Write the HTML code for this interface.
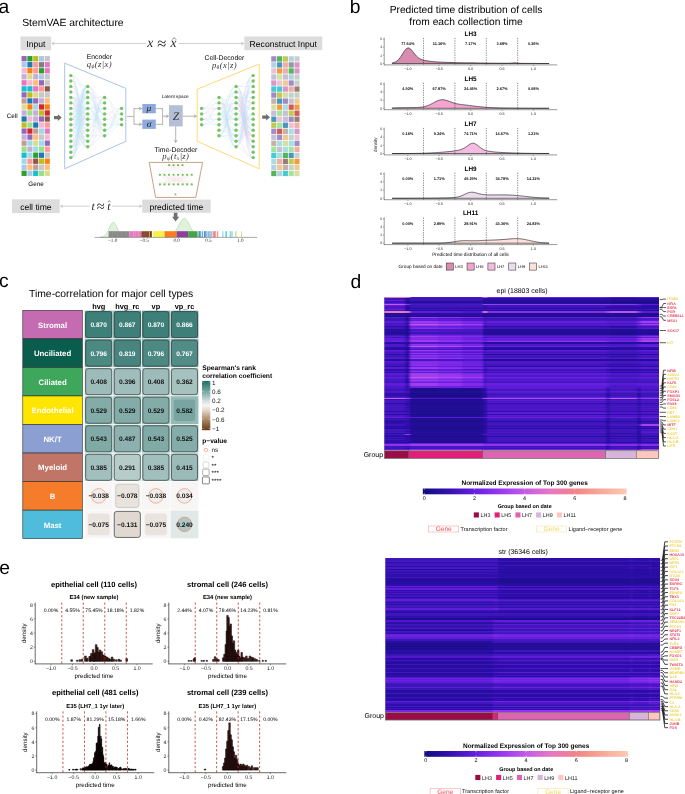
<!DOCTYPE html>
<html><head><meta charset="utf-8"><title>StemVAE figure</title>
<style>
html,body{margin:0;padding:0;background:#fff;}
body{width:685px;height:794px;overflow:hidden;font-family:"Liberation Sans",sans-serif;}
svg{display:block;will-change:transform;}
</style></head><body>
<svg width="685" height="794" viewBox="0 0 685 794" text-rendering="geometricPrecision">
<rect width="685" height="794" fill="#fff"/>
<g id="panel_a">
<text x="-1.60" y="12.60" font-size="19.3" text-anchor="start" font-weight="normal" fill="#000" font-family="Liberation Sans" font-style="normal" >a</text>
<text x="22.20" y="26.30" font-size="10.4" text-anchor="start" font-weight="normal" fill="#000" font-family="Liberation Sans" font-style="normal" >StemVAE architecture</text>
<rect x="20.50" y="36.50" width="30.70" height="13.70" fill="#dcdcdc" stroke="none" stroke-width="0" rx="0" />
<text x="35.90" y="46.80" font-size="8.6" text-anchor="middle" font-weight="normal" fill="#000" font-family="Liberation Sans" font-style="normal" >Input</text>
<rect x="244.30" y="36.50" width="78.00" height="13.70" fill="#dcdcdc" stroke="none" stroke-width="0" rx="0" />
<text x="283.30" y="46.80" font-size="8.6" text-anchor="middle" font-weight="normal" fill="#000" font-family="Liberation Sans" font-style="normal" >Reconstruct Input</text>
<line x1="146.00" y1="43.50" x2="52.00" y2="43.50" stroke="#999" stroke-width="0.45" />
<polyline points="54.34,42.15 52.00,43.50 54.34,44.85" fill="none" stroke="#999" stroke-width="0.45"/>
<line x1="178.60" y1="43.50" x2="243.60" y2="43.50" stroke="#999" stroke-width="0.45" />
<polyline points="241.26,44.85 243.60,43.50 241.26,42.15" fill="none" stroke="#999" stroke-width="0.45"/>
<text x="147.20" y="47.30" font-size="13.5" text-anchor="start" font-weight="normal" fill="#222" font-family="Liberation Serif" font-style="italic" >x</text>
<text x="157.20" y="49.00" font-size="16.5" text-anchor="start" font-weight="normal" fill="#222" font-family="Liberation Serif" font-style="normal" >≈</text>
<text x="170.40" y="47.30" font-size="13.5" text-anchor="start" font-weight="normal" fill="#222" font-family="Liberation Serif" font-style="italic" >x</text>
<polyline points="172.3,39.6 174.2,37.6 176.1,39.6" fill="none" stroke="#222" stroke-width="0.55"/>
<rect x="21.55" y="56.05" width="5.10" height="5.33" fill="#9467bd" stroke="none" stroke-width="0" rx="0" />
<rect x="27.35" y="56.05" width="5.10" height="5.33" fill="#2ca02c" stroke="none" stroke-width="0" rx="0" />
<rect x="33.15" y="56.05" width="5.10" height="5.33" fill="#bcbd22" stroke="none" stroke-width="0" rx="0" />
<rect x="38.95" y="56.05" width="5.10" height="5.33" fill="#aec7e8" stroke="none" stroke-width="0" rx="0" />
<rect x="44.75" y="56.05" width="5.10" height="5.33" fill="#c7c7c7" stroke="none" stroke-width="0" rx="0" />
<rect x="21.55" y="62.08" width="5.10" height="5.33" fill="#aec7e8" stroke="none" stroke-width="0" rx="0" />
<rect x="27.35" y="62.08" width="5.10" height="5.33" fill="#1f77b4" stroke="none" stroke-width="0" rx="0" />
<rect x="33.15" y="62.08" width="5.10" height="5.33" fill="#ff9896" stroke="none" stroke-width="0" rx="0" />
<rect x="38.95" y="62.08" width="5.10" height="5.33" fill="#7f7f7f" stroke="none" stroke-width="0" rx="0" />
<rect x="44.75" y="62.08" width="5.10" height="5.33" fill="#e377c2" stroke="none" stroke-width="0" rx="0" />
<rect x="21.55" y="68.11" width="5.10" height="5.33" fill="#f7b6d2" stroke="none" stroke-width="0" rx="0" />
<rect x="27.35" y="68.11" width="5.10" height="5.33" fill="#ff7f0e" stroke="none" stroke-width="0" rx="0" />
<rect x="33.15" y="68.11" width="5.10" height="5.33" fill="#ff9896" stroke="none" stroke-width="0" rx="0" />
<rect x="38.95" y="68.11" width="5.10" height="5.33" fill="#2ca02c" stroke="none" stroke-width="0" rx="0" />
<rect x="44.75" y="68.11" width="5.10" height="5.33" fill="#e377c2" stroke="none" stroke-width="0" rx="0" />
<rect x="21.55" y="74.14" width="5.10" height="5.33" fill="#c5b0d5" stroke="none" stroke-width="0" rx="0" />
<rect x="27.35" y="74.14" width="5.10" height="5.33" fill="#dbdb8d" stroke="none" stroke-width="0" rx="0" />
<rect x="33.15" y="74.14" width="5.10" height="5.33" fill="#c5b0d5" stroke="none" stroke-width="0" rx="0" />
<rect x="38.95" y="74.14" width="5.10" height="5.33" fill="#aec7e8" stroke="none" stroke-width="0" rx="0" />
<rect x="44.75" y="74.14" width="5.10" height="5.33" fill="#c7c7c7" stroke="none" stroke-width="0" rx="0" />
<rect x="21.55" y="80.17" width="5.10" height="5.33" fill="#e377c2" stroke="none" stroke-width="0" rx="0" />
<rect x="27.35" y="80.17" width="5.10" height="5.33" fill="#f7b6d2" stroke="none" stroke-width="0" rx="0" />
<rect x="33.15" y="80.17" width="5.10" height="5.33" fill="#ffbb78" stroke="none" stroke-width="0" rx="0" />
<rect x="38.95" y="80.17" width="5.10" height="5.33" fill="#9467bd" stroke="none" stroke-width="0" rx="0" />
<rect x="44.75" y="80.17" width="5.10" height="5.33" fill="#c7c7c7" stroke="none" stroke-width="0" rx="0" />
<rect x="21.55" y="86.20" width="5.10" height="5.33" fill="#17becf" stroke="none" stroke-width="0" rx="0" />
<rect x="27.35" y="86.20" width="5.10" height="5.33" fill="#17becf" stroke="none" stroke-width="0" rx="0" />
<rect x="33.15" y="86.20" width="5.10" height="5.33" fill="#e377c2" stroke="none" stroke-width="0" rx="0" />
<rect x="38.95" y="86.20" width="5.10" height="5.33" fill="#ff9896" stroke="none" stroke-width="0" rx="0" />
<rect x="44.75" y="86.20" width="5.10" height="5.33" fill="#8c564b" stroke="none" stroke-width="0" rx="0" />
<rect x="21.55" y="92.23" width="5.10" height="5.33" fill="#9467bd" stroke="none" stroke-width="0" rx="0" />
<rect x="27.35" y="92.23" width="5.10" height="5.33" fill="#bcbd22" stroke="none" stroke-width="0" rx="0" />
<rect x="33.15" y="92.23" width="5.10" height="5.33" fill="#dbdb8d" stroke="none" stroke-width="0" rx="0" />
<rect x="38.95" y="92.23" width="5.10" height="5.33" fill="#c7c7c7" stroke="none" stroke-width="0" rx="0" />
<rect x="44.75" y="92.23" width="5.10" height="5.33" fill="#c7c7c7" stroke="none" stroke-width="0" rx="0" />
<rect x="21.55" y="98.26" width="5.10" height="5.33" fill="#c49c94" stroke="none" stroke-width="0" rx="0" />
<rect x="27.35" y="98.26" width="5.10" height="5.33" fill="#1f77b4" stroke="none" stroke-width="0" rx="0" />
<rect x="33.15" y="98.26" width="5.10" height="5.33" fill="#9467bd" stroke="none" stroke-width="0" rx="0" />
<rect x="38.95" y="98.26" width="5.10" height="5.33" fill="#c5b0d5" stroke="none" stroke-width="0" rx="0" />
<rect x="44.75" y="98.26" width="5.10" height="5.33" fill="#ffbb78" stroke="none" stroke-width="0" rx="0" />
<rect x="21.55" y="104.29" width="5.10" height="5.33" fill="#dbdb8d" stroke="none" stroke-width="0" rx="0" />
<rect x="27.35" y="104.29" width="5.10" height="5.33" fill="#ff7f0e" stroke="none" stroke-width="0" rx="0" />
<rect x="33.15" y="104.29" width="5.10" height="5.33" fill="#9edae5" stroke="none" stroke-width="0" rx="0" />
<rect x="38.95" y="104.29" width="5.10" height="5.33" fill="#d62728" stroke="none" stroke-width="0" rx="0" />
<rect x="44.75" y="104.29" width="5.10" height="5.33" fill="#ff7f0e" stroke="none" stroke-width="0" rx="0" />
<rect x="21.55" y="110.32" width="5.10" height="5.33" fill="#c5b0d5" stroke="none" stroke-width="0" rx="0" />
<rect x="27.35" y="110.32" width="5.10" height="5.33" fill="#98df8a" stroke="none" stroke-width="0" rx="0" />
<rect x="33.15" y="110.32" width="5.10" height="5.33" fill="#c5b0d5" stroke="none" stroke-width="0" rx="0" />
<rect x="38.95" y="110.32" width="5.10" height="5.33" fill="#bcbd22" stroke="none" stroke-width="0" rx="0" />
<rect x="44.75" y="110.32" width="5.10" height="5.33" fill="#d62728" stroke="none" stroke-width="0" rx="0" />
<rect x="21.55" y="116.35" width="5.10" height="5.33" fill="#1f77b4" stroke="none" stroke-width="0" rx="0" />
<rect x="27.35" y="116.35" width="5.10" height="5.33" fill="#f7b6d2" stroke="none" stroke-width="0" rx="0" />
<rect x="33.15" y="116.35" width="5.10" height="5.33" fill="#c5b0d5" stroke="none" stroke-width="0" rx="0" />
<rect x="38.95" y="116.35" width="5.10" height="5.33" fill="#9467bd" stroke="none" stroke-width="0" rx="0" />
<rect x="44.75" y="116.35" width="5.10" height="5.33" fill="#8c564b" stroke="none" stroke-width="0" rx="0" />
<rect x="21.55" y="122.38" width="5.10" height="5.33" fill="#bcbd22" stroke="none" stroke-width="0" rx="0" />
<rect x="27.35" y="122.38" width="5.10" height="5.33" fill="#98df8a" stroke="none" stroke-width="0" rx="0" />
<rect x="33.15" y="122.38" width="5.10" height="5.33" fill="#1f77b4" stroke="none" stroke-width="0" rx="0" />
<rect x="38.95" y="122.38" width="5.10" height="5.33" fill="#f7b6d2" stroke="none" stroke-width="0" rx="0" />
<rect x="44.75" y="122.38" width="5.10" height="5.33" fill="#ff9896" stroke="none" stroke-width="0" rx="0" />
<rect x="21.55" y="128.41" width="5.10" height="5.33" fill="#9467bd" stroke="none" stroke-width="0" rx="0" />
<rect x="27.35" y="128.41" width="5.10" height="5.33" fill="#d62728" stroke="none" stroke-width="0" rx="0" />
<rect x="33.15" y="128.41" width="5.10" height="5.33" fill="#c49c94" stroke="none" stroke-width="0" rx="0" />
<rect x="38.95" y="128.41" width="5.10" height="5.33" fill="#9edae5" stroke="none" stroke-width="0" rx="0" />
<rect x="44.75" y="128.41" width="5.10" height="5.33" fill="#e377c2" stroke="none" stroke-width="0" rx="0" />
<rect x="21.55" y="134.44" width="5.10" height="5.33" fill="#c5b0d5" stroke="none" stroke-width="0" rx="0" />
<rect x="27.35" y="134.44" width="5.10" height="5.33" fill="#9467bd" stroke="none" stroke-width="0" rx="0" />
<rect x="33.15" y="134.44" width="5.10" height="5.33" fill="#ffbb78" stroke="none" stroke-width="0" rx="0" />
<rect x="38.95" y="134.44" width="5.10" height="5.33" fill="#c7c7c7" stroke="none" stroke-width="0" rx="0" />
<rect x="44.75" y="134.44" width="5.10" height="5.33" fill="#f7b6d2" stroke="none" stroke-width="0" rx="0" />
<rect x="21.55" y="140.47" width="5.10" height="5.33" fill="#c49c94" stroke="none" stroke-width="0" rx="0" />
<rect x="27.35" y="140.47" width="5.10" height="5.33" fill="#9edae5" stroke="none" stroke-width="0" rx="0" />
<rect x="33.15" y="140.47" width="5.10" height="5.33" fill="#dbdb8d" stroke="none" stroke-width="0" rx="0" />
<rect x="38.95" y="140.47" width="5.10" height="5.33" fill="#9edae5" stroke="none" stroke-width="0" rx="0" />
<rect x="44.75" y="140.47" width="5.10" height="5.33" fill="#9467bd" stroke="none" stroke-width="0" rx="0" />
<rect x="21.55" y="146.50" width="5.10" height="5.33" fill="#98df8a" stroke="none" stroke-width="0" rx="0" />
<rect x="27.35" y="146.50" width="5.10" height="5.33" fill="#c5b0d5" stroke="none" stroke-width="0" rx="0" />
<rect x="33.15" y="146.50" width="5.10" height="5.33" fill="#9edae5" stroke="none" stroke-width="0" rx="0" />
<rect x="38.95" y="146.50" width="5.10" height="5.33" fill="#98df8a" stroke="none" stroke-width="0" rx="0" />
<rect x="44.75" y="146.50" width="5.10" height="5.33" fill="#ff9896" stroke="none" stroke-width="0" rx="0" />
<rect x="21.55" y="152.53" width="5.10" height="5.33" fill="#17becf" stroke="none" stroke-width="0" rx="0" />
<rect x="27.35" y="152.53" width="5.10" height="5.33" fill="#9edae5" stroke="none" stroke-width="0" rx="0" />
<rect x="33.15" y="152.53" width="5.10" height="5.33" fill="#2ca02c" stroke="none" stroke-width="0" rx="0" />
<rect x="38.95" y="152.53" width="5.10" height="5.33" fill="#1f77b4" stroke="none" stroke-width="0" rx="0" />
<rect x="44.75" y="152.53" width="5.10" height="5.33" fill="#c7c7c7" stroke="none" stroke-width="0" rx="0" />
<rect x="21.55" y="158.56" width="5.10" height="5.33" fill="#9edae5" stroke="none" stroke-width="0" rx="0" />
<rect x="27.35" y="158.56" width="5.10" height="5.33" fill="#ff9896" stroke="none" stroke-width="0" rx="0" />
<rect x="33.15" y="158.56" width="5.10" height="5.33" fill="#8c564b" stroke="none" stroke-width="0" rx="0" />
<rect x="38.95" y="158.56" width="5.10" height="5.33" fill="#bcbd22" stroke="none" stroke-width="0" rx="0" />
<rect x="44.75" y="158.56" width="5.10" height="5.33" fill="#ff7f0e" stroke="none" stroke-width="0" rx="0" />
<rect x="21.55" y="164.59" width="5.10" height="5.33" fill="#aec7e8" stroke="none" stroke-width="0" rx="0" />
<rect x="27.35" y="164.59" width="5.10" height="5.33" fill="#ffbb78" stroke="none" stroke-width="0" rx="0" />
<rect x="33.15" y="164.59" width="5.10" height="5.33" fill="#c49c94" stroke="none" stroke-width="0" rx="0" />
<rect x="38.95" y="164.59" width="5.10" height="5.33" fill="#c7c7c7" stroke="none" stroke-width="0" rx="0" />
<rect x="44.75" y="164.59" width="5.10" height="5.33" fill="#ffbb78" stroke="none" stroke-width="0" rx="0" />
<rect x="21.55" y="170.62" width="5.10" height="5.33" fill="#2ca02c" stroke="none" stroke-width="0" rx="0" />
<rect x="27.35" y="170.62" width="5.10" height="5.33" fill="#aec7e8" stroke="none" stroke-width="0" rx="0" />
<rect x="33.15" y="170.62" width="5.10" height="5.33" fill="#17becf" stroke="none" stroke-width="0" rx="0" />
<rect x="38.95" y="170.62" width="5.10" height="5.33" fill="#98df8a" stroke="none" stroke-width="0" rx="0" />
<rect x="44.75" y="170.62" width="5.10" height="5.33" fill="#dbdb8d" stroke="none" stroke-width="0" rx="0" />
<rect x="271.25" y="56.25" width="5.10" height="5.33" fill="#a18bc4" stroke="none" stroke-width="0" rx="0" />
<rect x="277.05" y="56.25" width="5.10" height="5.33" fill="#54b45a" stroke="none" stroke-width="0" rx="0" />
<rect x="282.85" y="56.25" width="5.10" height="5.33" fill="#beca53" stroke="none" stroke-width="0" rx="0" />
<rect x="288.65" y="56.25" width="5.10" height="5.33" fill="#b4d1e4" stroke="none" stroke-width="0" rx="0" />
<rect x="294.45" y="56.25" width="5.10" height="5.33" fill="#c6d1cc" stroke="none" stroke-width="0" rx="0" />
<rect x="271.25" y="62.28" width="5.10" height="5.33" fill="#b4d1e4" stroke="none" stroke-width="0" rx="0" />
<rect x="277.05" y="62.28" width="5.10" height="5.33" fill="#4b96be" stroke="none" stroke-width="0" rx="0" />
<rect x="282.85" y="62.28" width="5.10" height="5.33" fill="#efaea8" stroke="none" stroke-width="0" rx="0" />
<rect x="288.65" y="62.28" width="5.10" height="5.33" fill="#919c96" stroke="none" stroke-width="0" rx="0" />
<rect x="294.45" y="62.28" width="5.10" height="5.33" fill="#da96c7" stroke="none" stroke-width="0" rx="0" />
<rect x="271.25" y="68.31" width="5.10" height="5.33" fill="#e9c5d3" stroke="none" stroke-width="0" rx="0" />
<rect x="277.05" y="68.31" width="5.10" height="5.33" fill="#ef9c44" stroke="none" stroke-width="0" rx="0" />
<rect x="282.85" y="68.31" width="5.10" height="5.33" fill="#efaea8" stroke="none" stroke-width="0" rx="0" />
<rect x="288.65" y="68.31" width="5.10" height="5.33" fill="#54b45a" stroke="none" stroke-width="0" rx="0" />
<rect x="294.45" y="68.31" width="5.10" height="5.33" fill="#da96c7" stroke="none" stroke-width="0" rx="0" />
<rect x="271.25" y="74.34" width="5.10" height="5.33" fill="#c4c0d6" stroke="none" stroke-width="0" rx="0" />
<rect x="277.05" y="74.34" width="5.10" height="5.33" fill="#d4dfa1" stroke="none" stroke-width="0" rx="0" />
<rect x="282.85" y="74.34" width="5.10" height="5.33" fill="#c4c0d6" stroke="none" stroke-width="0" rx="0" />
<rect x="288.65" y="74.34" width="5.10" height="5.33" fill="#b4d1e4" stroke="none" stroke-width="0" rx="0" />
<rect x="294.45" y="74.34" width="5.10" height="5.33" fill="#c6d1cc" stroke="none" stroke-width="0" rx="0" />
<rect x="271.25" y="80.37" width="5.10" height="5.33" fill="#da96c7" stroke="none" stroke-width="0" rx="0" />
<rect x="277.05" y="80.37" width="5.10" height="5.33" fill="#e9c5d3" stroke="none" stroke-width="0" rx="0" />
<rect x="282.85" y="80.37" width="5.10" height="5.33" fill="#efc892" stroke="none" stroke-width="0" rx="0" />
<rect x="288.65" y="80.37" width="5.10" height="5.33" fill="#a18bc4" stroke="none" stroke-width="0" rx="0" />
<rect x="294.45" y="80.37" width="5.10" height="5.33" fill="#c6d1cc" stroke="none" stroke-width="0" rx="0" />
<rect x="271.25" y="86.40" width="5.10" height="5.33" fill="#45cad1" stroke="none" stroke-width="0" rx="0" />
<rect x="277.05" y="86.40" width="5.10" height="5.33" fill="#45cad1" stroke="none" stroke-width="0" rx="0" />
<rect x="282.85" y="86.40" width="5.10" height="5.33" fill="#da96c7" stroke="none" stroke-width="0" rx="0" />
<rect x="288.65" y="86.40" width="5.10" height="5.33" fill="#efaea8" stroke="none" stroke-width="0" rx="0" />
<rect x="294.45" y="86.40" width="5.10" height="5.33" fill="#9b7e71" stroke="none" stroke-width="0" rx="0" />
<rect x="271.25" y="92.43" width="5.10" height="5.33" fill="#a18bc4" stroke="none" stroke-width="0" rx="0" />
<rect x="277.05" y="92.43" width="5.10" height="5.33" fill="#beca53" stroke="none" stroke-width="0" rx="0" />
<rect x="282.85" y="92.43" width="5.10" height="5.33" fill="#d4dfa1" stroke="none" stroke-width="0" rx="0" />
<rect x="288.65" y="92.43" width="5.10" height="5.33" fill="#c6d1cc" stroke="none" stroke-width="0" rx="0" />
<rect x="294.45" y="92.43" width="5.10" height="5.33" fill="#c6d1cc" stroke="none" stroke-width="0" rx="0" />
<rect x="271.25" y="98.46" width="5.10" height="5.33" fill="#c4b2a6" stroke="none" stroke-width="0" rx="0" />
<rect x="277.05" y="98.46" width="5.10" height="5.33" fill="#4b96be" stroke="none" stroke-width="0" rx="0" />
<rect x="282.85" y="98.46" width="5.10" height="5.33" fill="#a18bc4" stroke="none" stroke-width="0" rx="0" />
<rect x="288.65" y="98.46" width="5.10" height="5.33" fill="#c4c0d6" stroke="none" stroke-width="0" rx="0" />
<rect x="294.45" y="98.46" width="5.10" height="5.33" fill="#efc892" stroke="none" stroke-width="0" rx="0" />
<rect x="271.25" y="104.49" width="5.10" height="5.33" fill="#d4dfa1" stroke="none" stroke-width="0" rx="0" />
<rect x="277.05" y="104.49" width="5.10" height="5.33" fill="#ef9c44" stroke="none" stroke-width="0" rx="0" />
<rect x="282.85" y="104.49" width="5.10" height="5.33" fill="#a8dee1" stroke="none" stroke-width="0" rx="0" />
<rect x="288.65" y="104.49" width="5.10" height="5.33" fill="#d15c57" stroke="none" stroke-width="0" rx="0" />
<rect x="294.45" y="104.49" width="5.10" height="5.33" fill="#ef9c44" stroke="none" stroke-width="0" rx="0" />
<rect x="271.25" y="110.52" width="5.10" height="5.33" fill="#c4c0d6" stroke="none" stroke-width="0" rx="0" />
<rect x="277.05" y="110.52" width="5.10" height="5.33" fill="#a3e29f" stroke="none" stroke-width="0" rx="0" />
<rect x="282.85" y="110.52" width="5.10" height="5.33" fill="#c4c0d6" stroke="none" stroke-width="0" rx="0" />
<rect x="288.65" y="110.52" width="5.10" height="5.33" fill="#beca53" stroke="none" stroke-width="0" rx="0" />
<rect x="294.45" y="110.52" width="5.10" height="5.33" fill="#d15c57" stroke="none" stroke-width="0" rx="0" />
<rect x="271.25" y="116.55" width="5.10" height="5.33" fill="#4b96be" stroke="none" stroke-width="0" rx="0" />
<rect x="277.05" y="116.55" width="5.10" height="5.33" fill="#e9c5d3" stroke="none" stroke-width="0" rx="0" />
<rect x="282.85" y="116.55" width="5.10" height="5.33" fill="#c4c0d6" stroke="none" stroke-width="0" rx="0" />
<rect x="288.65" y="116.55" width="5.10" height="5.33" fill="#a18bc4" stroke="none" stroke-width="0" rx="0" />
<rect x="294.45" y="116.55" width="5.10" height="5.33" fill="#9b7e71" stroke="none" stroke-width="0" rx="0" />
<rect x="271.25" y="122.58" width="5.10" height="5.33" fill="#beca53" stroke="none" stroke-width="0" rx="0" />
<rect x="277.05" y="122.58" width="5.10" height="5.33" fill="#a3e29f" stroke="none" stroke-width="0" rx="0" />
<rect x="282.85" y="122.58" width="5.10" height="5.33" fill="#4b96be" stroke="none" stroke-width="0" rx="0" />
<rect x="288.65" y="122.58" width="5.10" height="5.33" fill="#e9c5d3" stroke="none" stroke-width="0" rx="0" />
<rect x="294.45" y="122.58" width="5.10" height="5.33" fill="#efaea8" stroke="none" stroke-width="0" rx="0" />
<rect x="271.25" y="128.61" width="5.10" height="5.33" fill="#a18bc4" stroke="none" stroke-width="0" rx="0" />
<rect x="277.05" y="128.61" width="5.10" height="5.33" fill="#d15c57" stroke="none" stroke-width="0" rx="0" />
<rect x="282.85" y="128.61" width="5.10" height="5.33" fill="#c4b2a6" stroke="none" stroke-width="0" rx="0" />
<rect x="288.65" y="128.61" width="5.10" height="5.33" fill="#a8dee1" stroke="none" stroke-width="0" rx="0" />
<rect x="294.45" y="128.61" width="5.10" height="5.33" fill="#da96c7" stroke="none" stroke-width="0" rx="0" />
<rect x="271.25" y="134.64" width="5.10" height="5.33" fill="#c4c0d6" stroke="none" stroke-width="0" rx="0" />
<rect x="277.05" y="134.64" width="5.10" height="5.33" fill="#a18bc4" stroke="none" stroke-width="0" rx="0" />
<rect x="282.85" y="134.64" width="5.10" height="5.33" fill="#efc892" stroke="none" stroke-width="0" rx="0" />
<rect x="288.65" y="134.64" width="5.10" height="5.33" fill="#c6d1cc" stroke="none" stroke-width="0" rx="0" />
<rect x="294.45" y="134.64" width="5.10" height="5.33" fill="#e9c5d3" stroke="none" stroke-width="0" rx="0" />
<rect x="271.25" y="140.67" width="5.10" height="5.33" fill="#c4b2a6" stroke="none" stroke-width="0" rx="0" />
<rect x="277.05" y="140.67" width="5.10" height="5.33" fill="#a8dee1" stroke="none" stroke-width="0" rx="0" />
<rect x="282.85" y="140.67" width="5.10" height="5.33" fill="#d4dfa1" stroke="none" stroke-width="0" rx="0" />
<rect x="288.65" y="140.67" width="5.10" height="5.33" fill="#a8dee1" stroke="none" stroke-width="0" rx="0" />
<rect x="294.45" y="140.67" width="5.10" height="5.33" fill="#a18bc4" stroke="none" stroke-width="0" rx="0" />
<rect x="271.25" y="146.70" width="5.10" height="5.33" fill="#a3e29f" stroke="none" stroke-width="0" rx="0" />
<rect x="277.05" y="146.70" width="5.10" height="5.33" fill="#c4c0d6" stroke="none" stroke-width="0" rx="0" />
<rect x="282.85" y="146.70" width="5.10" height="5.33" fill="#a8dee1" stroke="none" stroke-width="0" rx="0" />
<rect x="288.65" y="146.70" width="5.10" height="5.33" fill="#a3e29f" stroke="none" stroke-width="0" rx="0" />
<rect x="294.45" y="146.70" width="5.10" height="5.33" fill="#efaea8" stroke="none" stroke-width="0" rx="0" />
<rect x="271.25" y="152.73" width="5.10" height="5.33" fill="#45cad1" stroke="none" stroke-width="0" rx="0" />
<rect x="277.05" y="152.73" width="5.10" height="5.33" fill="#a8dee1" stroke="none" stroke-width="0" rx="0" />
<rect x="282.85" y="152.73" width="5.10" height="5.33" fill="#54b45a" stroke="none" stroke-width="0" rx="0" />
<rect x="288.65" y="152.73" width="5.10" height="5.33" fill="#4b96be" stroke="none" stroke-width="0" rx="0" />
<rect x="294.45" y="152.73" width="5.10" height="5.33" fill="#c6d1cc" stroke="none" stroke-width="0" rx="0" />
<rect x="271.25" y="158.76" width="5.10" height="5.33" fill="#a8dee1" stroke="none" stroke-width="0" rx="0" />
<rect x="277.05" y="158.76" width="5.10" height="5.33" fill="#efaea8" stroke="none" stroke-width="0" rx="0" />
<rect x="282.85" y="158.76" width="5.10" height="5.33" fill="#9b7e71" stroke="none" stroke-width="0" rx="0" />
<rect x="288.65" y="158.76" width="5.10" height="5.33" fill="#beca53" stroke="none" stroke-width="0" rx="0" />
<rect x="294.45" y="158.76" width="5.10" height="5.33" fill="#ef9c44" stroke="none" stroke-width="0" rx="0" />
<rect x="271.25" y="164.79" width="5.10" height="5.33" fill="#b4d1e4" stroke="none" stroke-width="0" rx="0" />
<rect x="277.05" y="164.79" width="5.10" height="5.33" fill="#efc892" stroke="none" stroke-width="0" rx="0" />
<rect x="282.85" y="164.79" width="5.10" height="5.33" fill="#c4b2a6" stroke="none" stroke-width="0" rx="0" />
<rect x="288.65" y="164.79" width="5.10" height="5.33" fill="#c6d1cc" stroke="none" stroke-width="0" rx="0" />
<rect x="294.45" y="164.79" width="5.10" height="5.33" fill="#efc892" stroke="none" stroke-width="0" rx="0" />
<rect x="271.25" y="170.82" width="5.10" height="5.33" fill="#54b45a" stroke="none" stroke-width="0" rx="0" />
<rect x="277.05" y="170.82" width="5.10" height="5.33" fill="#b4d1e4" stroke="none" stroke-width="0" rx="0" />
<rect x="282.85" y="170.82" width="5.10" height="5.33" fill="#45cad1" stroke="none" stroke-width="0" rx="0" />
<rect x="288.65" y="170.82" width="5.10" height="5.33" fill="#a3e29f" stroke="none" stroke-width="0" rx="0" />
<rect x="294.45" y="170.82" width="5.10" height="5.33" fill="#d4dfa1" stroke="none" stroke-width="0" rx="0" />
<text x="6.80" y="118.40" font-size="6.3" text-anchor="start" font-weight="normal" fill="#000" font-family="Liberation Sans" font-style="normal" >Cell</text>
<text x="36.00" y="186.40" font-size="6.3" text-anchor="middle" font-weight="normal" fill="#000" font-family="Liberation Sans" font-style="normal" >Gene</text>
<polygon points="54.00,115.95 57.90,115.95 57.90,114.30 61.80,117.60 57.90,120.90 57.90,119.25 54.00,119.25" fill="#6f6f6f"/>
<polygon points="262.20,115.55 266.10,115.55 266.10,113.90 270.00,117.20 266.10,120.50 266.10,118.85 262.20,118.85" fill="#6f6f6f"/>
<polygon points="64.7,63.2 125.8,88.3 125.8,141.3 64.7,168.8" fill="none" stroke="#adc2e8" stroke-width="1.0"/>
<g stroke-width="0.3" opacity="0.75" fill="none"><path d="M70.8 81.0C79.2 81.0 79.2 119.3 87.7 119.3M70.8 97.5C79.2 97.5 79.2 102.9 87.7 102.9M70.8 97.5C79.2 97.5 79.2 113.9 87.7 113.9M70.8 102.9C79.2 102.9 79.2 108.4 87.7 108.4M70.8 102.9C79.2 102.9 79.2 135.7 87.7 135.7M70.8 113.9C79.2 113.9 79.2 141.2 87.7 141.2M70.8 119.3C79.2 119.3 79.2 124.8 87.7 124.8M70.8 124.8C79.2 124.8 79.2 141.2 87.7 141.2M70.8 130.3C79.2 130.3 79.2 97.5 87.7 97.5M70.8 135.7C79.2 135.7 79.2 86.5 87.7 86.5M70.8 141.2C79.2 141.2 79.2 146.7 87.7 146.7M70.8 146.7C79.2 146.7 79.2 92.0 87.7 92.0M70.8 146.7C79.2 146.7 79.2 135.7 87.7 135.7M70.8 152.2C79.2 152.2 79.2 141.2 87.7 141.2M70.8 157.6C79.2 157.6 79.2 86.5 87.7 86.5M70.8 157.6C79.2 157.6 79.2 92.0 87.7 92.0M70.8 157.6C79.2 157.6 79.2 113.9 87.7 113.9M70.8 157.6C79.2 157.6 79.2 146.7 87.7 146.7M87.7 86.5C96.2 86.5 96.2 102.9 104.6 102.9M87.7 86.5C96.2 86.5 96.2 130.3 104.6 130.3M87.7 102.9C96.2 102.9 96.2 113.9 104.6 113.9M87.7 108.4C96.2 108.4 96.2 108.4 104.6 108.4M87.7 108.4C96.2 108.4 96.2 124.8 104.6 124.8M87.7 108.4C96.2 108.4 96.2 130.3 104.6 130.3M87.7 108.4C96.2 108.4 96.2 135.7 104.6 135.7M87.7 119.3C96.2 119.3 96.2 97.5 104.6 97.5M87.7 119.3C96.2 119.3 96.2 119.3 104.6 119.3M87.7 135.7C96.2 135.7 96.2 97.5 104.6 97.5M104.6 108.4C113.1 108.4 113.1 119.3 121.6 119.3M104.6 124.8C113.1 124.8 113.1 124.8 121.6 124.8M104.6 130.3C113.1 130.3 113.1 113.9 121.6 113.9M104.6 135.7C113.1 135.7 113.1 124.8 121.6 124.8" stroke="#a4d0f2"/><path d="M70.8 75.6C79.2 75.6 79.2 146.7 87.7 146.7M70.8 81.0C79.2 81.0 79.2 86.5 87.7 86.5M70.8 86.5C79.2 86.5 79.2 113.9 87.7 113.9M70.8 92.0C79.2 92.0 79.2 97.5 87.7 97.5M70.8 97.5C79.2 97.5 79.2 119.3 87.7 119.3M70.8 102.9C79.2 102.9 79.2 119.3 87.7 119.3M70.8 108.4C79.2 108.4 79.2 124.8 87.7 124.8M70.8 124.8C79.2 124.8 79.2 86.5 87.7 86.5M70.8 124.8C79.2 124.8 79.2 119.3 87.7 119.3M70.8 124.8C79.2 124.8 79.2 124.8 87.7 124.8M70.8 124.8C79.2 124.8 79.2 146.7 87.7 146.7M70.8 130.3C79.2 130.3 79.2 108.4 87.7 108.4M70.8 141.2C79.2 141.2 79.2 113.9 87.7 113.9M70.8 146.7C79.2 146.7 79.2 108.4 87.7 108.4M70.8 146.7C79.2 146.7 79.2 130.3 87.7 130.3M70.8 157.6C79.2 157.6 79.2 130.3 87.7 130.3M87.7 97.5C96.2 97.5 96.2 97.5 104.6 97.5M87.7 119.3C96.2 119.3 96.2 124.8 104.6 124.8M87.7 124.8C96.2 124.8 96.2 130.3 104.6 130.3M87.7 130.3C96.2 130.3 96.2 97.5 104.6 97.5M87.7 135.7C96.2 135.7 96.2 135.7 104.6 135.7M87.7 141.2C96.2 141.2 96.2 102.9 104.6 102.9M87.7 146.7C96.2 146.7 96.2 124.8 104.6 124.8M104.6 113.9C113.1 113.9 113.1 108.4 121.6 108.4M104.6 113.9C113.1 113.9 113.1 124.8 121.6 124.8M104.6 119.3C113.1 119.3 113.1 113.9 121.6 113.9" stroke="#f0aede"/><path d="M70.8 92.0C79.2 92.0 79.2 135.7 87.7 135.7M70.8 102.9C79.2 102.9 79.2 92.0 87.7 92.0M70.8 102.9C79.2 102.9 79.2 130.3 87.7 130.3M70.8 102.9C79.2 102.9 79.2 146.7 87.7 146.7M70.8 108.4C79.2 108.4 79.2 141.2 87.7 141.2M70.8 113.9C79.2 113.9 79.2 113.9 87.7 113.9M70.8 113.9C79.2 113.9 79.2 130.3 87.7 130.3M70.8 119.3C79.2 119.3 79.2 86.5 87.7 86.5M70.8 119.3C79.2 119.3 79.2 102.9 87.7 102.9M70.8 119.3C79.2 119.3 79.2 108.4 87.7 108.4M70.8 119.3C79.2 119.3 79.2 146.7 87.7 146.7M70.8 124.8C79.2 124.8 79.2 108.4 87.7 108.4M70.8 130.3C79.2 130.3 79.2 92.0 87.7 92.0M70.8 141.2C79.2 141.2 79.2 86.5 87.7 86.5M70.8 146.7C79.2 146.7 79.2 86.5 87.7 86.5M70.8 146.7C79.2 146.7 79.2 141.2 87.7 141.2M70.8 152.2C79.2 152.2 79.2 108.4 87.7 108.4M87.7 119.3C96.2 119.3 96.2 108.4 104.6 108.4M87.7 124.8C96.2 124.8 96.2 113.9 104.6 113.9M87.7 146.7C96.2 146.7 96.2 113.9 104.6 113.9M104.6 130.3C113.1 130.3 113.1 119.3 121.6 119.3M104.6 135.7C113.1 135.7 113.1 108.4 121.6 108.4" stroke="#8fe0ec"/><path d="M70.8 75.6C79.2 75.6 79.2 130.3 87.7 130.3M70.8 86.5C79.2 86.5 79.2 124.8 87.7 124.8M70.8 97.5C79.2 97.5 79.2 108.4 87.7 108.4M70.8 97.5C79.2 97.5 79.2 124.8 87.7 124.8M70.8 108.4C79.2 108.4 79.2 97.5 87.7 97.5M70.8 113.9C79.2 113.9 79.2 86.5 87.7 86.5M70.8 113.9C79.2 113.9 79.2 97.5 87.7 97.5M70.8 119.3C79.2 119.3 79.2 92.0 87.7 92.0M70.8 119.3C79.2 119.3 79.2 119.3 87.7 119.3M70.8 130.3C79.2 130.3 79.2 146.7 87.7 146.7M70.8 135.7C79.2 135.7 79.2 130.3 87.7 130.3M70.8 157.6C79.2 157.6 79.2 119.3 87.7 119.3M87.7 86.5C96.2 86.5 96.2 113.9 104.6 113.9M87.7 92.0C96.2 92.0 96.2 102.9 104.6 102.9M87.7 92.0C96.2 92.0 96.2 113.9 104.6 113.9M87.7 92.0C96.2 92.0 96.2 135.7 104.6 135.7M87.7 97.5C96.2 97.5 96.2 124.8 104.6 124.8M87.7 108.4C96.2 108.4 96.2 102.9 104.6 102.9M87.7 146.7C96.2 146.7 96.2 135.7 104.6 135.7M104.6 97.5C113.1 97.5 113.1 113.9 121.6 113.9M104.6 130.3C113.1 130.3 113.1 108.4 121.6 108.4" stroke="#c4bcf0"/><path d="M70.8 75.6C79.2 75.6 79.2 86.5 87.7 86.5M70.8 75.6C79.2 75.6 79.2 92.0 87.7 92.0M70.8 81.0C79.2 81.0 79.2 113.9 87.7 113.9M70.8 81.0C79.2 81.0 79.2 130.3 87.7 130.3M70.8 86.5C79.2 86.5 79.2 92.0 87.7 92.0M70.8 97.5C79.2 97.5 79.2 97.5 87.7 97.5M70.8 97.5C79.2 97.5 79.2 141.2 87.7 141.2M70.8 102.9C79.2 102.9 79.2 86.5 87.7 86.5M70.8 102.9C79.2 102.9 79.2 113.9 87.7 113.9M70.8 108.4C79.2 108.4 79.2 108.4 87.7 108.4M70.8 108.4C79.2 108.4 79.2 119.3 87.7 119.3M70.8 119.3C79.2 119.3 79.2 97.5 87.7 97.5M70.8 119.3C79.2 119.3 79.2 141.2 87.7 141.2M70.8 124.8C79.2 124.8 79.2 102.9 87.7 102.9M70.8 130.3C79.2 130.3 79.2 86.5 87.7 86.5M70.8 130.3C79.2 130.3 79.2 141.2 87.7 141.2M70.8 141.2C79.2 141.2 79.2 119.3 87.7 119.3M70.8 146.7C79.2 146.7 79.2 102.9 87.7 102.9M70.8 146.7C79.2 146.7 79.2 113.9 87.7 113.9M70.8 152.2C79.2 152.2 79.2 97.5 87.7 97.5M70.8 152.2C79.2 152.2 79.2 113.9 87.7 113.9M70.8 157.6C79.2 157.6 79.2 102.9 87.7 102.9M87.7 92.0C96.2 92.0 96.2 124.8 104.6 124.8M87.7 92.0C96.2 92.0 96.2 130.3 104.6 130.3M87.7 97.5C96.2 97.5 96.2 113.9 104.6 113.9M87.7 102.9C96.2 102.9 96.2 130.3 104.6 130.3M87.7 113.9C96.2 113.9 96.2 124.8 104.6 124.8M87.7 124.8C96.2 124.8 96.2 108.4 104.6 108.4M87.7 130.3C96.2 130.3 96.2 102.9 104.6 102.9M87.7 141.2C96.2 141.2 96.2 97.5 104.6 97.5M104.6 97.5C113.1 97.5 113.1 124.8 121.6 124.8M104.6 119.3C113.1 119.3 113.1 124.8 121.6 124.8" stroke="#9ee3f0"/></g>
<g fill="#72c55e"><circle cx="70.8" cy="75.6" r="1.7"/><circle cx="70.8" cy="81.0" r="1.7"/><circle cx="70.8" cy="86.5" r="1.7"/><circle cx="70.8" cy="92.0" r="1.7"/><circle cx="70.8" cy="97.5" r="1.7"/><circle cx="70.8" cy="102.9" r="1.7"/><circle cx="70.8" cy="108.4" r="1.7"/><circle cx="70.8" cy="113.9" r="1.7"/><circle cx="70.8" cy="119.3" r="1.7"/><circle cx="70.8" cy="124.8" r="1.7"/><circle cx="70.8" cy="130.3" r="1.7"/><circle cx="70.8" cy="135.7" r="1.7"/><circle cx="70.8" cy="141.2" r="1.7"/><circle cx="70.8" cy="146.7" r="1.7"/><circle cx="70.8" cy="152.2" r="1.7"/><circle cx="70.8" cy="157.6" r="1.7"/><circle cx="87.7" cy="86.5" r="1.7"/><circle cx="87.7" cy="92.0" r="1.7"/><circle cx="87.7" cy="97.5" r="1.7"/><circle cx="87.7" cy="102.9" r="1.7"/><circle cx="87.7" cy="108.4" r="1.7"/><circle cx="87.7" cy="113.9" r="1.7"/><circle cx="87.7" cy="119.3" r="1.7"/><circle cx="87.7" cy="124.8" r="1.7"/><circle cx="87.7" cy="130.3" r="1.7"/><circle cx="87.7" cy="135.7" r="1.7"/><circle cx="87.7" cy="141.2" r="1.7"/><circle cx="87.7" cy="146.7" r="1.7"/><circle cx="104.6" cy="97.5" r="1.7"/><circle cx="104.6" cy="102.9" r="1.7"/><circle cx="104.6" cy="108.4" r="1.7"/><circle cx="104.6" cy="113.9" r="1.7"/><circle cx="104.6" cy="119.3" r="1.7"/><circle cx="104.6" cy="124.8" r="1.7"/><circle cx="104.6" cy="130.3" r="1.7"/><circle cx="104.6" cy="135.7" r="1.7"/><circle cx="121.6" cy="108.4" r="1.7"/><circle cx="121.6" cy="113.9" r="1.7"/><circle cx="121.6" cy="119.3" r="1.7"/><circle cx="121.6" cy="124.8" r="1.7"/></g>
<text x="99.40" y="58.50" font-size="6.8" text-anchor="middle" font-weight="normal" fill="#000" font-family="Liberation Sans" font-style="normal" >Encoder</text>
<text x="99.40" y="66.60" text-anchor="middle" font-family="Liberation Serif" font-style="italic" font-size="8.7" letter-spacing="0.35" fill="#333">q<tspan font-size="5.6" dy="1.4">ϕ</tspan><tspan dy="-1.4">(z|x)</tspan></text>
<polygon points="197.2,89.2 259.2,64 259.2,168.8 197.2,141.3" fill="none" stroke="#ffd978" stroke-width="1.0"/>
<g stroke-width="0.3" opacity="0.75" fill="none"><path d="M201.6 108.4C210.3 108.4 210.3 102.9 219.0 102.9M201.6 108.4C210.3 108.4 210.3 124.8 219.0 124.8M201.6 119.3C210.3 119.3 210.3 108.4 219.0 108.4M201.6 119.3C210.3 119.3 210.3 119.3 219.0 119.3M201.6 119.3C210.3 119.3 210.3 124.8 219.0 124.8M201.6 124.8C210.3 124.8 210.3 108.4 219.0 108.4M219.0 102.9C227.6 102.9 227.6 108.4 236.1 108.4M219.0 102.9C227.6 102.9 227.6 146.7 236.1 146.7M219.0 108.4C227.6 108.4 227.6 92.0 236.1 92.0M219.0 108.4C227.6 108.4 227.6 135.7 236.1 135.7M219.0 108.4C227.6 108.4 227.6 141.2 236.1 141.2M219.0 113.9C227.6 113.9 227.6 108.4 236.1 108.4M219.0 119.3C227.6 119.3 227.6 119.3 236.1 119.3M219.0 124.8C227.6 124.8 227.6 102.9 236.1 102.9M219.0 124.8C227.6 124.8 227.6 113.9 236.1 113.9M219.0 130.3C227.6 130.3 227.6 135.7 236.1 135.7M219.0 135.7C227.6 135.7 227.6 135.7 236.1 135.7M236.1 97.5C244.6 97.5 244.6 130.3 253.2 130.3M236.1 97.5C244.6 97.5 244.6 135.7 253.2 135.7M236.1 97.5C244.6 97.5 244.6 157.6 253.2 157.6M236.1 102.9C244.6 102.9 244.6 108.4 253.2 108.4M236.1 102.9C244.6 102.9 244.6 135.7 253.2 135.7M236.1 102.9C244.6 102.9 244.6 157.6 253.2 157.6M236.1 119.3C244.6 119.3 244.6 135.7 253.2 135.7M236.1 141.2C244.6 141.2 244.6 130.3 253.2 130.3M236.1 146.7C244.6 146.7 244.6 75.6 253.2 75.6M236.1 146.7C244.6 146.7 244.6 81.0 253.2 81.0" stroke="#a4d0f2"/><path d="M201.6 108.4C210.3 108.4 210.3 108.4 219.0 108.4M201.6 113.9C210.3 113.9 210.3 108.4 219.0 108.4M201.6 124.8C210.3 124.8 210.3 119.3 219.0 119.3M219.0 97.5C227.6 97.5 227.6 141.2 236.1 141.2M219.0 102.9C227.6 102.9 227.6 113.9 236.1 113.9M219.0 108.4C227.6 108.4 227.6 86.5 236.1 86.5M219.0 108.4C227.6 108.4 227.6 102.9 236.1 102.9M236.1 86.5C244.6 86.5 244.6 141.2 253.2 141.2M236.1 92.0C244.6 92.0 244.6 102.9 253.2 102.9M236.1 92.0C244.6 92.0 244.6 152.2 253.2 152.2M236.1 97.5C244.6 97.5 244.6 146.7 253.2 146.7M236.1 102.9C244.6 102.9 244.6 141.2 253.2 141.2M236.1 102.9C244.6 102.9 244.6 146.7 253.2 146.7M236.1 102.9C244.6 102.9 244.6 152.2 253.2 152.2M236.1 108.4C244.6 108.4 244.6 75.6 253.2 75.6M236.1 108.4C244.6 108.4 244.6 92.0 253.2 92.0M236.1 108.4C244.6 108.4 244.6 135.7 253.2 135.7M236.1 119.3C244.6 119.3 244.6 75.6 253.2 75.6M236.1 119.3C244.6 119.3 244.6 86.5 253.2 86.5M236.1 119.3C244.6 119.3 244.6 141.2 253.2 141.2M236.1 124.8C244.6 124.8 244.6 135.7 253.2 135.7M236.1 130.3C244.6 130.3 244.6 113.9 253.2 113.9M236.1 130.3C244.6 130.3 244.6 135.7 253.2 135.7M236.1 141.2C244.6 141.2 244.6 102.9 253.2 102.9M236.1 141.2C244.6 141.2 244.6 157.6 253.2 157.6M236.1 146.7C244.6 146.7 244.6 119.3 253.2 119.3" stroke="#f0aede"/><path d="M219.0 97.5C227.6 97.5 227.6 113.9 236.1 113.9M219.0 97.5C227.6 97.5 227.6 146.7 236.1 146.7M219.0 102.9C227.6 102.9 227.6 124.8 236.1 124.8M219.0 113.9C227.6 113.9 227.6 124.8 236.1 124.8M219.0 113.9C227.6 113.9 227.6 130.3 236.1 130.3M219.0 119.3C227.6 119.3 227.6 86.5 236.1 86.5M219.0 124.8C227.6 124.8 227.6 130.3 236.1 130.3M219.0 135.7C227.6 135.7 227.6 92.0 236.1 92.0M219.0 135.7C227.6 135.7 227.6 108.4 236.1 108.4M219.0 135.7C227.6 135.7 227.6 141.2 236.1 141.2M236.1 86.5C244.6 86.5 244.6 81.0 253.2 81.0M236.1 86.5C244.6 86.5 244.6 146.7 253.2 146.7M236.1 97.5C244.6 97.5 244.6 97.5 253.2 97.5M236.1 102.9C244.6 102.9 244.6 92.0 253.2 92.0M236.1 108.4C244.6 108.4 244.6 130.3 253.2 130.3M236.1 113.9C244.6 113.9 244.6 119.3 253.2 119.3M236.1 113.9C244.6 113.9 244.6 135.7 253.2 135.7M236.1 119.3C244.6 119.3 244.6 108.4 253.2 108.4M236.1 124.8C244.6 124.8 244.6 113.9 253.2 113.9M236.1 124.8C244.6 124.8 244.6 119.3 253.2 119.3M236.1 135.7C244.6 135.7 244.6 81.0 253.2 81.0M236.1 141.2C244.6 141.2 244.6 124.8 253.2 124.8" stroke="#8fe0ec"/><path d="M201.6 108.4C210.3 108.4 210.3 97.5 219.0 97.5M201.6 113.9C210.3 113.9 210.3 102.9 219.0 102.9M201.6 119.3C210.3 119.3 210.3 113.9 219.0 113.9M219.0 102.9C227.6 102.9 227.6 119.3 236.1 119.3M219.0 102.9C227.6 102.9 227.6 141.2 236.1 141.2M219.0 113.9C227.6 113.9 227.6 135.7 236.1 135.7M219.0 119.3C227.6 119.3 227.6 108.4 236.1 108.4M219.0 119.3C227.6 119.3 227.6 135.7 236.1 135.7M219.0 119.3C227.6 119.3 227.6 146.7 236.1 146.7M219.0 130.3C227.6 130.3 227.6 113.9 236.1 113.9M219.0 135.7C227.6 135.7 227.6 97.5 236.1 97.5M236.1 86.5C244.6 86.5 244.6 86.5 253.2 86.5M236.1 86.5C244.6 86.5 244.6 124.8 253.2 124.8M236.1 92.0C244.6 92.0 244.6 97.5 253.2 97.5M236.1 92.0C244.6 92.0 244.6 135.7 253.2 135.7M236.1 97.5C244.6 97.5 244.6 102.9 253.2 102.9M236.1 102.9C244.6 102.9 244.6 130.3 253.2 130.3M236.1 108.4C244.6 108.4 244.6 141.2 253.2 141.2M236.1 108.4C244.6 108.4 244.6 146.7 253.2 146.7M236.1 113.9C244.6 113.9 244.6 75.6 253.2 75.6M236.1 119.3C244.6 119.3 244.6 102.9 253.2 102.9M236.1 119.3C244.6 119.3 244.6 119.3 253.2 119.3M236.1 135.7C244.6 135.7 244.6 86.5 253.2 86.5M236.1 141.2C244.6 141.2 244.6 97.5 253.2 97.5M236.1 141.2C244.6 141.2 244.6 113.9 253.2 113.9M236.1 146.7C244.6 146.7 244.6 102.9 253.2 102.9M236.1 146.7C244.6 146.7 244.6 157.6 253.2 157.6" stroke="#c4bcf0"/><path d="M201.6 124.8C210.3 124.8 210.3 124.8 219.0 124.8M219.0 97.5C227.6 97.5 227.6 108.4 236.1 108.4M219.0 102.9C227.6 102.9 227.6 92.0 236.1 92.0M219.0 108.4C227.6 108.4 227.6 119.3 236.1 119.3M219.0 108.4C227.6 108.4 227.6 130.3 236.1 130.3M219.0 113.9C227.6 113.9 227.6 92.0 236.1 92.0M219.0 113.9C227.6 113.9 227.6 102.9 236.1 102.9M219.0 113.9C227.6 113.9 227.6 119.3 236.1 119.3M219.0 113.9C227.6 113.9 227.6 141.2 236.1 141.2M219.0 113.9C227.6 113.9 227.6 146.7 236.1 146.7M219.0 119.3C227.6 119.3 227.6 102.9 236.1 102.9M219.0 130.3C227.6 130.3 227.6 130.3 236.1 130.3M219.0 135.7C227.6 135.7 227.6 146.7 236.1 146.7M236.1 86.5C244.6 86.5 244.6 130.3 253.2 130.3M236.1 92.0C244.6 92.0 244.6 92.0 253.2 92.0M236.1 92.0C244.6 92.0 244.6 124.8 253.2 124.8M236.1 97.5C244.6 97.5 244.6 92.0 253.2 92.0M236.1 97.5C244.6 97.5 244.6 119.3 253.2 119.3M236.1 97.5C244.6 97.5 244.6 124.8 253.2 124.8M236.1 113.9C244.6 113.9 244.6 113.9 253.2 113.9M236.1 124.8C244.6 124.8 244.6 97.5 253.2 97.5M236.1 124.8C244.6 124.8 244.6 102.9 253.2 102.9M236.1 135.7C244.6 135.7 244.6 113.9 253.2 113.9M236.1 135.7C244.6 135.7 244.6 124.8 253.2 124.8M236.1 135.7C244.6 135.7 244.6 135.7 253.2 135.7M236.1 135.7C244.6 135.7 244.6 141.2 253.2 141.2M236.1 141.2C244.6 141.2 244.6 81.0 253.2 81.0" stroke="#9ee3f0"/></g>
<g fill="#72c55e"><circle cx="201.6" cy="108.4" r="1.7"/><circle cx="201.6" cy="113.9" r="1.7"/><circle cx="201.6" cy="119.3" r="1.7"/><circle cx="201.6" cy="124.8" r="1.7"/><circle cx="219.0" cy="97.5" r="1.7"/><circle cx="219.0" cy="102.9" r="1.7"/><circle cx="219.0" cy="108.4" r="1.7"/><circle cx="219.0" cy="113.9" r="1.7"/><circle cx="219.0" cy="119.3" r="1.7"/><circle cx="219.0" cy="124.8" r="1.7"/><circle cx="219.0" cy="130.3" r="1.7"/><circle cx="219.0" cy="135.7" r="1.7"/><circle cx="236.1" cy="86.5" r="1.7"/><circle cx="236.1" cy="92.0" r="1.7"/><circle cx="236.1" cy="97.5" r="1.7"/><circle cx="236.1" cy="102.9" r="1.7"/><circle cx="236.1" cy="108.4" r="1.7"/><circle cx="236.1" cy="113.9" r="1.7"/><circle cx="236.1" cy="119.3" r="1.7"/><circle cx="236.1" cy="124.8" r="1.7"/><circle cx="236.1" cy="130.3" r="1.7"/><circle cx="236.1" cy="135.7" r="1.7"/><circle cx="236.1" cy="141.2" r="1.7"/><circle cx="236.1" cy="146.7" r="1.7"/><circle cx="253.2" cy="75.6" r="1.7"/><circle cx="253.2" cy="81.0" r="1.7"/><circle cx="253.2" cy="86.5" r="1.7"/><circle cx="253.2" cy="92.0" r="1.7"/><circle cx="253.2" cy="97.5" r="1.7"/><circle cx="253.2" cy="102.9" r="1.7"/><circle cx="253.2" cy="108.4" r="1.7"/><circle cx="253.2" cy="113.9" r="1.7"/><circle cx="253.2" cy="119.3" r="1.7"/><circle cx="253.2" cy="124.8" r="1.7"/><circle cx="253.2" cy="130.3" r="1.7"/><circle cx="253.2" cy="135.7" r="1.7"/><circle cx="253.2" cy="141.2" r="1.7"/><circle cx="253.2" cy="146.7" r="1.7"/><circle cx="253.2" cy="152.2" r="1.7"/><circle cx="253.2" cy="157.6" r="1.7"/></g>
<text x="224.40" y="60.10" font-size="6.8" text-anchor="middle" font-weight="normal" fill="#000" font-family="Liberation Sans" font-style="normal" >Cell-Decoder</text>
<text x="224.40" y="68.00" text-anchor="middle" font-family="Liberation Serif" font-style="italic" font-size="8.7" letter-spacing="0.35" fill="#333">p<tspan font-size="5.6" dy="1.4">θ</tspan><tspan dy="-1.4">(x|z)</tspan></text>
<rect x="142.30" y="104.00" width="13.50" height="9.30" fill="#8faadc" stroke="none" stroke-width="0" rx="0" />
<rect x="142.30" y="119.60" width="13.50" height="9.30" fill="#8faadc" stroke="none" stroke-width="0" rx="0" />
<text x="149.00" y="111.30" font-size="9.5" text-anchor="middle" font-weight="normal" fill="#222" font-family="Liberation Serif" font-style="italic" >μ</text>
<text x="149.00" y="127.10" font-size="9.5" text-anchor="middle" font-weight="normal" fill="#222" font-family="Liberation Serif" font-style="italic" >σ</text>
<rect x="169.00" y="105.20" width="13.70" height="21.20" fill="#b4bfd6" stroke="none" stroke-width="0" rx="0" />
<text x="175.90" y="120.30" font-size="11.6" text-anchor="middle" font-weight="normal" fill="#333" font-family="Liberation Serif" font-style="italic" >Z</text>
<text x="175.20" y="98.30" font-size="4.7" text-anchor="middle" font-weight="normal" fill="#000" font-family="Liberation Sans" font-style="normal" >Latent space</text>
<line x1="127.00" y1="116.40" x2="134.00" y2="116.40" stroke="#9c9c9c" stroke-width="0.75" />
<line x1="134.00" y1="108.30" x2="134.00" y2="124.60" stroke="#9c9c9c" stroke-width="0.75" />
<line x1="134.00" y1="108.60" x2="141.60" y2="108.60" stroke="#9c9c9c" stroke-width="0.75" />
<polyline points="139.09,110.05 141.60,108.60 139.09,107.15" fill="none" stroke="#9c9c9c" stroke-width="0.75"/>
<line x1="134.00" y1="124.30" x2="141.60" y2="124.30" stroke="#9c9c9c" stroke-width="0.75" />
<polyline points="139.09,125.75 141.60,124.30 139.09,122.85" fill="none" stroke="#9c9c9c" stroke-width="0.75"/>
<line x1="155.80" y1="108.60" x2="162.90" y2="108.60" stroke="#9c9c9c" stroke-width="0.75" />
<line x1="155.80" y1="124.30" x2="162.90" y2="124.30" stroke="#9c9c9c" stroke-width="0.75" />
<line x1="162.60" y1="108.30" x2="162.60" y2="124.60" stroke="#9c9c9c" stroke-width="0.75" />
<line x1="162.60" y1="116.20" x2="168.40" y2="116.20" stroke="#9c9c9c" stroke-width="0.75" />
<polyline points="165.89,117.65 168.40,116.20 165.89,114.75" fill="none" stroke="#9c9c9c" stroke-width="0.75"/>
<line x1="182.70" y1="116.20" x2="196.40" y2="116.20" stroke="#9c9c9c" stroke-width="0.75" />
<polyline points="193.89,117.65 196.40,116.20 193.89,114.75" fill="none" stroke="#9c9c9c" stroke-width="0.75"/>
<line x1="175.70" y1="126.40" x2="175.70" y2="142.40" stroke="#9c9c9c" stroke-width="0.75" />
<polyline points="174.25,139.89 175.70,142.40 177.15,139.89" fill="none" stroke="#9c9c9c" stroke-width="0.75"/>
<text x="175.80" y="151.60" font-size="6.8" text-anchor="middle" font-weight="normal" fill="#000" font-family="Liberation Sans" font-style="normal" >Time-Decoder</text>
<text x="175.80" y="158.60" text-anchor="middle" font-family="Liberation Serif" font-style="italic" font-size="8.7" letter-spacing="0.35" fill="#333">p<tspan font-size="5.6" dy="1.4">ψ</tspan><tspan dy="-1.4">(t</tspan><tspan font-size="5.6" dy="1.4">x</tspan><tspan dy="-1.4">|z)</tspan></text>
<polygon points="149.2,162.4 202.6,162.4 195.8,197.4 155.6,197.4" fill="none" stroke="#cb9f86" stroke-width="1.0"/>
<path d="M169.2 165.2L159.9 174.8M169.2 165.2L164.5 174.8M169.2 165.2L169.0 174.8M169.2 165.2L173.6 174.8M169.2 165.2L178.1 174.8M169.2 165.2L182.7 174.8M169.2 165.2L187.2 174.8M169.2 165.2L191.8 174.8M173.6 165.2L159.9 174.8M173.6 165.2L164.5 174.8M173.6 165.2L169.0 174.8M173.6 165.2L173.6 174.8M173.6 165.2L178.1 174.8M173.6 165.2L182.7 174.8M173.6 165.2L187.2 174.8M173.6 165.2L191.8 174.8M178.1 165.2L159.9 174.8M178.1 165.2L164.5 174.8M178.1 165.2L169.0 174.8M178.1 165.2L173.6 174.8M178.1 165.2L178.1 174.8M178.1 165.2L182.7 174.8M178.1 165.2L187.2 174.8M178.1 165.2L191.8 174.8M182.5 165.2L159.9 174.8M182.5 165.2L164.5 174.8M182.5 165.2L169.0 174.8M182.5 165.2L173.6 174.8M182.5 165.2L178.1 174.8M182.5 165.2L182.7 174.8M182.5 165.2L187.2 174.8M182.5 165.2L191.8 174.8M159.9 174.8L159.9 184.4M159.9 174.8L164.5 184.4M159.9 174.8L169.0 184.4M159.9 174.8L173.6 184.4M159.9 174.8L178.1 184.4M159.9 174.8L182.7 184.4M159.9 174.8L187.2 184.4M159.9 174.8L191.8 184.4M164.5 174.8L159.9 184.4M164.5 174.8L164.5 184.4M164.5 174.8L169.0 184.4M164.5 174.8L173.6 184.4M164.5 174.8L178.1 184.4M164.5 174.8L182.7 184.4M164.5 174.8L187.2 184.4M164.5 174.8L191.8 184.4M169.0 174.8L159.9 184.4M169.0 174.8L164.5 184.4M169.0 174.8L169.0 184.4M169.0 174.8L173.6 184.4M169.0 174.8L178.1 184.4M169.0 174.8L182.7 184.4M169.0 174.8L187.2 184.4M169.0 174.8L191.8 184.4M173.6 174.8L159.9 184.4M173.6 174.8L164.5 184.4M173.6 174.8L169.0 184.4M173.6 174.8L173.6 184.4M173.6 174.8L178.1 184.4M173.6 174.8L182.7 184.4M173.6 174.8L187.2 184.4M173.6 174.8L191.8 184.4M178.1 174.8L159.9 184.4M178.1 174.8L164.5 184.4M178.1 174.8L169.0 184.4M178.1 174.8L173.6 184.4M178.1 174.8L178.1 184.4M178.1 174.8L182.7 184.4M178.1 174.8L187.2 184.4M178.1 174.8L191.8 184.4M182.7 174.8L159.9 184.4M182.7 174.8L164.5 184.4M182.7 174.8L169.0 184.4M182.7 174.8L173.6 184.4M182.7 174.8L178.1 184.4M182.7 174.8L182.7 184.4M182.7 174.8L187.2 184.4M182.7 174.8L191.8 184.4M187.2 174.8L159.9 184.4M187.2 174.8L164.5 184.4M187.2 174.8L169.0 184.4M187.2 174.8L173.6 184.4M187.2 174.8L178.1 184.4M187.2 174.8L182.7 184.4M187.2 174.8L187.2 184.4M187.2 174.8L191.8 184.4M191.8 174.8L159.9 184.4M191.8 174.8L164.5 184.4M191.8 174.8L169.0 184.4M191.8 174.8L173.6 184.4M191.8 174.8L178.1 184.4M191.8 174.8L182.7 184.4M191.8 174.8L187.2 184.4M191.8 174.8L191.8 184.4M159.9 184.4L175.5 194.4M164.5 184.4L175.5 194.4M169.0 184.4L175.5 194.4M173.6 184.4L175.5 194.4M178.1 184.4L175.5 194.4M182.7 184.4L175.5 194.4M187.2 184.4L175.5 194.4M191.8 184.4L175.5 194.4" stroke="#e6d6d0" stroke-width="0.2" opacity="0.45" fill="none"/>
<g fill="#72c55e"><circle cx="169.2" cy="165.2" r="1.15"/><circle cx="173.6" cy="165.2" r="1.15"/><circle cx="178.1" cy="165.2" r="1.15"/><circle cx="182.5" cy="165.2" r="1.15"/><circle cx="159.9" cy="174.8" r="1.15"/><circle cx="164.5" cy="174.8" r="1.15"/><circle cx="169.0" cy="174.8" r="1.15"/><circle cx="173.6" cy="174.8" r="1.15"/><circle cx="178.1" cy="174.8" r="1.15"/><circle cx="182.7" cy="174.8" r="1.15"/><circle cx="187.2" cy="174.8" r="1.15"/><circle cx="191.8" cy="174.8" r="1.15"/><circle cx="159.9" cy="184.4" r="1.15"/><circle cx="164.5" cy="184.4" r="1.15"/><circle cx="169.0" cy="184.4" r="1.15"/><circle cx="173.6" cy="184.4" r="1.15"/><circle cx="178.1" cy="184.4" r="1.15"/><circle cx="182.7" cy="184.4" r="1.15"/><circle cx="187.2" cy="184.4" r="1.15"/><circle cx="191.8" cy="184.4" r="1.15"/><polygon points="174.3,195.2 175.5,193 176.7,195.2"/></g>
<rect x="12.00" y="199.30" width="47.70" height="13.70" fill="#dcdcdc" stroke="none" stroke-width="0" rx="0" />
<text x="35.90" y="209.60" font-size="8.6" text-anchor="middle" font-weight="normal" fill="#000" font-family="Liberation Sans" font-style="normal" >cell time</text>
<rect x="142.20" y="199.60" width="68.50" height="13.20" fill="#dcdcdc" stroke="none" stroke-width="0" rx="0" />
<text x="176.40" y="209.60" font-size="8.6" text-anchor="middle" font-weight="normal" fill="#000" font-family="Liberation Sans" font-style="normal" >predicted time</text>
<line x1="90.00" y1="206.20" x2="60.60" y2="206.20" stroke="#999" stroke-width="0.45" />
<polyline points="62.94,204.85 60.60,206.20 62.94,207.55" fill="none" stroke="#999" stroke-width="0.45"/>
<line x1="112.00" y1="206.20" x2="141.50" y2="206.20" stroke="#999" stroke-width="0.45" />
<polyline points="139.16,207.55 141.50,206.20 139.16,204.85" fill="none" stroke="#999" stroke-width="0.45"/>
<text x="91.50" y="210.20" font-size="11.5" text-anchor="start" font-weight="normal" fill="#222" font-family="Liberation Serif" font-style="italic" >t</text>
<text x="96.80" y="210.60" font-size="14.5" text-anchor="start" font-weight="normal" fill="#222" font-family="Liberation Serif" font-style="normal" >≈</text>
<text x="107.20" y="210.20" font-size="11.5" text-anchor="start" font-weight="normal" fill="#222" font-family="Liberation Serif" font-style="italic" >t</text>
<polyline points="107.7,202.2 109.2,200.6 110.7,202.2" fill="none" stroke="#222" stroke-width="0.5"/>
<polygon points="173.80,212.70 173.80,216.70 172.00,216.70 175.60,221.60 179.20,216.70 177.40,216.70 177.40,212.70" fill="#6f6f6f"/>
<polygon points="100.18,237.11 100.59,237.08 101.00,237.03 101.41,236.98 101.82,236.90 102.23,236.81 102.64,236.69 103.05,236.55 103.46,236.36 103.87,236.14 104.28,235.88 104.69,235.56 105.10,235.18 105.51,234.75 105.92,234.25 106.33,233.69 106.74,233.06 107.15,232.36 107.56,231.61 107.97,230.80 108.38,229.95 108.79,229.06 109.20,228.16 109.61,227.26 110.02,226.38 110.43,225.54 110.84,224.75 111.25,224.05 111.66,223.45 112.07,222.96 112.48,222.60 112.89,222.37 113.30,222.30 113.71,222.37 114.12,222.60 114.53,222.96 114.94,223.45 115.35,224.05 115.76,224.75 116.17,225.54 116.58,226.38 116.99,227.26 117.40,228.16 117.81,229.06 118.22,229.95 118.63,230.80 119.04,231.61 119.45,232.36 119.86,233.06 120.27,233.69 120.68,234.25 121.09,234.75 121.50,235.18 121.91,235.56 122.32,235.88 122.73,236.14 123.14,236.36 123.55,236.55 123.96,236.69 124.37,236.81 124.78,236.90 125.19,236.98 125.60,237.03 126.01,237.08 126.42,237.11" fill="#d6edd0" fill-opacity="0.75" stroke="#8fd083" stroke-width="0.45"/>
<polygon points="165.96,237.09 166.53,237.05 167.10,236.99 167.67,236.92 168.24,236.83 168.81,236.71 169.38,236.56 169.95,236.37 170.52,236.14 171.09,235.87 171.66,235.53 172.23,235.13 172.80,234.66 173.37,234.11 173.94,233.48 174.51,232.77 175.08,231.97 175.65,231.10 176.22,230.14 176.79,229.12 177.36,228.05 177.93,226.93 178.50,225.80 179.07,224.66 179.64,223.55 180.21,222.49 180.78,221.50 181.35,220.61 181.92,219.85 182.49,219.23 183.06,218.77 183.63,218.49 184.20,218.40 184.77,218.49 185.34,218.77 185.91,219.23 186.48,219.85 187.05,220.61 187.62,221.50 188.19,222.49 188.76,223.55 189.33,224.66 189.90,225.80 190.47,226.93 191.04,228.05 191.61,229.12 192.18,230.14 192.75,231.10 193.32,231.97 193.89,232.77 194.46,233.48 195.03,234.11 195.60,234.66 196.17,235.13 196.74,235.53 197.31,235.87 197.88,236.14 198.45,236.37 199.02,236.56 199.59,236.71 200.16,236.83 200.73,236.92 201.30,236.99 201.87,237.05 202.44,237.09" fill="#d6edd0" fill-opacity="0.75" stroke="#8fd083" stroke-width="0.45"/>
<rect x="108.60" y="231.20" width="21.00" height="6.00" fill="#8a8a8a" stroke="none" stroke-width="0" rx="0" />
<rect x="129.60" y="231.20" width="11.70" height="6.00" fill="#e87bbf" stroke="none" stroke-width="0" rx="0" />
<rect x="141.30" y="231.20" width="10.30" height="6.00" fill="#8c4a32" stroke="none" stroke-width="0" rx="0" />
<rect x="153.20" y="231.20" width="11.40" height="6.00" fill="#fdf042" stroke="none" stroke-width="0" rx="0" />
<rect x="164.60" y="231.20" width="12.00" height="6.00" fill="#fb7d1a" stroke="none" stroke-width="0" rx="0" />
<rect x="176.60" y="231.20" width="11.60" height="6.00" fill="#8e3f9e" stroke="none" stroke-width="0" rx="0" />
<rect x="188.20" y="231.20" width="9.40" height="6.00" fill="#44a546" stroke="none" stroke-width="0" rx="0" />
<rect x="112.50" y="231.20" width="0.40" height="6.00" fill="#9a9a9a" stroke="none" stroke-width="0" rx="0" />
<rect x="117.00" y="231.20" width="0.40" height="6.00" fill="#9a9a9a" stroke="none" stroke-width="0" rx="0" />
<rect x="121.30" y="231.20" width="0.40" height="6.00" fill="#9a9a9a" stroke="none" stroke-width="0" rx="0" />
<rect x="125.00" y="231.20" width="0.40" height="6.00" fill="#9a9a9a" stroke="none" stroke-width="0" rx="0" />
<rect x="133.20" y="231.20" width="0.50" height="6.00" fill="#f3a6d6" stroke="none" stroke-width="0" rx="0" />
<rect x="135.60" y="231.20" width="0.50" height="6.00" fill="#f3a6d6" stroke="none" stroke-width="0" rx="0" />
<rect x="138.40" y="231.20" width="0.50" height="6.00" fill="#f3a6d6" stroke="none" stroke-width="0" rx="0" />
<rect x="149.30" y="231.20" width="0.70" height="6.00" fill="#e8c34a" stroke="none" stroke-width="0" rx="0" />
<rect x="150.60" y="231.20" width="0.90" height="6.00" fill="#4a2618" stroke="none" stroke-width="0" rx="0" />
<rect x="198.36" y="231.20" width="0.60" height="6.00" fill="#4c93c8" stroke="none" stroke-width="0" rx="0" /><rect x="199.01" y="231.20" width="0.90" height="6.00" fill="#4c93c8" stroke="none" stroke-width="0" rx="0" /><rect x="199.06" y="231.20" width="0.90" height="6.00" fill="#4c93c8" stroke="none" stroke-width="0" rx="0" /><rect x="200.27" y="231.20" width="0.90" height="6.00" fill="#4c93c8" stroke="none" stroke-width="0" rx="0" /><rect x="201.87" y="231.20" width="0.90" height="6.00" fill="#4c93c8" stroke="none" stroke-width="0" rx="0" /><rect x="203.86" y="231.20" width="0.45" height="6.00" fill="#4c93c8" stroke="none" stroke-width="0" rx="0" /><rect x="204.04" y="231.20" width="0.90" height="6.00" fill="#4c93c8" stroke="none" stroke-width="0" rx="0" /><rect x="204.61" y="231.20" width="0.45" height="6.00" fill="#4c93c8" stroke="none" stroke-width="0" rx="0" /><rect x="204.66" y="231.20" width="0.90" height="6.00" fill="#4c93c8" stroke="none" stroke-width="0" rx="0" /><rect x="205.30" y="231.20" width="0.45" height="6.00" fill="#4c93c8" stroke="none" stroke-width="0" rx="0" /><rect x="205.67" y="231.20" width="0.45" height="6.00" fill="#4c93c8" stroke="none" stroke-width="0" rx="0" /><rect x="206.24" y="231.20" width="0.45" height="6.00" fill="#4c93c8" stroke="none" stroke-width="0" rx="0" /><rect x="207.09" y="231.20" width="0.45" height="6.00" fill="#4c93c8" stroke="none" stroke-width="0" rx="0" /><rect x="208.43" y="231.20" width="0.45" height="6.00" fill="#4c93c8" stroke="none" stroke-width="0" rx="0" /><rect x="208.65" y="231.20" width="0.90" height="6.00" fill="#4c93c8" stroke="none" stroke-width="0" rx="0" /><rect x="210.18" y="231.20" width="0.45" height="6.00" fill="#4c93c8" stroke="none" stroke-width="0" rx="0" /><rect x="210.96" y="231.20" width="0.60" height="6.00" fill="#4c93c8" stroke="none" stroke-width="0" rx="0" />
<rect x="212.63" y="231.20" width="0.60" height="6.00" fill="#ee7f86" stroke="none" stroke-width="0" rx="0" /><rect x="213.21" y="231.20" width="0.90" height="6.00" fill="#ee7f86" stroke="none" stroke-width="0" rx="0" /><rect x="214.01" y="231.20" width="0.45" height="6.00" fill="#ee7f86" stroke="none" stroke-width="0" rx="0" /><rect x="214.28" y="231.20" width="0.90" height="6.00" fill="#ee7f86" stroke="none" stroke-width="0" rx="0" /><rect x="214.72" y="231.20" width="0.60" height="6.00" fill="#ee7f86" stroke="none" stroke-width="0" rx="0" /><rect x="214.95" y="231.20" width="0.60" height="6.00" fill="#ee7f86" stroke="none" stroke-width="0" rx="0" /><rect x="216.85" y="231.20" width="0.45" height="6.00" fill="#ee7f86" stroke="none" stroke-width="0" rx="0" /><rect x="217.31" y="231.20" width="0.90" height="6.00" fill="#ee7f86" stroke="none" stroke-width="0" rx="0" />
<rect x="222.21" y="231.20" width="0.45" height="6.00" fill="#5fcfdc" stroke="none" stroke-width="0" rx="0" /><rect x="222.89" y="231.20" width="0.45" height="6.00" fill="#5fcfdc" stroke="none" stroke-width="0" rx="0" /><rect x="225.03" y="231.20" width="0.60" height="6.00" fill="#5fcfdc" stroke="none" stroke-width="0" rx="0" /><rect x="225.99" y="231.20" width="0.60" height="6.00" fill="#5fcfdc" stroke="none" stroke-width="0" rx="0" /><rect x="226.12" y="231.20" width="0.90" height="6.00" fill="#5fcfdc" stroke="none" stroke-width="0" rx="0" /><rect x="229.71" y="231.20" width="0.60" height="6.00" fill="#5fcfdc" stroke="none" stroke-width="0" rx="0" /><rect x="230.50" y="231.20" width="0.60" height="6.00" fill="#5fcfdc" stroke="none" stroke-width="0" rx="0" /><rect x="230.50" y="231.20" width="0.45" height="6.00" fill="#5fcfdc" stroke="none" stroke-width="0" rx="0" /><rect x="231.59" y="231.20" width="0.90" height="6.00" fill="#5fcfdc" stroke="none" stroke-width="0" rx="0" />
<rect x="235.20" y="231.20" width="0.90" height="6.00" fill="#d9d583" stroke="none" stroke-width="0" rx="0" />
<rect x="236.60" y="231.20" width="0.50" height="6.00" fill="#d9d583" stroke="none" stroke-width="0" rx="0" />
<rect x="241.20" y="231.20" width="0.80" height="6.00" fill="#d9d583" stroke="none" stroke-width="0" rx="0" />
<line x1="94.60" y1="237.40" x2="257.20" y2="237.40" stroke="#555" stroke-width="0.5" />
<text x="112.60" y="242.30" font-size="5.1" text-anchor="middle" font-weight="normal" fill="#333" font-family="Liberation Serif" font-style="normal" >−1.0</text>
<text x="144.20" y="242.30" font-size="5.1" text-anchor="middle" font-weight="normal" fill="#333" font-family="Liberation Serif" font-style="normal" >−0.5</text>
<text x="176.60" y="242.30" font-size="5.1" text-anchor="middle" font-weight="normal" fill="#333" font-family="Liberation Serif" font-style="normal" >0.0</text>
<text x="208.40" y="242.30" font-size="5.1" text-anchor="middle" font-weight="normal" fill="#333" font-family="Liberation Serif" font-style="normal" >0.5</text>
<text x="240.40" y="242.30" font-size="5.1" text-anchor="middle" font-weight="normal" fill="#333" font-family="Liberation Serif" font-style="normal" >1.0</text>
</g>
<g id="panel_b">
<text x="349.80" y="12.60" font-size="19.3" text-anchor="start" font-weight="normal" fill="#000" font-family="Liberation Sans" font-style="normal" >b</text>
<text x="466.00" y="12.80" font-size="10.25" text-anchor="middle" font-weight="normal" fill="#000" font-family="Liberation Sans" font-style="normal" >Predicted time distribution of cells</text>
<text x="466.00" y="24.60" font-size="10.25" text-anchor="middle" font-weight="normal" fill="#000" font-family="Liberation Sans" font-style="normal" >from each collection time</text>
<text x="470.60" y="35.70" font-size="6.4" text-anchor="middle" font-weight="bold" fill="#000" font-family="Liberation Sans" font-style="normal" >LH3</text>
<path d="M392.10 63.50L392.10 62.98L393.08 62.78L394.06 62.51L395.04 62.14L396.03 61.64L397.01 60.99L397.99 60.15L398.97 59.12L399.95 57.89L400.93 56.48L401.91 54.95L402.89 53.36L403.88 51.81L404.86 50.40L405.84 49.23L406.82 48.41L407.80 47.98L408.78 47.98L409.76 48.39L410.74 49.16L411.73 50.19L412.71 51.41L413.69 52.70L414.67 53.97L415.65 55.16L416.63 56.22L417.61 57.13L418.59 57.89L419.58 58.51L420.56 59.01L421.54 59.41L422.52 59.75L423.50 60.02L424.48 60.26L425.46 60.48L426.44 60.67L427.43 60.84L428.41 61.00L429.39 61.15L430.37 61.29L431.35 61.41L432.33 61.52L433.31 61.62L434.29 61.71L435.28 61.79L436.26 61.86L437.24 61.92L438.22 61.98L439.20 62.03L440.18 62.08L441.16 62.13L442.14 62.17L443.12 62.21L444.11 62.25L445.09 62.29L446.07 62.33L447.05 62.37L448.03 62.40L449.01 62.44L449.99 62.47L450.98 62.50L451.96 62.53L452.94 62.56L453.92 62.59L454.90 62.61L455.88 62.63L456.86 62.65L457.84 62.67L458.83 62.68L459.81 62.70L460.79 62.71L461.77 62.72L462.75 62.73L463.73 62.74L464.71 62.74L465.69 62.75L466.68 62.76L467.66 62.77L468.64 62.77L469.62 62.78L470.60 62.79L471.58 62.80L472.56 62.82L473.54 62.83L474.53 62.85L475.51 62.86L476.49 62.88L477.47 62.90L478.45 62.92L479.43 62.94L480.41 62.96L481.39 62.98L482.38 63.00L483.36 63.02L484.34 63.04L485.32 63.06L486.30 63.08L487.28 63.09L488.26 63.11L489.24 63.12L490.23 63.14L491.21 63.15L492.19 63.16L493.17 63.17L494.15 63.18L495.13 63.19L496.11 63.20L497.09 63.21L498.08 63.21L499.06 63.22L500.04 63.22L501.02 63.23L502.00 63.23L502.98 63.24L503.96 63.24L504.94 63.25L505.93 63.25L506.91 63.25L507.89 63.25L508.87 63.23L509.85 63.19L510.83 63.11L511.81 63.01L512.79 62.91L513.77 62.83L514.76 62.82L515.74 62.87L516.72 62.98L517.70 63.10L518.68 63.21L519.66 63.28L520.64 63.32L521.62 63.35L522.61 63.36L523.59 63.37L524.57 63.38L525.55 63.39L526.53 63.40L527.51 63.40L528.49 63.41L529.48 63.42L530.46 63.42L531.44 63.43L532.42 63.43L533.40 63.44L534.38 63.44L535.36 63.45L536.34 63.45L537.33 63.46L538.31 63.46L539.29 63.47L540.27 63.47L541.25 63.47L542.23 63.47L543.21 63.48L544.19 63.48L545.18 63.48L546.16 63.48L547.14 63.49L548.12 63.49L549.10 63.49L549.10 63.50Z" fill="#d98bb0" stroke="#111" stroke-width="0.6" stroke-linejoin="round"/>
<line x1="423.50" y1="37.90" x2="423.50" y2="64.90" stroke="#222" stroke-width="0.5" stroke-dasharray="1.3 1.1"/>
<line x1="454.90" y1="37.90" x2="454.90" y2="64.90" stroke="#222" stroke-width="0.5" stroke-dasharray="1.3 1.1"/>
<line x1="486.30" y1="37.90" x2="486.30" y2="64.90" stroke="#222" stroke-width="0.5" stroke-dasharray="1.3 1.1"/>
<line x1="517.70" y1="37.90" x2="517.70" y2="64.90" stroke="#222" stroke-width="0.5" stroke-dasharray="1.3 1.1"/>
<line x1="384.20" y1="37.70" x2="384.20" y2="65.10" stroke="#333" stroke-width="0.5" />
<line x1="384.00" y1="64.90" x2="557.20" y2="64.90" stroke="#333" stroke-width="0.5" />
<line x1="383.00" y1="63.50" x2="384.20" y2="63.50" stroke="#333" stroke-width="0.4" />
<text x="382.20" y="64.70" font-size="3.6" text-anchor="end" font-weight="normal" fill="#2a2a2a" font-family="Liberation Sans" font-style="normal" >0</text>
<line x1="383.00" y1="55.34" x2="384.20" y2="55.34" stroke="#333" stroke-width="0.4" />
<text x="382.20" y="56.54" font-size="3.6" text-anchor="end" font-weight="normal" fill="#2a2a2a" font-family="Liberation Sans" font-style="normal" >2</text>
<line x1="383.00" y1="47.18" x2="384.20" y2="47.18" stroke="#333" stroke-width="0.4" />
<text x="382.20" y="48.38" font-size="3.6" text-anchor="end" font-weight="normal" fill="#2a2a2a" font-family="Liberation Sans" font-style="normal" >4</text>
<line x1="383.00" y1="39.02" x2="384.20" y2="39.02" stroke="#333" stroke-width="0.4" />
<text x="382.20" y="40.22" font-size="3.6" text-anchor="end" font-weight="normal" fill="#2a2a2a" font-family="Liberation Sans" font-style="normal" >6</text>
<line x1="407.80" y1="64.90" x2="407.80" y2="66.00" stroke="#333" stroke-width="0.4" />
<text x="407.80" y="69.90" font-size="3.7" text-anchor="middle" font-weight="normal" fill="#2a2a2a" font-family="Liberation Sans" font-style="normal" >−1.0</text>
<line x1="439.20" y1="64.90" x2="439.20" y2="66.00" stroke="#333" stroke-width="0.4" />
<text x="439.20" y="69.90" font-size="3.7" text-anchor="middle" font-weight="normal" fill="#2a2a2a" font-family="Liberation Sans" font-style="normal" >−0.5</text>
<line x1="470.60" y1="64.90" x2="470.60" y2="66.00" stroke="#333" stroke-width="0.4" />
<text x="470.60" y="69.90" font-size="3.7" text-anchor="middle" font-weight="normal" fill="#2a2a2a" font-family="Liberation Sans" font-style="normal" >0.0</text>
<line x1="502.00" y1="64.90" x2="502.00" y2="66.00" stroke="#333" stroke-width="0.4" />
<text x="502.00" y="69.90" font-size="3.7" text-anchor="middle" font-weight="normal" fill="#2a2a2a" font-family="Liberation Sans" font-style="normal" >0.5</text>
<line x1="533.40" y1="64.90" x2="533.40" y2="66.00" stroke="#333" stroke-width="0.4" />
<text x="533.40" y="69.90" font-size="3.7" text-anchor="middle" font-weight="normal" fill="#2a2a2a" font-family="Liberation Sans" font-style="normal" >1.0</text>
<text x="407.80" y="45.20" font-size="3.9" text-anchor="middle" font-weight="bold" fill="#111" font-family="Liberation Sans" font-style="normal" >77.64%</text>
<text x="439.20" y="45.20" font-size="3.9" text-anchor="middle" font-weight="bold" fill="#111" font-family="Liberation Sans" font-style="normal" >11.16%</text>
<text x="470.60" y="45.20" font-size="3.9" text-anchor="middle" font-weight="bold" fill="#111" font-family="Liberation Sans" font-style="normal" >7.17%</text>
<text x="502.00" y="45.20" font-size="3.9" text-anchor="middle" font-weight="bold" fill="#111" font-family="Liberation Sans" font-style="normal" >3.68%</text>
<text x="533.40" y="45.20" font-size="3.9" text-anchor="middle" font-weight="bold" fill="#111" font-family="Liberation Sans" font-style="normal" >0.36%</text>
<text x="470.60" y="80.50" font-size="6.4" text-anchor="middle" font-weight="bold" fill="#000" font-family="Liberation Sans" font-style="normal" >LH5</text>
<path d="M392.10 108.30L392.10 107.97L393.08 107.95L394.06 107.93L395.04 107.91L396.03 107.89L397.01 107.87L397.99 107.84L398.97 107.82L399.95 107.80L400.93 107.78L401.91 107.76L402.89 107.75L403.88 107.73L404.86 107.71L405.84 107.69L406.82 107.68L407.80 107.66L408.78 107.64L409.76 107.63L410.74 107.61L411.73 107.60L412.71 107.58L413.69 107.56L414.67 107.54L415.65 107.51L416.63 107.47L417.61 107.43L418.59 107.38L419.58 107.31L420.56 107.22L421.54 107.10L422.52 106.96L423.50 106.79L424.48 106.59L425.46 106.34L426.44 106.05L427.43 105.71L428.41 105.33L429.39 104.91L430.37 104.44L431.35 103.95L432.33 103.42L433.31 102.89L434.29 102.35L435.28 101.83L436.26 101.34L437.24 100.89L438.22 100.50L439.20 100.18L440.18 99.95L441.16 99.80L442.14 99.73L443.12 99.76L444.11 99.87L445.09 100.05L446.07 100.30L447.05 100.59L448.03 100.93L449.01 101.29L449.99 101.65L450.98 102.02L451.96 102.37L452.94 102.71L453.92 103.02L454.90 103.30L455.88 103.55L456.86 103.78L457.84 103.98L458.83 104.15L459.81 104.31L460.79 104.45L461.77 104.58L462.75 104.70L463.73 104.81L464.71 104.92L465.69 105.03L466.68 105.14L467.66 105.26L468.64 105.37L469.62 105.49L470.60 105.61L471.58 105.73L472.56 105.85L473.54 105.97L474.53 106.09L475.51 106.21L476.49 106.33L477.47 106.44L478.45 106.55L479.43 106.66L480.41 106.77L481.39 106.87L482.38 106.96L483.36 107.05L484.34 107.14L485.32 107.22L486.30 107.29L487.28 107.36L488.26 107.43L489.24 107.49L490.23 107.55L491.21 107.60L492.19 107.65L493.17 107.70L494.15 107.74L495.13 107.78L496.11 107.82L497.09 107.85L498.08 107.89L499.06 107.92L500.04 107.94L501.02 107.97L502.00 107.99L502.98 108.02L503.96 108.04L504.94 108.06L505.93 108.08L506.91 108.10L507.89 108.11L508.87 108.13L509.85 108.14L510.83 108.16L511.81 108.17L512.79 108.18L513.77 108.20L514.76 108.21L515.74 108.22L516.72 108.22L517.70 108.23L518.68 108.24L519.66 108.25L520.64 108.25L521.62 108.26L522.61 108.26L523.59 108.27L524.57 108.27L525.55 108.28L526.53 108.28L527.51 108.28L528.49 108.29L529.48 108.29L530.46 108.29L531.44 108.29L532.42 108.29L533.40 108.29L534.38 108.29L535.36 108.30L536.34 108.30L537.33 108.30L538.31 108.30L539.29 108.30L540.27 108.30L541.25 108.30L542.23 108.30L543.21 108.30L544.19 108.30L545.18 108.30L546.16 108.30L547.14 108.30L548.12 108.30L549.10 108.30L549.10 108.30Z" fill="#f5a3cf" stroke="#111" stroke-width="0.6" stroke-linejoin="round"/>
<line x1="423.50" y1="82.70" x2="423.50" y2="109.70" stroke="#222" stroke-width="0.5" stroke-dasharray="1.3 1.1"/>
<line x1="454.90" y1="82.70" x2="454.90" y2="109.70" stroke="#222" stroke-width="0.5" stroke-dasharray="1.3 1.1"/>
<line x1="486.30" y1="82.70" x2="486.30" y2="109.70" stroke="#222" stroke-width="0.5" stroke-dasharray="1.3 1.1"/>
<line x1="517.70" y1="82.70" x2="517.70" y2="109.70" stroke="#222" stroke-width="0.5" stroke-dasharray="1.3 1.1"/>
<line x1="384.20" y1="82.50" x2="384.20" y2="109.90" stroke="#333" stroke-width="0.5" />
<line x1="384.00" y1="109.70" x2="557.20" y2="109.70" stroke="#333" stroke-width="0.5" />
<line x1="383.00" y1="108.30" x2="384.20" y2="108.30" stroke="#333" stroke-width="0.4" />
<text x="382.20" y="109.50" font-size="3.6" text-anchor="end" font-weight="normal" fill="#2a2a2a" font-family="Liberation Sans" font-style="normal" >0</text>
<line x1="383.00" y1="100.14" x2="384.20" y2="100.14" stroke="#333" stroke-width="0.4" />
<text x="382.20" y="101.34" font-size="3.6" text-anchor="end" font-weight="normal" fill="#2a2a2a" font-family="Liberation Sans" font-style="normal" >2</text>
<line x1="383.00" y1="91.98" x2="384.20" y2="91.98" stroke="#333" stroke-width="0.4" />
<text x="382.20" y="93.18" font-size="3.6" text-anchor="end" font-weight="normal" fill="#2a2a2a" font-family="Liberation Sans" font-style="normal" >4</text>
<line x1="383.00" y1="83.82" x2="384.20" y2="83.82" stroke="#333" stroke-width="0.4" />
<text x="382.20" y="85.02" font-size="3.6" text-anchor="end" font-weight="normal" fill="#2a2a2a" font-family="Liberation Sans" font-style="normal" >6</text>
<line x1="407.80" y1="109.70" x2="407.80" y2="110.80" stroke="#333" stroke-width="0.4" />
<text x="407.80" y="114.70" font-size="3.7" text-anchor="middle" font-weight="normal" fill="#2a2a2a" font-family="Liberation Sans" font-style="normal" >−1.0</text>
<line x1="439.20" y1="109.70" x2="439.20" y2="110.80" stroke="#333" stroke-width="0.4" />
<text x="439.20" y="114.70" font-size="3.7" text-anchor="middle" font-weight="normal" fill="#2a2a2a" font-family="Liberation Sans" font-style="normal" >−0.5</text>
<line x1="470.60" y1="109.70" x2="470.60" y2="110.80" stroke="#333" stroke-width="0.4" />
<text x="470.60" y="114.70" font-size="3.7" text-anchor="middle" font-weight="normal" fill="#2a2a2a" font-family="Liberation Sans" font-style="normal" >0.0</text>
<line x1="502.00" y1="109.70" x2="502.00" y2="110.80" stroke="#333" stroke-width="0.4" />
<text x="502.00" y="114.70" font-size="3.7" text-anchor="middle" font-weight="normal" fill="#2a2a2a" font-family="Liberation Sans" font-style="normal" >0.5</text>
<line x1="533.40" y1="109.70" x2="533.40" y2="110.80" stroke="#333" stroke-width="0.4" />
<text x="533.40" y="114.70" font-size="3.7" text-anchor="middle" font-weight="normal" fill="#2a2a2a" font-family="Liberation Sans" font-style="normal" >1.0</text>
<text x="407.80" y="90.00" font-size="3.9" text-anchor="middle" font-weight="bold" fill="#111" font-family="Liberation Sans" font-style="normal" >4.92%</text>
<text x="439.20" y="90.00" font-size="3.9" text-anchor="middle" font-weight="bold" fill="#111" font-family="Liberation Sans" font-style="normal" >67.87%</text>
<text x="470.60" y="90.00" font-size="3.9" text-anchor="middle" font-weight="bold" fill="#111" font-family="Liberation Sans" font-style="normal" >24.46%</text>
<text x="502.00" y="90.00" font-size="3.9" text-anchor="middle" font-weight="bold" fill="#111" font-family="Liberation Sans" font-style="normal" >2.67%</text>
<text x="533.40" y="90.00" font-size="3.9" text-anchor="middle" font-weight="bold" fill="#111" font-family="Liberation Sans" font-style="normal" >0.08%</text>
<text x="470.60" y="125.70" font-size="6.4" text-anchor="middle" font-weight="bold" fill="#000" font-family="Liberation Sans" font-style="normal" >LH7</text>
<path d="M392.10 153.50L392.10 153.50L393.08 153.50L394.06 153.50L395.04 153.50L396.03 153.50L397.01 153.50L397.99 153.50L398.97 153.50L399.95 153.50L400.93 153.50L401.91 153.50L402.89 153.49L403.88 153.49L404.86 153.49L405.84 153.49L406.82 153.48L407.80 153.48L408.78 153.48L409.76 153.47L410.74 153.47L411.73 153.46L412.71 153.45L413.69 153.44L414.67 153.43L415.65 153.41L416.63 153.40L417.61 153.38L418.59 153.36L419.58 153.34L420.56 153.31L421.54 153.29L422.52 153.26L423.50 153.22L424.48 153.19L425.46 153.15L426.44 153.11L427.43 153.07L428.41 153.02L429.39 152.97L430.37 152.92L431.35 152.87L432.33 152.82L433.31 152.76L434.29 152.71L435.28 152.65L436.26 152.59L437.24 152.53L438.22 152.46L439.20 152.40L440.18 152.33L441.16 152.27L442.14 152.19L443.12 152.12L444.11 152.04L445.09 151.96L446.07 151.87L447.05 151.78L448.03 151.69L449.01 151.59L449.99 151.48L450.98 151.36L451.96 151.24L452.94 151.12L453.92 150.98L454.90 150.84L455.88 150.69L456.86 150.52L457.84 150.34L458.83 150.13L459.81 149.89L460.79 149.60L461.77 149.26L462.75 148.85L463.73 148.36L464.71 147.79L465.69 147.15L466.68 146.44L467.66 145.71L468.64 144.99L469.62 144.33L470.60 143.78L471.58 143.40L472.56 143.21L473.54 143.24L474.53 143.49L475.51 143.94L476.49 144.56L477.47 145.29L478.45 146.08L479.43 146.88L480.41 147.65L481.39 148.36L482.38 148.98L483.36 149.52L484.34 149.97L485.32 150.34L486.30 150.65L487.28 150.90L488.26 151.11L489.24 151.30L490.23 151.45L491.21 151.59L492.19 151.72L493.17 151.83L494.15 151.93L495.13 152.02L496.11 152.11L497.09 152.19L498.08 152.26L499.06 152.33L500.04 152.39L501.02 152.45L502.00 152.50L502.98 152.55L503.96 152.59L504.94 152.63L505.93 152.67L506.91 152.71L507.89 152.75L508.87 152.78L509.85 152.82L510.83 152.85L511.81 152.88L512.79 152.91L513.77 152.95L514.76 152.98L515.74 153.01L516.72 153.04L517.70 153.07L518.68 153.10L519.66 153.12L520.64 153.15L521.62 153.18L522.61 153.20L523.59 153.23L524.57 153.25L525.55 153.27L526.53 153.29L527.51 153.31L528.49 153.33L529.48 153.35L530.46 153.37L531.44 153.38L532.42 153.39L533.40 153.41L534.38 153.42L535.36 153.43L536.34 153.44L537.33 153.44L538.31 153.45L539.29 153.46L540.27 153.46L541.25 153.47L542.23 153.47L543.21 153.48L544.19 153.48L545.18 153.48L546.16 153.49L547.14 153.49L548.12 153.49L549.10 153.49L549.10 153.50Z" fill="#f4bce0" stroke="#111" stroke-width="0.6" stroke-linejoin="round"/>
<line x1="423.50" y1="127.90" x2="423.50" y2="154.90" stroke="#222" stroke-width="0.5" stroke-dasharray="1.3 1.1"/>
<line x1="454.90" y1="127.90" x2="454.90" y2="154.90" stroke="#222" stroke-width="0.5" stroke-dasharray="1.3 1.1"/>
<line x1="486.30" y1="127.90" x2="486.30" y2="154.90" stroke="#222" stroke-width="0.5" stroke-dasharray="1.3 1.1"/>
<line x1="517.70" y1="127.90" x2="517.70" y2="154.90" stroke="#222" stroke-width="0.5" stroke-dasharray="1.3 1.1"/>
<line x1="384.20" y1="127.70" x2="384.20" y2="155.10" stroke="#333" stroke-width="0.5" />
<line x1="384.00" y1="154.90" x2="557.20" y2="154.90" stroke="#333" stroke-width="0.5" />
<line x1="383.00" y1="153.50" x2="384.20" y2="153.50" stroke="#333" stroke-width="0.4" />
<text x="382.20" y="154.70" font-size="3.6" text-anchor="end" font-weight="normal" fill="#2a2a2a" font-family="Liberation Sans" font-style="normal" >0</text>
<line x1="383.00" y1="145.34" x2="384.20" y2="145.34" stroke="#333" stroke-width="0.4" />
<text x="382.20" y="146.54" font-size="3.6" text-anchor="end" font-weight="normal" fill="#2a2a2a" font-family="Liberation Sans" font-style="normal" >2</text>
<line x1="383.00" y1="137.18" x2="384.20" y2="137.18" stroke="#333" stroke-width="0.4" />
<text x="382.20" y="138.38" font-size="3.6" text-anchor="end" font-weight="normal" fill="#2a2a2a" font-family="Liberation Sans" font-style="normal" >4</text>
<line x1="383.00" y1="129.02" x2="384.20" y2="129.02" stroke="#333" stroke-width="0.4" />
<text x="382.20" y="130.22" font-size="3.6" text-anchor="end" font-weight="normal" fill="#2a2a2a" font-family="Liberation Sans" font-style="normal" >6</text>
<line x1="407.80" y1="154.90" x2="407.80" y2="156.00" stroke="#333" stroke-width="0.4" />
<text x="407.80" y="159.90" font-size="3.7" text-anchor="middle" font-weight="normal" fill="#2a2a2a" font-family="Liberation Sans" font-style="normal" >−1.0</text>
<line x1="439.20" y1="154.90" x2="439.20" y2="156.00" stroke="#333" stroke-width="0.4" />
<text x="439.20" y="159.90" font-size="3.7" text-anchor="middle" font-weight="normal" fill="#2a2a2a" font-family="Liberation Sans" font-style="normal" >−0.5</text>
<line x1="470.60" y1="154.90" x2="470.60" y2="156.00" stroke="#333" stroke-width="0.4" />
<text x="470.60" y="159.90" font-size="3.7" text-anchor="middle" font-weight="normal" fill="#2a2a2a" font-family="Liberation Sans" font-style="normal" >0.0</text>
<line x1="502.00" y1="154.90" x2="502.00" y2="156.00" stroke="#333" stroke-width="0.4" />
<text x="502.00" y="159.90" font-size="3.7" text-anchor="middle" font-weight="normal" fill="#2a2a2a" font-family="Liberation Sans" font-style="normal" >0.5</text>
<line x1="533.40" y1="154.90" x2="533.40" y2="156.00" stroke="#333" stroke-width="0.4" />
<text x="533.40" y="159.90" font-size="3.7" text-anchor="middle" font-weight="normal" fill="#2a2a2a" font-family="Liberation Sans" font-style="normal" >1.0</text>
<text x="407.80" y="135.20" font-size="3.9" text-anchor="middle" font-weight="bold" fill="#111" font-family="Liberation Sans" font-style="normal" >0.16%</text>
<text x="439.20" y="135.20" font-size="3.9" text-anchor="middle" font-weight="bold" fill="#111" font-family="Liberation Sans" font-style="normal" >9.24%</text>
<text x="470.60" y="135.20" font-size="3.9" text-anchor="middle" font-weight="bold" fill="#111" font-family="Liberation Sans" font-style="normal" >74.71%</text>
<text x="502.00" y="135.20" font-size="3.9" text-anchor="middle" font-weight="bold" fill="#111" font-family="Liberation Sans" font-style="normal" >14.67%</text>
<text x="533.40" y="135.20" font-size="3.9" text-anchor="middle" font-weight="bold" fill="#111" font-family="Liberation Sans" font-style="normal" >1.21%</text>
<text x="470.60" y="170.50" font-size="6.4" text-anchor="middle" font-weight="bold" fill="#000" font-family="Liberation Sans" font-style="normal" >LH9</text>
<path d="M392.10 198.30L392.10 198.30L393.08 198.30L394.06 198.30L395.04 198.30L396.03 198.30L397.01 198.30L397.99 198.30L398.97 198.30L399.95 198.30L400.93 198.30L401.91 198.30L402.89 198.30L403.88 198.30L404.86 198.30L405.84 198.30L406.82 198.30L407.80 198.30L408.78 198.30L409.76 198.30L410.74 198.29L411.73 198.29L412.71 198.29L413.69 198.29L414.67 198.29L415.65 198.29L416.63 198.28L417.61 198.28L418.59 198.28L419.58 198.27L420.56 198.27L421.54 198.26L422.52 198.25L423.50 198.25L424.48 198.24L425.46 198.23L426.44 198.22L427.43 198.21L428.41 198.20L429.39 198.19L430.37 198.18L431.35 198.17L432.33 198.15L433.31 198.14L434.29 198.13L435.28 198.11L436.26 198.10L437.24 198.08L438.22 198.07L439.20 198.05L440.18 198.04L441.16 198.02L442.14 198.01L443.12 197.99L444.11 197.97L445.09 197.95L446.07 197.93L447.05 197.91L448.03 197.88L449.01 197.85L449.99 197.82L450.98 197.77L451.96 197.72L452.94 197.65L453.92 197.57L454.90 197.46L455.88 197.33L456.86 197.17L457.84 196.96L458.83 196.71L459.81 196.42L460.79 196.08L461.77 195.69L462.75 195.26L463.73 194.80L464.71 194.33L465.69 193.86L466.68 193.42L467.66 193.02L468.64 192.69L469.62 192.44L470.60 192.27L471.58 192.21L472.56 192.24L473.54 192.35L474.53 192.53L475.51 192.76L476.49 193.03L477.47 193.31L478.45 193.59L479.43 193.85L480.41 194.09L481.39 194.29L482.38 194.46L483.36 194.59L484.34 194.69L485.32 194.77L486.30 194.82L487.28 194.86L488.26 194.88L489.24 194.90L490.23 194.91L491.21 194.91L492.19 194.91L493.17 194.91L494.15 194.91L495.13 194.91L496.11 194.90L497.09 194.90L498.08 194.90L499.06 194.90L500.04 194.89L501.02 194.89L502.00 194.90L502.98 194.90L503.96 194.91L504.94 194.92L505.93 194.93L506.91 194.95L507.89 194.98L508.87 195.01L509.85 195.04L510.83 195.09L511.81 195.14L512.79 195.19L513.77 195.26L514.76 195.33L515.74 195.40L516.72 195.49L517.70 195.58L518.68 195.67L519.66 195.77L520.64 195.87L521.62 195.98L522.61 196.09L523.59 196.20L524.57 196.31L525.55 196.42L526.53 196.54L527.51 196.65L528.49 196.76L529.48 196.86L530.46 196.97L531.44 197.07L532.42 197.17L533.40 197.26L534.38 197.35L535.36 197.43L536.34 197.51L537.33 197.59L538.31 197.66L539.29 197.73L540.27 197.79L541.25 197.84L542.23 197.89L543.21 197.94L544.19 197.98L545.18 198.02L546.16 198.06L547.14 198.09L548.12 198.11L549.10 198.14L549.10 198.30Z" fill="#ecdcee" stroke="#111" stroke-width="0.6" stroke-linejoin="round"/>
<line x1="423.50" y1="172.70" x2="423.50" y2="199.70" stroke="#222" stroke-width="0.5" stroke-dasharray="1.3 1.1"/>
<line x1="454.90" y1="172.70" x2="454.90" y2="199.70" stroke="#222" stroke-width="0.5" stroke-dasharray="1.3 1.1"/>
<line x1="486.30" y1="172.70" x2="486.30" y2="199.70" stroke="#222" stroke-width="0.5" stroke-dasharray="1.3 1.1"/>
<line x1="517.70" y1="172.70" x2="517.70" y2="199.70" stroke="#222" stroke-width="0.5" stroke-dasharray="1.3 1.1"/>
<line x1="384.20" y1="172.50" x2="384.20" y2="199.90" stroke="#333" stroke-width="0.5" />
<line x1="384.00" y1="199.70" x2="557.20" y2="199.70" stroke="#333" stroke-width="0.5" />
<line x1="383.00" y1="198.30" x2="384.20" y2="198.30" stroke="#333" stroke-width="0.4" />
<text x="382.20" y="199.50" font-size="3.6" text-anchor="end" font-weight="normal" fill="#2a2a2a" font-family="Liberation Sans" font-style="normal" >0</text>
<line x1="383.00" y1="190.14" x2="384.20" y2="190.14" stroke="#333" stroke-width="0.4" />
<text x="382.20" y="191.34" font-size="3.6" text-anchor="end" font-weight="normal" fill="#2a2a2a" font-family="Liberation Sans" font-style="normal" >2</text>
<line x1="383.00" y1="181.98" x2="384.20" y2="181.98" stroke="#333" stroke-width="0.4" />
<text x="382.20" y="183.18" font-size="3.6" text-anchor="end" font-weight="normal" fill="#2a2a2a" font-family="Liberation Sans" font-style="normal" >4</text>
<line x1="383.00" y1="173.82" x2="384.20" y2="173.82" stroke="#333" stroke-width="0.4" />
<text x="382.20" y="175.02" font-size="3.6" text-anchor="end" font-weight="normal" fill="#2a2a2a" font-family="Liberation Sans" font-style="normal" >6</text>
<line x1="407.80" y1="199.70" x2="407.80" y2="200.80" stroke="#333" stroke-width="0.4" />
<text x="407.80" y="204.70" font-size="3.7" text-anchor="middle" font-weight="normal" fill="#2a2a2a" font-family="Liberation Sans" font-style="normal" >−1.0</text>
<line x1="439.20" y1="199.70" x2="439.20" y2="200.80" stroke="#333" stroke-width="0.4" />
<text x="439.20" y="204.70" font-size="3.7" text-anchor="middle" font-weight="normal" fill="#2a2a2a" font-family="Liberation Sans" font-style="normal" >−0.5</text>
<line x1="470.60" y1="199.70" x2="470.60" y2="200.80" stroke="#333" stroke-width="0.4" />
<text x="470.60" y="204.70" font-size="3.7" text-anchor="middle" font-weight="normal" fill="#2a2a2a" font-family="Liberation Sans" font-style="normal" >0.0</text>
<line x1="502.00" y1="199.70" x2="502.00" y2="200.80" stroke="#333" stroke-width="0.4" />
<text x="502.00" y="204.70" font-size="3.7" text-anchor="middle" font-weight="normal" fill="#2a2a2a" font-family="Liberation Sans" font-style="normal" >0.5</text>
<line x1="533.40" y1="199.70" x2="533.40" y2="200.80" stroke="#333" stroke-width="0.4" />
<text x="533.40" y="204.70" font-size="3.7" text-anchor="middle" font-weight="normal" fill="#2a2a2a" font-family="Liberation Sans" font-style="normal" >1.0</text>
<text x="407.80" y="180.00" font-size="3.9" text-anchor="middle" font-weight="bold" fill="#111" font-family="Liberation Sans" font-style="normal" >0.00%</text>
<text x="439.20" y="180.00" font-size="3.9" text-anchor="middle" font-weight="bold" fill="#111" font-family="Liberation Sans" font-style="normal" >1.71%</text>
<text x="470.60" y="180.00" font-size="3.9" text-anchor="middle" font-weight="bold" fill="#111" font-family="Liberation Sans" font-style="normal" >49.29%</text>
<text x="502.00" y="180.00" font-size="3.9" text-anchor="middle" font-weight="bold" fill="#111" font-family="Liberation Sans" font-style="normal" >34.78%</text>
<text x="533.40" y="180.00" font-size="3.9" text-anchor="middle" font-weight="bold" fill="#111" font-family="Liberation Sans" font-style="normal" >14.21%</text>
<text x="470.60" y="215.40" font-size="6.4" text-anchor="middle" font-weight="bold" fill="#000" font-family="Liberation Sans" font-style="normal" >LH11</text>
<path d="M392.10 243.20L392.10 243.20L393.08 243.20L394.06 243.20L395.04 243.20L396.03 243.20L397.01 243.20L397.99 243.20L398.97 243.20L399.95 243.20L400.93 243.20L401.91 243.20L402.89 243.20L403.88 243.20L404.86 243.20L405.84 243.20L406.82 243.20L407.80 243.20L408.78 243.20L409.76 243.20L410.74 243.20L411.73 243.20L412.71 243.20L413.69 243.20L414.67 243.20L415.65 243.20L416.63 243.20L417.61 243.20L418.59 243.20L419.58 243.20L420.56 243.20L421.54 243.20L422.52 243.20L423.50 243.20L424.48 243.20L425.46 243.20L426.44 243.20L427.43 243.20L428.41 243.19L429.39 243.19L430.37 243.19L431.35 243.19L432.33 243.19L433.31 243.18L434.29 243.18L435.28 243.17L436.26 243.16L437.24 243.15L438.22 243.13L439.20 243.11L440.18 243.09L441.16 243.06L442.14 243.02L443.12 242.98L444.11 242.92L445.09 242.86L446.07 242.78L447.05 242.69L448.03 242.59L449.01 242.48L449.99 242.35L450.98 242.22L451.96 242.07L452.94 241.92L453.92 241.76L454.90 241.60L455.88 241.45L456.86 241.30L457.84 241.16L458.83 241.03L459.81 240.92L460.79 240.83L461.77 240.76L462.75 240.70L463.73 240.67L464.71 240.65L465.69 240.64L466.68 240.64L467.66 240.66L468.64 240.67L469.62 240.69L470.60 240.71L471.58 240.73L472.56 240.74L473.54 240.74L474.53 240.74L475.51 240.72L476.49 240.70L477.47 240.68L478.45 240.65L479.43 240.61L480.41 240.57L481.39 240.52L482.38 240.48L483.36 240.43L484.34 240.39L485.32 240.35L486.30 240.30L487.28 240.26L488.26 240.22L489.24 240.18L490.23 240.15L491.21 240.11L492.19 240.08L493.17 240.04L494.15 240.00L495.13 239.97L496.11 239.93L497.09 239.88L498.08 239.84L499.06 239.78L500.04 239.73L501.02 239.67L502.00 239.60L502.98 239.53L503.96 239.45L504.94 239.37L505.93 239.29L506.91 239.20L507.89 239.11L508.87 239.02L509.85 238.94L510.83 238.86L511.81 238.79L512.79 238.73L513.77 238.68L514.76 238.65L515.74 238.63L516.72 238.64L517.70 238.66L518.68 238.71L519.66 238.78L520.64 238.87L521.62 238.99L522.61 239.12L523.59 239.28L524.57 239.45L525.55 239.64L526.53 239.84L527.51 240.05L528.49 240.26L529.48 240.48L530.46 240.71L531.44 240.93L532.42 241.14L533.40 241.35L534.38 241.55L535.36 241.73L536.34 241.91L537.33 242.07L538.31 242.22L539.29 242.36L540.27 242.48L541.25 242.59L542.23 242.69L543.21 242.77L544.19 242.84L545.18 242.91L546.16 242.96L547.14 243.00L548.12 243.04L549.10 243.07L549.10 243.20Z" fill="#fde1dc" stroke="#111" stroke-width="0.6" stroke-linejoin="round"/>
<line x1="423.50" y1="217.60" x2="423.50" y2="244.60" stroke="#222" stroke-width="0.5" stroke-dasharray="1.3 1.1"/>
<line x1="454.90" y1="217.60" x2="454.90" y2="244.60" stroke="#222" stroke-width="0.5" stroke-dasharray="1.3 1.1"/>
<line x1="486.30" y1="217.60" x2="486.30" y2="244.60" stroke="#222" stroke-width="0.5" stroke-dasharray="1.3 1.1"/>
<line x1="517.70" y1="217.60" x2="517.70" y2="244.60" stroke="#222" stroke-width="0.5" stroke-dasharray="1.3 1.1"/>
<line x1="384.20" y1="217.40" x2="384.20" y2="244.80" stroke="#333" stroke-width="0.5" />
<line x1="384.00" y1="244.60" x2="557.20" y2="244.60" stroke="#333" stroke-width="0.5" />
<line x1="383.00" y1="243.20" x2="384.20" y2="243.20" stroke="#333" stroke-width="0.4" />
<text x="382.20" y="244.40" font-size="3.6" text-anchor="end" font-weight="normal" fill="#2a2a2a" font-family="Liberation Sans" font-style="normal" >0</text>
<line x1="383.00" y1="235.04" x2="384.20" y2="235.04" stroke="#333" stroke-width="0.4" />
<text x="382.20" y="236.24" font-size="3.6" text-anchor="end" font-weight="normal" fill="#2a2a2a" font-family="Liberation Sans" font-style="normal" >2</text>
<line x1="383.00" y1="226.88" x2="384.20" y2="226.88" stroke="#333" stroke-width="0.4" />
<text x="382.20" y="228.08" font-size="3.6" text-anchor="end" font-weight="normal" fill="#2a2a2a" font-family="Liberation Sans" font-style="normal" >4</text>
<line x1="383.00" y1="218.72" x2="384.20" y2="218.72" stroke="#333" stroke-width="0.4" />
<text x="382.20" y="219.92" font-size="3.6" text-anchor="end" font-weight="normal" fill="#2a2a2a" font-family="Liberation Sans" font-style="normal" >6</text>
<line x1="407.80" y1="244.60" x2="407.80" y2="245.70" stroke="#333" stroke-width="0.4" />
<text x="407.80" y="249.60" font-size="3.7" text-anchor="middle" font-weight="normal" fill="#2a2a2a" font-family="Liberation Sans" font-style="normal" >−1.0</text>
<line x1="439.20" y1="244.60" x2="439.20" y2="245.70" stroke="#333" stroke-width="0.4" />
<text x="439.20" y="249.60" font-size="3.7" text-anchor="middle" font-weight="normal" fill="#2a2a2a" font-family="Liberation Sans" font-style="normal" >−0.5</text>
<line x1="470.60" y1="244.60" x2="470.60" y2="245.70" stroke="#333" stroke-width="0.4" />
<text x="470.60" y="249.60" font-size="3.7" text-anchor="middle" font-weight="normal" fill="#2a2a2a" font-family="Liberation Sans" font-style="normal" >0.0</text>
<line x1="502.00" y1="244.60" x2="502.00" y2="245.70" stroke="#333" stroke-width="0.4" />
<text x="502.00" y="249.60" font-size="3.7" text-anchor="middle" font-weight="normal" fill="#2a2a2a" font-family="Liberation Sans" font-style="normal" >0.5</text>
<line x1="533.40" y1="244.60" x2="533.40" y2="245.70" stroke="#333" stroke-width="0.4" />
<text x="533.40" y="249.60" font-size="3.7" text-anchor="middle" font-weight="normal" fill="#2a2a2a" font-family="Liberation Sans" font-style="normal" >1.0</text>
<text x="407.80" y="224.90" font-size="3.9" text-anchor="middle" font-weight="bold" fill="#111" font-family="Liberation Sans" font-style="normal" >0.00%</text>
<text x="439.20" y="224.90" font-size="3.9" text-anchor="middle" font-weight="bold" fill="#111" font-family="Liberation Sans" font-style="normal" >2.89%</text>
<text x="470.60" y="224.90" font-size="3.9" text-anchor="middle" font-weight="bold" fill="#111" font-family="Liberation Sans" font-style="normal" >28.91%</text>
<text x="502.00" y="224.90" font-size="3.9" text-anchor="middle" font-weight="bold" fill="#111" font-family="Liberation Sans" font-style="normal" >43.36%</text>
<text x="533.40" y="224.90" font-size="3.9" text-anchor="middle" font-weight="bold" fill="#111" font-family="Liberation Sans" font-style="normal" >24.83%</text>
<text x="376.80" y="144.60" font-size="4.6" text-anchor="middle" font-weight="normal" fill="#222" font-family="Liberation Sans" font-style="normal" transform="rotate(-90 376.8 144.6)">density</text>
<text x="470.60" y="255.60" font-size="4.75" text-anchor="middle" font-weight="normal" fill="#000" font-family="Liberation Sans" font-style="normal" >Predicted time distribution of all cells</text>
<text x="398.60" y="268.20" font-size="4.7" text-anchor="start" font-weight="normal" fill="#000" font-family="Liberation Sans" font-style="normal" >Group based on date</text>
<rect x="446.20" y="263.00" width="7.10" height="7.10" fill="#d98bb0" stroke="#222" stroke-width="0.5" rx="0" />
<text x="455.20" y="268.10" font-size="4.1" text-anchor="start" font-weight="normal" fill="#000" font-family="Liberation Sans" font-style="normal" >LH3</text>
<rect x="467.05" y="263.00" width="7.10" height="7.10" fill="#f5a3cf" stroke="#222" stroke-width="0.5" rx="0" />
<text x="476.05" y="268.10" font-size="4.1" text-anchor="start" font-weight="normal" fill="#000" font-family="Liberation Sans" font-style="normal" >LH5</text>
<rect x="487.90" y="263.00" width="7.10" height="7.10" fill="#f4bce0" stroke="#222" stroke-width="0.5" rx="0" />
<text x="496.90" y="268.10" font-size="4.1" text-anchor="start" font-weight="normal" fill="#000" font-family="Liberation Sans" font-style="normal" >LH7</text>
<rect x="508.75" y="263.00" width="7.10" height="7.10" fill="#ecdcee" stroke="#222" stroke-width="0.5" rx="0" />
<text x="517.75" y="268.10" font-size="4.1" text-anchor="start" font-weight="normal" fill="#000" font-family="Liberation Sans" font-style="normal" >LH9</text>
<rect x="529.60" y="263.00" width="7.10" height="7.10" fill="#fde1dc" stroke="#222" stroke-width="0.5" rx="0" />
<text x="538.60" y="268.10" font-size="4.1" text-anchor="start" font-weight="normal" fill="#000" font-family="Liberation Sans" font-style="normal" >LH11</text>
</g>
<g id="panel_c">
<text x="-0.90" y="287.00" font-size="19.3" text-anchor="start" font-weight="normal" fill="#000" font-family="Liberation Sans" font-style="normal" >c</text>
<text x="29.00" y="296.60" font-size="10.36" text-anchor="start" font-weight="normal" fill="#000" font-family="Liberation Sans" font-style="normal" >Time-correlation for major cell types</text>
<rect x="22.80" y="310.30" width="59.60" height="28.55" fill="#c56bb1" stroke="#222" stroke-width="0.55" rx="0" />
<text x="52.60" y="327.68" font-size="7.8" text-anchor="middle" font-weight="bold" fill="#fff" font-family="Liberation Sans" font-style="normal" >Stromal</text>
<rect x="84.40" y="310.30" width="28.60" height="28.55" fill="#689b96" stroke="#fff" stroke-width="0.6" rx="0" />
<rect x="85.65" y="311.55" width="26.10" height="26.05" fill="#3d7f79" stroke="#2e3b3a" stroke-width="0.7" rx="2.6" />
<text x="98.70" y="327.18" font-size="6.6" text-anchor="middle" font-weight="bold" fill="#fff" font-family="Liberation Sans" font-style="normal" >0.870</text>
<rect x="113.00" y="310.30" width="28.60" height="28.55" fill="#689b97" stroke="#fff" stroke-width="0.6" rx="0" />
<rect x="114.25" y="311.55" width="26.10" height="26.05" fill="#3e7f7a" stroke="#2e3b3a" stroke-width="0.7" rx="2.6" />
<text x="127.30" y="327.18" font-size="6.6" text-anchor="middle" font-weight="bold" fill="#fff" font-family="Liberation Sans" font-style="normal" >0.867</text>
<rect x="141.60" y="310.30" width="28.60" height="28.55" fill="#689b96" stroke="#fff" stroke-width="0.6" rx="0" />
<rect x="142.85" y="311.55" width="26.10" height="26.05" fill="#3d7f79" stroke="#2e3b3a" stroke-width="0.7" rx="2.6" />
<text x="155.90" y="327.18" font-size="6.6" text-anchor="middle" font-weight="bold" fill="#fff" font-family="Liberation Sans" font-style="normal" >0.870</text>
<rect x="170.20" y="310.30" width="28.60" height="28.55" fill="#689b97" stroke="#fff" stroke-width="0.6" rx="0" />
<rect x="171.45" y="311.55" width="26.10" height="26.05" fill="#3e7f7a" stroke="#2e3b3a" stroke-width="0.7" rx="2.6" />
<text x="184.50" y="327.18" font-size="6.6" text-anchor="middle" font-weight="bold" fill="#fff" font-family="Liberation Sans" font-style="normal" >0.866</text>
<rect x="22.80" y="338.85" width="59.60" height="28.55" fill="#0a5c4d" stroke="#222" stroke-width="0.55" rx="0" />
<text x="52.60" y="356.23" font-size="7.8" text-anchor="middle" font-weight="bold" fill="#fff" font-family="Liberation Sans" font-style="normal" >Unciliated</text>
<rect x="84.40" y="338.85" width="28.60" height="28.55" fill="#73a39e" stroke="#fff" stroke-width="0.6" rx="0" />
<rect x="85.65" y="340.10" width="26.10" height="26.05" fill="#4c8983" stroke="#2e3b3a" stroke-width="0.7" rx="2.6" />
<text x="98.70" y="355.73" font-size="6.6" text-anchor="middle" font-weight="bold" fill="#fff" font-family="Liberation Sans" font-style="normal" >0.796</text>
<rect x="113.00" y="338.85" width="28.60" height="28.55" fill="#70a09c" stroke="#fff" stroke-width="0.6" rx="0" />
<rect x="114.25" y="340.10" width="26.10" height="26.05" fill="#488580" stroke="#2e3b3a" stroke-width="0.7" rx="2.6" />
<text x="127.30" y="355.73" font-size="6.6" text-anchor="middle" font-weight="bold" fill="#fff" font-family="Liberation Sans" font-style="normal" >0.819</text>
<rect x="141.60" y="338.85" width="28.60" height="28.55" fill="#73a39e" stroke="#fff" stroke-width="0.6" rx="0" />
<rect x="142.85" y="340.10" width="26.10" height="26.05" fill="#4c8983" stroke="#2e3b3a" stroke-width="0.7" rx="2.6" />
<text x="155.90" y="355.73" font-size="6.6" text-anchor="middle" font-weight="bold" fill="#fff" font-family="Liberation Sans" font-style="normal" >0.796</text>
<rect x="170.20" y="338.85" width="28.60" height="28.55" fill="#78a5a1" stroke="#fff" stroke-width="0.6" rx="0" />
<rect x="171.45" y="340.10" width="26.10" height="26.05" fill="#528c87" stroke="#2e3b3a" stroke-width="0.7" rx="2.6" />
<text x="184.50" y="355.73" font-size="6.6" text-anchor="middle" font-weight="bold" fill="#fff" font-family="Liberation Sans" font-style="normal" >0.767</text>
<rect x="22.80" y="367.40" width="59.60" height="28.55" fill="#3ea75b" stroke="#222" stroke-width="0.55" rx="0" />
<text x="52.60" y="384.78" font-size="7.8" text-anchor="middle" font-weight="bold" fill="#fff" font-family="Liberation Sans" font-style="normal" >Ciliated</text>
<rect x="84.40" y="367.40" width="28.60" height="28.55" fill="#b3cbc8" stroke="#fff" stroke-width="0.6" rx="0" />
<rect x="85.65" y="368.65" width="26.10" height="26.05" fill="#9dbcb9" stroke="#2e3b3a" stroke-width="0.7" rx="2.6" />
<text x="98.70" y="384.28" font-size="6.6" text-anchor="middle" font-weight="bold" fill="#111" font-family="Liberation Sans" font-style="normal" >0.408</text>
<rect x="113.00" y="367.40" width="28.60" height="28.55" fill="#b4ccca" stroke="#fff" stroke-width="0.6" rx="0" />
<rect x="114.25" y="368.65" width="26.10" height="26.05" fill="#9fbebb" stroke="#2e3b3a" stroke-width="0.7" rx="2.6" />
<text x="127.30" y="384.28" font-size="6.6" text-anchor="middle" font-weight="bold" fill="#111" font-family="Liberation Sans" font-style="normal" >0.396</text>
<rect x="141.60" y="367.40" width="28.60" height="28.55" fill="#b3cbc8" stroke="#fff" stroke-width="0.6" rx="0" />
<rect x="142.85" y="368.65" width="26.10" height="26.05" fill="#9dbcb9" stroke="#2e3b3a" stroke-width="0.7" rx="2.6" />
<text x="155.90" y="384.28" font-size="6.6" text-anchor="middle" font-weight="bold" fill="#111" font-family="Liberation Sans" font-style="normal" >0.408</text>
<rect x="170.20" y="367.40" width="28.60" height="28.55" fill="#bacfcd" stroke="#fff" stroke-width="0.6" rx="0" />
<rect x="171.45" y="368.65" width="26.10" height="26.05" fill="#a6c2bf" stroke="#2e3b3a" stroke-width="0.7" rx="2.6" />
<text x="184.50" y="384.28" font-size="6.6" text-anchor="middle" font-weight="bold" fill="#111" font-family="Liberation Sans" font-style="normal" >0.362</text>
<rect x="22.80" y="395.95" width="59.60" height="28.55" fill="#ffe600" stroke="#222" stroke-width="0.55" rx="0" />
<text x="52.60" y="413.33" font-size="7.8" text-anchor="middle" font-weight="bold" fill="#fff" font-family="Liberation Sans" font-style="normal" >Endothelial</text>
<rect x="84.40" y="395.95" width="28.60" height="28.55" fill="#9ebebb" stroke="#fff" stroke-width="0.6" rx="0" />
<rect x="85.65" y="397.20" width="26.10" height="26.05" fill="#83aca8" stroke="#2e3b3a" stroke-width="0.7" rx="2.6" />
<text x="98.70" y="412.83" font-size="6.6" text-anchor="middle" font-weight="bold" fill="#111" font-family="Liberation Sans" font-style="normal" >0.529</text>
<rect x="113.00" y="395.95" width="28.60" height="28.55" fill="#9ebebb" stroke="#fff" stroke-width="0.6" rx="0" />
<rect x="114.25" y="397.20" width="26.10" height="26.05" fill="#83aca8" stroke="#2e3b3a" stroke-width="0.7" rx="2.6" />
<text x="127.30" y="412.83" font-size="6.6" text-anchor="middle" font-weight="bold" fill="#111" font-family="Liberation Sans" font-style="normal" >0.529</text>
<rect x="141.60" y="395.95" width="28.60" height="28.55" fill="#9ebebb" stroke="#fff" stroke-width="0.6" rx="0" />
<rect x="142.85" y="397.20" width="26.10" height="26.05" fill="#83aca8" stroke="#2e3b3a" stroke-width="0.7" rx="2.6" />
<text x="155.90" y="412.83" font-size="6.6" text-anchor="middle" font-weight="bold" fill="#111" font-family="Liberation Sans" font-style="normal" >0.529</text>
<rect x="170.20" y="395.95" width="28.60" height="28.55" fill="#96b9b6" stroke="#fff" stroke-width="0.6" rx="0" />
<rect x="173.80" y="399.55" width="21.40" height="21.35" fill="#78a5a1" stroke="none" stroke-width="0.3" rx="2.6" />
<text x="184.50" y="412.83" font-size="6.6" text-anchor="middle" font-weight="bold" fill="#111" font-family="Liberation Sans" font-style="normal" >0.582</text>
<rect x="22.80" y="424.50" width="59.60" height="28.55" fill="#8b9fd2" stroke="#222" stroke-width="0.55" rx="0" />
<text x="52.60" y="441.88" font-size="7.8" text-anchor="middle" font-weight="bold" fill="#fff" font-family="Liberation Sans" font-style="normal" >NK/T</text>
<rect x="84.40" y="424.50" width="28.60" height="28.55" fill="#9cbdba" stroke="#fff" stroke-width="0.6" rx="0" />
<rect x="85.65" y="425.75" width="26.10" height="26.05" fill="#80aaa6" stroke="#2e3b3a" stroke-width="0.7" rx="2.6" />
<text x="98.70" y="441.38" font-size="6.6" text-anchor="middle" font-weight="bold" fill="#111" font-family="Liberation Sans" font-style="normal" >0.543</text>
<rect x="113.00" y="424.50" width="28.60" height="28.55" fill="#a5c2c0" stroke="#fff" stroke-width="0.6" rx="0" />
<rect x="114.25" y="425.75" width="26.10" height="26.05" fill="#8cb1ae" stroke="#2e3b3a" stroke-width="0.7" rx="2.6" />
<text x="127.30" y="441.38" font-size="6.6" text-anchor="middle" font-weight="bold" fill="#111" font-family="Liberation Sans" font-style="normal" >0.487</text>
<rect x="141.60" y="424.50" width="28.60" height="28.55" fill="#9cbdba" stroke="#fff" stroke-width="0.6" rx="0" />
<rect x="142.85" y="425.75" width="26.10" height="26.05" fill="#80aaa6" stroke="#2e3b3a" stroke-width="0.7" rx="2.6" />
<text x="155.90" y="441.38" font-size="6.6" text-anchor="middle" font-weight="bold" fill="#111" font-family="Liberation Sans" font-style="normal" >0.543</text>
<rect x="170.20" y="424.50" width="28.60" height="28.55" fill="#9fbebc" stroke="#fff" stroke-width="0.6" rx="0" />
<rect x="171.45" y="425.75" width="26.10" height="26.05" fill="#84aca9" stroke="#2e3b3a" stroke-width="0.7" rx="2.6" />
<text x="184.50" y="441.38" font-size="6.6" text-anchor="middle" font-weight="bold" fill="#111" font-family="Liberation Sans" font-style="normal" >0.525</text>
<rect x="22.80" y="453.05" width="59.60" height="28.55" fill="#c07567" stroke="#222" stroke-width="0.55" rx="0" />
<text x="52.60" y="470.43" font-size="7.8" text-anchor="middle" font-weight="bold" fill="#fff" font-family="Liberation Sans" font-style="normal" >Myeloid</text>
<rect x="84.40" y="453.05" width="28.60" height="28.55" fill="#b6cdcb" stroke="#fff" stroke-width="0.6" rx="0" />
<rect x="85.65" y="454.30" width="26.10" height="26.05" fill="#a1bfbc" stroke="#2e3b3a" stroke-width="0.7" rx="2.6" />
<text x="98.70" y="469.93" font-size="6.6" text-anchor="middle" font-weight="bold" fill="#111" font-family="Liberation Sans" font-style="normal" >0.385</text>
<rect x="113.00" y="453.05" width="28.60" height="28.55" fill="#dae6e4" stroke="#fff" stroke-width="0.6" rx="0" />
<rect x="114.25" y="454.30" width="26.10" height="26.05" fill="#b5ccc9" stroke="#2e3b3a" stroke-width="0.7" rx="2.6" />
<text x="127.30" y="469.93" font-size="6.6" text-anchor="middle" font-weight="bold" fill="#111" font-family="Liberation Sans" font-style="normal" >0.291</text>
<rect x="141.60" y="453.05" width="28.60" height="28.55" fill="#b6cdcb" stroke="#fff" stroke-width="0.6" rx="0" />
<rect x="142.85" y="454.30" width="26.10" height="26.05" fill="#a1bfbc" stroke="#2e3b3a" stroke-width="0.7" rx="2.6" />
<text x="155.90" y="469.93" font-size="6.6" text-anchor="middle" font-weight="bold" fill="#111" font-family="Liberation Sans" font-style="normal" >0.385</text>
<rect x="170.20" y="453.05" width="28.60" height="28.55" fill="#b1cac8" stroke="#fff" stroke-width="0.6" rx="0" />
<rect x="171.45" y="454.30" width="26.10" height="26.05" fill="#9bbbb8" stroke="#2e3b3a" stroke-width="0.7" rx="2.6" />
<text x="184.50" y="469.93" font-size="6.6" text-anchor="middle" font-weight="bold" fill="#111" font-family="Liberation Sans" font-style="normal" >0.415</text>
<rect x="22.80" y="481.60" width="59.60" height="28.55" fill="#f57c2b" stroke="#222" stroke-width="0.55" rx="0" />
<text x="52.60" y="498.98" font-size="7.8" text-anchor="middle" font-weight="bold" fill="#fff" font-family="Liberation Sans" font-style="normal" >B</text>
<rect x="84.40" y="481.60" width="28.60" height="28.55" fill="#f7f6f5" stroke="#fff" stroke-width="0.6" rx="0" />
<circle cx="98.70" cy="495.88" r="7.3" fill="#efeeec" stroke="#f2835e" stroke-width="0.6"/>
<text x="98.70" y="498.48" font-size="6.6" text-anchor="middle" font-weight="bold" fill="#111" font-family="Liberation Sans" font-style="normal" >−0.038</text>
<rect x="113.00" y="481.60" width="28.60" height="28.55" fill="#f7f6f5" stroke="#fff" stroke-width="0.6" rx="0" />
<rect x="115.70" y="484.30" width="23.20" height="23.15" fill="#e9e3de" stroke="#a8a8a8" stroke-width="0.45" rx="2.6" />
<text x="127.30" y="498.48" font-size="6.6" text-anchor="middle" font-weight="bold" fill="#111" font-family="Liberation Sans" font-style="normal" >−0.078</text>
<rect x="141.60" y="481.60" width="28.60" height="28.55" fill="#f7f6f5" stroke="#fff" stroke-width="0.6" rx="0" />
<circle cx="155.90" cy="495.88" r="7.3" fill="#efeeec" stroke="#f2835e" stroke-width="0.6"/>
<text x="155.90" y="498.48" font-size="6.6" text-anchor="middle" font-weight="bold" fill="#111" font-family="Liberation Sans" font-style="normal" >−0.038</text>
<rect x="170.20" y="481.60" width="28.60" height="28.55" fill="#f7f6f5" stroke="#fff" stroke-width="0.6" rx="0" />
<circle cx="184.50" cy="495.88" r="7.3" fill="#efeeec" stroke="#f2835e" stroke-width="0.6"/>
<text x="184.50" y="498.48" font-size="6.6" text-anchor="middle" font-weight="bold" fill="#111" font-family="Liberation Sans" font-style="normal" >0.034</text>
<rect x="22.80" y="510.15" width="59.60" height="28.55" fill="#4ebcda" stroke="#222" stroke-width="0.55" rx="0" />
<text x="52.60" y="527.52" font-size="7.8" text-anchor="middle" font-weight="bold" fill="#fff" font-family="Liberation Sans" font-style="normal" >Mast</text>
<rect x="84.40" y="510.15" width="28.60" height="28.55" fill="#f7f6f5" stroke="#fff" stroke-width="0.6" rx="0" />
<rect x="88.00" y="513.75" width="21.40" height="21.35" fill="#eae4df" stroke="#e0dedc" stroke-width="0.3" rx="2.6" />
<text x="98.70" y="527.02" font-size="6.6" text-anchor="middle" font-weight="bold" fill="#111" font-family="Liberation Sans" font-style="normal" >−0.075</text>
<rect x="113.00" y="510.15" width="28.60" height="28.55" fill="#f7f6f5" stroke="#fff" stroke-width="0.6" rx="0" />
<rect x="114.25" y="511.40" width="26.10" height="26.05" fill="#e1d8d1" stroke="#2e3b3a" stroke-width="0.7" rx="2.6" />
<text x="127.30" y="527.02" font-size="6.6" text-anchor="middle" font-weight="bold" fill="#111" font-family="Liberation Sans" font-style="normal" >−0.131</text>
<rect x="141.60" y="510.15" width="28.60" height="28.55" fill="#f7f6f5" stroke="#fff" stroke-width="0.6" rx="0" />
<rect x="145.20" y="513.75" width="21.40" height="21.35" fill="#eae4df" stroke="#e0dedc" stroke-width="0.3" rx="2.6" />
<text x="155.90" y="527.02" font-size="6.6" text-anchor="middle" font-weight="bold" fill="#111" font-family="Liberation Sans" font-style="normal" >−0.075</text>
<rect x="170.20" y="510.15" width="28.60" height="28.55" fill="#e0e9e8" stroke="#fff" stroke-width="0.6" rx="0" />
<circle cx="184.50" cy="524.42" r="7.3" fill="#aec7c5" stroke="#f2835e" stroke-width="0.6"/>
<text x="184.50" y="527.02" font-size="6.6" text-anchor="middle" font-weight="bold" fill="#111" font-family="Liberation Sans" font-style="normal" >0.240</text>
<text x="98.70" y="308.60" font-size="7.4" text-anchor="middle" font-weight="bold" fill="#000" font-family="Liberation Sans" font-style="normal" >hvg</text>
<text x="127.30" y="308.60" font-size="7.4" text-anchor="middle" font-weight="bold" fill="#000" font-family="Liberation Sans" font-style="normal" >hvg_rc</text>
<text x="155.90" y="308.60" font-size="7.4" text-anchor="middle" font-weight="bold" fill="#000" font-family="Liberation Sans" font-style="normal" >vp</text>
<text x="184.50" y="308.60" font-size="7.4" text-anchor="middle" font-weight="bold" fill="#000" font-family="Liberation Sans" font-style="normal" >vp_rc</text>
<text x="202.30" y="370.30" font-size="6.7" text-anchor="start" font-weight="bold" fill="#000" font-family="Liberation Sans" font-style="normal" >Spearman's rank</text>
<text x="202.30" y="377.50" font-size="6.7" text-anchor="start" font-weight="bold" fill="#000" font-family="Liberation Sans" font-style="normal" >correlation coefficient</text>
<defs><linearGradient id="cgrad" x1="0" y1="0" x2="0" y2="1"><stop offset="0" stop-color="#1f6b66"/><stop offset="0.2" stop-color="#6fa39e"/><stop offset="0.4" stop-color="#cfdedc"/><stop offset="0.5" stop-color="#f6f5f4"/><stop offset="0.6" stop-color="#e2d5c9"/><stop offset="0.8" stop-color="#a7835d"/><stop offset="1" stop-color="#6b3d14"/></linearGradient></defs>
<rect x="202.00" y="380.90" width="8.30" height="49.30" fill="url(#cgrad)" stroke="none" stroke-width="0" rx="0" />
<line x1="202.00" y1="382.00" x2="203.60" y2="382.00" stroke="#fff" stroke-width="0.4" />
<line x1="208.70" y1="382.00" x2="210.30" y2="382.00" stroke="#fff" stroke-width="0.4" />
<text x="212.00" y="384.50" font-size="6.3" text-anchor="start" font-weight="normal" fill="#111" font-family="Liberation Sans" font-style="normal" >1</text>
<line x1="202.00" y1="391.30" x2="203.60" y2="391.30" stroke="#fff" stroke-width="0.4" />
<line x1="208.70" y1="391.30" x2="210.30" y2="391.30" stroke="#fff" stroke-width="0.4" />
<text x="212.00" y="393.80" font-size="6.3" text-anchor="start" font-weight="normal" fill="#111" font-family="Liberation Sans" font-style="normal" >0.6</text>
<line x1="202.00" y1="400.60" x2="203.60" y2="400.60" stroke="#fff" stroke-width="0.4" />
<line x1="208.70" y1="400.60" x2="210.30" y2="400.60" stroke="#fff" stroke-width="0.4" />
<text x="212.00" y="403.10" font-size="6.3" text-anchor="start" font-weight="normal" fill="#111" font-family="Liberation Sans" font-style="normal" >0.2</text>
<line x1="202.00" y1="409.90" x2="203.60" y2="409.90" stroke="#fff" stroke-width="0.4" />
<line x1="208.70" y1="409.90" x2="210.30" y2="409.90" stroke="#fff" stroke-width="0.4" />
<text x="212.00" y="412.40" font-size="6.3" text-anchor="start" font-weight="normal" fill="#111" font-family="Liberation Sans" font-style="normal" >−0.2</text>
<line x1="202.00" y1="419.20" x2="203.60" y2="419.20" stroke="#fff" stroke-width="0.4" />
<line x1="208.70" y1="419.20" x2="210.30" y2="419.20" stroke="#fff" stroke-width="0.4" />
<text x="212.00" y="421.70" font-size="6.3" text-anchor="start" font-weight="normal" fill="#111" font-family="Liberation Sans" font-style="normal" >−0.6</text>
<line x1="202.00" y1="428.50" x2="203.60" y2="428.50" stroke="#fff" stroke-width="0.4" />
<line x1="208.70" y1="428.50" x2="210.30" y2="428.50" stroke="#fff" stroke-width="0.4" />
<text x="212.00" y="431.00" font-size="6.3" text-anchor="start" font-weight="normal" fill="#111" font-family="Liberation Sans" font-style="normal" >−1</text>
<text x="202.30" y="442.60" font-size="6.6" text-anchor="start" font-weight="bold" fill="#000" font-family="Liberation Sans" font-style="normal" >p−value</text>
<circle cx="205.9" cy="450.1" r="1.8" fill="none" stroke="#f2835e" stroke-width="0.6"/>
<text x="211.60" y="452.20" font-size="6.3" text-anchor="start" font-weight="normal" fill="#111" font-family="Liberation Sans" font-style="normal" >ns</text>
<rect x="203.20" y="454.70" width="5.40" height="5.40" fill="#fff" stroke="#d5d5d5" stroke-width="0.3" rx="0.8" />
<text x="211.60" y="460.00" font-size="6.3" text-anchor="start" font-weight="normal" fill="#111" font-family="Liberation Sans" font-style="normal" >*</text>
<rect x="202.95" y="462.05" width="5.90" height="5.90" fill="#fff" stroke="#aaa" stroke-width="0.4" rx="0.8" />
<text x="211.60" y="467.60" font-size="6.3" text-anchor="start" font-weight="normal" fill="#111" font-family="Liberation Sans" font-style="normal" >**</text>
<rect x="202.70" y="469.10" width="6.40" height="6.40" fill="#fff" stroke="#666" stroke-width="0.5" rx="0.8" />
<text x="211.60" y="474.90" font-size="6.3" text-anchor="start" font-weight="normal" fill="#111" font-family="Liberation Sans" font-style="normal" >***</text>
<rect x="202.45" y="476.95" width="6.90" height="6.90" fill="#fff" stroke="#333" stroke-width="0.6" rx="0.8" />
<text x="211.60" y="483.00" font-size="6.3" text-anchor="start" font-weight="normal" fill="#111" font-family="Liberation Sans" font-style="normal" >****</text>
</g>
<g id="panel_d">
<defs><linearGradient id="hgrad" x1="0" y1="0" x2="1" y2="0"><stop offset="0.000" stop-color="#0e0e7c"/><stop offset="0.125" stop-color="#3410b0"/><stop offset="0.250" stop-color="#641ede"/><stop offset="0.375" stop-color="#9636f0"/><stop offset="0.500" stop-color="#c45ae8"/><stop offset="0.625" stop-color="#e678c2"/><stop offset="0.750" stop-color="#f08586"/><stop offset="0.875" stop-color="#f8a898"/><stop offset="1.000" stop-color="#fcc9b4"/></linearGradient><filter id="hblur" x="-2%" y="-2%" width="104%" height="104%"><feGaussianBlur stdDeviation="0.9 0.5"/></filter></defs>
<text x="350.50" y="288.20" font-size="19.3" text-anchor="start" font-weight="normal" fill="#000" font-family="Liberation Sans" font-style="normal" >d</text>
<text x="522.00" y="292.60" font-size="6.95" text-anchor="middle" font-weight="normal" fill="#000" font-family="Liberation Sans" font-style="normal" >epi (18803 cells)</text>
<clipPath id="clipE"><rect x="384.5" y="297" width="274.5" height="153"/></clipPath><g clip-path="url(#clipE)"><rect x="381.5" y="294" width="280.5" height="159" fill="#3a12b0"/><g filter="url(#hblur)" shape-rendering="crispEdges"><path d="M609.5 301h52.5v1h-52.5zM609.5 302h52.5v1h-52.5zM404.5 315h5.0v1h-5.0zM381.5 316h28.0v1h-28.0zM482.5 316h179.5v1h-179.5zM404.5 329h5.0v1h-5.0zM404.5 330h5.0v1h-5.0zM404.5 332h5.0v1h-5.0zM609.5 332h27.0v1h-27.0zM404.5 333h5.0v1h-5.0zM609.5 333h27.0v1h-27.0zM404.5 349h5.0v1h-5.0zM404.5 359h5.0v1h-5.0zM404.5 360h5.0v1h-5.0zM409.5 389h73.0v1h-73.0zM409.5 390h73.0v1h-73.0zM409.5 393h73.0v1h-73.0zM409.5 394h73.0v1h-73.0zM409.5 395h73.0v1h-73.0zM409.5 396h73.0v1h-73.0zM409.5 399h73.0v1h-73.0zM409.5 403h73.0v1h-73.0zM409.5 411h73.0v1h-73.0zM409.5 414h73.0v1h-73.0zM409.5 421h73.0v1h-73.0zM409.5 426h73.0v1h-73.0zM409.5 428h73.0v1h-73.0zM409.5 436h73.0v1h-73.0zM409.5 442h73.0v1h-73.0z" fill="#1a0f8d"/><path d="M404.5 301h5.0v1h-5.0zM482.5 301h127.0v1h-127.0zM404.5 302h5.0v1h-5.0zM482.5 302h127.0v1h-127.0zM404.5 310h5.0v1h-5.0zM404.5 313h5.0v1h-5.0zM482.5 313h179.5v1h-179.5zM404.5 314h5.0v1h-5.0zM482.5 314h179.5v1h-179.5zM482.5 315h179.5v1h-179.5zM409.5 316h73.0v1h-73.0zM482.5 329h158.0v1h-158.0zM482.5 330h158.0v1h-158.0zM404.5 331h5.0v1h-5.0zM609.5 331h27.0v1h-27.0zM381.5 332h23.0v1h-23.0zM482.5 332h127.0v1h-127.0zM636.5 332h25.5v1h-25.5zM381.5 333h23.0v1h-23.0zM482.5 333h127.0v1h-127.0zM636.5 333h25.5v1h-25.5zM404.5 334h5.0v1h-5.0zM609.5 334h27.0v1h-27.0zM404.5 342h5.0v1h-5.0zM404.5 343h5.0v1h-5.0zM404.5 347h5.0v1h-5.0zM404.5 348h5.0v1h-5.0zM381.5 349h23.0v1h-23.0zM482.5 349h179.5v1h-179.5zM404.5 354h5.0v1h-5.0zM609.5 354h27.0v1h-27.0zM482.5 359h179.5v1h-179.5zM482.5 360h179.5v1h-179.5zM404.5 366h5.0v1h-5.0zM409.5 388h73.0v1h-73.0zM409.5 391h73.0v1h-73.0zM409.5 392h73.0v1h-73.0zM409.5 397h73.0v1h-73.0zM409.5 400h73.0v1h-73.0zM409.5 401h73.0v1h-73.0zM409.5 402h73.0v1h-73.0zM482.5 403h4.0v1h-4.0zM409.5 404h73.0v1h-73.0zM409.5 405h73.0v1h-73.0zM409.5 406h73.0v1h-73.0zM409.5 407h73.0v1h-73.0zM409.5 408h73.0v1h-73.0zM409.5 409h73.0v1h-73.0zM409.5 410h73.0v1h-73.0zM482.5 411h4.0v1h-4.0zM409.5 412h73.0v1h-73.0zM409.5 413h73.0v1h-73.0zM482.5 414h4.0v1h-4.0zM409.5 415h73.0v1h-73.0zM409.5 416h73.0v1h-73.0zM409.5 418h73.0v1h-73.0zM409.5 419h73.0v1h-73.0zM409.5 420h73.0v1h-73.0zM482.5 421h4.0v1h-4.0zM605.5 421h4.0v1h-4.0zM636.5 421h4.0v1h-4.0zM409.5 422h73.0v1h-73.0zM409.5 423h73.0v1h-73.0zM409.5 424h73.0v1h-73.0zM409.5 425h73.0v1h-73.0zM482.5 426h4.0v1h-4.0zM409.5 427h73.0v1h-73.0zM482.5 428h4.0v1h-4.0zM605.5 428h4.0v1h-4.0zM636.5 428h4.0v1h-4.0zM409.5 429h73.0v1h-73.0zM409.5 430h73.0v1h-73.0zM409.5 431h73.0v1h-73.0zM409.5 433h73.0v1h-73.0zM409.5 435h73.0v1h-73.0zM404.5 436h5.0v1h-5.0zM482.5 436h4.0v1h-4.0zM605.5 436h4.0v1h-4.0zM636.5 436h4.0v1h-4.0zM409.5 437h73.0v1h-73.0zM409.5 438h73.0v1h-73.0zM409.5 439h73.0v1h-73.0zM409.5 440h73.0v1h-73.0zM409.5 441h73.0v1h-73.0zM482.5 442h4.0v1h-4.0z" fill="#200f95"/><path d="M609.5 298h52.5v1h-52.5zM609.5 299h52.5v1h-52.5zM609.5 300h52.5v1h-52.5zM409.5 301h73.0v1h-73.0zM409.5 302h73.0v1h-73.0zM609.5 303h52.5v1h-52.5zM404.5 308h5.0v1h-5.0zM409.5 310h77.0v1h-77.0zM605.5 310h56.5v1h-56.5zM381.5 313h23.0v1h-23.0zM381.5 314h23.0v1h-23.0zM381.5 315h23.0v1h-23.0zM409.5 315h73.0v1h-73.0zM404.5 318h5.0v1h-5.0zM404.5 319h5.0v1h-5.0zM404.5 326h5.0v1h-5.0zM404.5 327h5.0v1h-5.0zM381.5 329h23.0v1h-23.0zM640.5 329h21.5v1h-21.5zM381.5 330h23.0v1h-23.0zM640.5 330h21.5v1h-21.5zM482.5 331h127.0v1h-127.0zM636.5 331h25.5v1h-25.5zM482.5 334h127.0v1h-127.0zM636.5 334h25.5v1h-25.5zM482.5 342h179.5v1h-179.5zM482.5 343h179.5v1h-179.5zM609.5 347h27.0v1h-27.0zM381.5 354h23.0v1h-23.0zM482.5 354h127.0v1h-127.0zM636.5 354h25.5v1h-25.5zM381.5 359h23.0v1h-23.0zM381.5 360h23.0v1h-23.0zM482.5 366h179.5v1h-179.5zM404.5 369h5.0v1h-5.0zM404.5 370h5.0v1h-5.0zM404.5 372h5.0v1h-5.0zM482.5 393h4.0v1h-4.0zM482.5 394h4.0v1h-4.0zM482.5 395h4.0v1h-4.0zM482.5 399h4.0v1h-4.0zM404.5 403h5.0v1h-5.0zM605.5 403h4.0v1h-4.0zM636.5 403h4.0v1h-4.0zM404.5 411h5.0v1h-5.0zM605.5 411h4.0v1h-4.0zM636.5 411h4.0v1h-4.0zM404.5 414h5.0v1h-5.0zM605.5 414h4.0v1h-4.0zM636.5 414h4.0v1h-4.0zM482.5 418h4.0v1h-4.0zM482.5 420h4.0v1h-4.0zM381.5 421h28.0v1h-28.0zM482.5 422h4.0v1h-4.0zM482.5 423h4.0v1h-4.0zM482.5 424h4.0v1h-4.0zM482.5 425h4.0v1h-4.0zM605.5 426h4.0v1h-4.0zM636.5 426h4.0v1h-4.0zM482.5 427h4.0v1h-4.0zM381.5 428h28.0v1h-28.0zM409.5 432h73.0v1h-73.0zM482.5 433h4.0v1h-4.0zM605.5 433h4.0v1h-4.0zM636.5 433h4.0v1h-4.0zM409.5 434h73.0v1h-73.0zM482.5 435h4.0v1h-4.0zM381.5 436h23.0v1h-23.0zM609.5 436h27.0v1h-27.0zM482.5 438h4.0v1h-4.0zM636.5 438h4.0v1h-4.0zM482.5 440h4.0v1h-4.0zM482.5 441h4.0v1h-4.0zM404.5 442h5.0v1h-5.0zM605.5 442h4.0v1h-4.0zM636.5 442h4.0v1h-4.0z" fill="#260f9d"/><path d="M404.5 298h5.0v1h-5.0zM482.5 298h127.0v1h-127.0zM404.5 299h5.0v1h-5.0zM482.5 299h127.0v1h-127.0zM404.5 300h5.0v1h-5.0zM482.5 300h127.0v1h-127.0zM404.5 303h5.0v1h-5.0zM482.5 303h127.0v1h-127.0zM404.5 306h5.0v1h-5.0zM640.5 306h21.5v1h-21.5zM404.5 307h5.0v1h-5.0zM640.5 307h21.5v1h-21.5zM409.5 308h252.5v1h-252.5zM404.5 309h5.0v1h-5.0zM486.5 310h119.0v1h-119.0zM409.5 313h73.0v1h-73.0zM409.5 314h73.0v1h-73.0zM404.5 320h5.0v1h-5.0zM404.5 323h5.0v1h-5.0zM482.5 326h4.0v1h-4.0zM609.5 326h27.0v1h-27.0zM404.5 328h5.0v1h-5.0zM381.5 331h23.0v1h-23.0zM381.5 334h23.0v1h-23.0zM404.5 335h5.0v1h-5.0zM404.5 337h5.0v1h-5.0zM381.5 342h23.0v1h-23.0zM381.5 343h23.0v1h-23.0zM381.5 347h23.0v1h-23.0zM482.5 347h127.0v1h-127.0zM636.5 347h4.0v1h-4.0zM482.5 348h158.0v1h-158.0zM404.5 352h5.0v1h-5.0zM404.5 356h5.0v1h-5.0zM404.5 364h5.0v1h-5.0zM381.5 366h23.0v1h-23.0zM609.5 369h27.0v1h-27.0zM609.5 370h27.0v1h-27.0zM609.5 372h27.0v1h-27.0zM404.5 379h5.0v1h-5.0zM404.5 381h5.0v1h-5.0zM404.5 382h5.0v1h-5.0zM482.5 389h4.0v1h-4.0zM482.5 390h4.0v1h-4.0zM404.5 393h5.0v1h-5.0zM605.5 393h4.0v1h-4.0zM636.5 393h4.0v1h-4.0zM404.5 394h5.0v1h-5.0zM605.5 394h4.0v1h-4.0zM636.5 394h4.0v1h-4.0zM404.5 395h5.0v1h-5.0zM605.5 395h4.0v1h-4.0zM636.5 395h4.0v1h-4.0zM482.5 396h4.0v1h-4.0zM404.5 399h5.0v1h-5.0zM605.5 399h4.0v1h-4.0zM636.5 399h4.0v1h-4.0zM482.5 401h4.0v1h-4.0zM381.5 403h23.0v1h-23.0zM482.5 404h4.0v1h-4.0zM482.5 405h4.0v1h-4.0zM482.5 407h4.0v1h-4.0zM482.5 409h4.0v1h-4.0zM381.5 411h23.0v1h-23.0zM381.5 414h23.0v1h-23.0zM605.5 418h4.0v1h-4.0zM636.5 418h4.0v1h-4.0zM482.5 419h4.0v1h-4.0zM605.5 420h4.0v1h-4.0zM636.5 420h4.0v1h-4.0zM486.5 421h119.0v1h-119.0zM609.5 421h27.0v1h-27.0zM640.5 421h21.5v1h-21.5zM605.5 422h4.0v1h-4.0zM636.5 422h4.0v1h-4.0zM605.5 423h4.0v1h-4.0zM636.5 423h4.0v1h-4.0zM381.5 426h28.0v1h-28.0zM605.5 427h4.0v1h-4.0zM636.5 427h4.0v1h-4.0zM486.5 428h119.0v1h-119.0zM609.5 428h27.0v1h-27.0zM640.5 428h21.5v1h-21.5zM482.5 429h4.0v1h-4.0zM482.5 430h4.0v1h-4.0zM482.5 431h4.0v1h-4.0zM605.5 431h4.0v1h-4.0zM636.5 431h4.0v1h-4.0zM636.5 432h4.0v1h-4.0zM404.5 433h5.0v1h-5.0zM605.5 434h4.0v1h-4.0zM636.5 434h4.0v1h-4.0zM605.5 435h4.0v1h-4.0zM636.5 435h4.0v1h-4.0zM486.5 436h119.0v1h-119.0zM640.5 436h21.5v1h-21.5zM482.5 437h4.0v1h-4.0zM636.5 437h4.0v1h-4.0zM404.5 438h5.0v1h-5.0zM605.5 438h4.0v1h-4.0zM482.5 439h4.0v1h-4.0zM636.5 439h4.0v1h-4.0zM605.5 440h4.0v1h-4.0zM636.5 440h4.0v1h-4.0zM605.5 441h4.0v1h-4.0zM636.5 441h4.0v1h-4.0zM381.5 442h23.0v1h-23.0zM609.5 442h27.0v1h-27.0zM640.5 442h21.5v1h-21.5zM605.5 446h4.0v1h-4.0zM636.5 446h4.0v1h-4.0zM605.5 448h4.0v1h-4.0zM636.5 448h4.0v1h-4.0z" fill="#2c10a6"/><path d="M404.5 305h5.0v1h-5.0zM640.5 305h21.5v1h-21.5zM482.5 306h4.0v1h-4.0zM605.5 306h35.0v1h-35.0zM482.5 307h4.0v1h-4.0zM605.5 307h35.0v1h-35.0zM404.5 325h5.0v1h-5.0zM381.5 326h23.0v1h-23.0zM486.5 326h123.0v1h-123.0zM482.5 327h4.0v1h-4.0zM609.5 327h27.0v1h-27.0zM404.5 344h5.0v1h-5.0zM404.5 345h5.0v1h-5.0zM640.5 347h21.5v1h-21.5zM381.5 348h23.0v1h-23.0zM640.5 348h21.5v1h-21.5zM404.5 351h5.0v1h-5.0zM404.5 353h5.0v1h-5.0zM404.5 355h5.0v1h-5.0zM609.5 356h27.0v1h-27.0zM404.5 357h5.0v1h-5.0zM404.5 362h5.0v1h-5.0zM404.5 363h5.0v1h-5.0zM482.5 364h4.0v1h-4.0zM605.5 364h35.0v1h-35.0zM404.5 365h5.0v1h-5.0zM381.5 369h23.0v1h-23.0zM482.5 369h4.0v1h-4.0zM605.5 369h4.0v1h-4.0zM636.5 369h25.5v1h-25.5zM381.5 370h23.0v1h-23.0zM482.5 370h4.0v1h-4.0zM605.5 370h4.0v1h-4.0zM636.5 370h25.5v1h-25.5zM404.5 371h5.0v1h-5.0zM381.5 372h23.0v1h-23.0zM482.5 372h4.0v1h-4.0zM605.5 372h4.0v1h-4.0zM636.5 372h25.5v1h-25.5zM404.5 375h5.0v1h-5.0zM404.5 376h5.0v1h-5.0zM404.5 380h5.0v1h-5.0zM404.5 386h5.0v1h-5.0zM404.5 387h5.0v1h-5.0zM482.5 388h4.0v1h-4.0zM404.5 389h5.0v1h-5.0zM605.5 389h4.0v1h-4.0zM636.5 389h4.0v1h-4.0zM404.5 390h5.0v1h-5.0zM605.5 390h4.0v1h-4.0zM636.5 390h4.0v1h-4.0zM482.5 391h4.0v1h-4.0zM482.5 392h4.0v1h-4.0zM381.5 393h23.0v1h-23.0zM381.5 394h23.0v1h-23.0zM381.5 395h23.0v1h-23.0zM404.5 396h5.0v1h-5.0zM605.5 396h4.0v1h-4.0zM636.5 396h4.0v1h-4.0zM381.5 399h23.0v1h-23.0zM482.5 400h4.0v1h-4.0zM404.5 401h5.0v1h-5.0zM605.5 401h4.0v1h-4.0zM636.5 401h4.0v1h-4.0zM482.5 402h4.0v1h-4.0zM486.5 403h119.0v1h-119.0zM609.5 403h27.0v1h-27.0zM640.5 403h21.5v1h-21.5zM404.5 404h5.0v1h-5.0zM605.5 404h4.0v1h-4.0zM636.5 404h4.0v1h-4.0zM404.5 405h5.0v1h-5.0zM605.5 405h4.0v1h-4.0zM636.5 405h4.0v1h-4.0zM482.5 406h4.0v1h-4.0zM404.5 407h5.0v1h-5.0zM605.5 407h4.0v1h-4.0zM636.5 407h4.0v1h-4.0zM482.5 408h4.0v1h-4.0zM404.5 409h5.0v1h-5.0zM605.5 409h4.0v1h-4.0zM636.5 409h4.0v1h-4.0zM482.5 410h4.0v1h-4.0zM486.5 411h119.0v1h-119.0zM609.5 411h27.0v1h-27.0zM640.5 411h21.5v1h-21.5zM482.5 412h4.0v1h-4.0zM482.5 413h4.0v1h-4.0zM486.5 414h119.0v1h-119.0zM609.5 414h27.0v1h-27.0zM640.5 414h21.5v1h-21.5zM482.5 415h4.0v1h-4.0zM482.5 416h4.0v1h-4.0zM381.5 418h28.0v1h-28.0zM605.5 419h4.0v1h-4.0zM636.5 419h4.0v1h-4.0zM381.5 420h28.0v1h-28.0zM381.5 422h28.0v1h-28.0zM381.5 423h28.0v1h-28.0zM404.5 424h5.0v1h-5.0zM605.5 424h4.0v1h-4.0zM404.5 425h5.0v1h-5.0zM605.5 425h4.0v1h-4.0zM486.5 426h119.0v1h-119.0zM609.5 426h27.0v1h-27.0zM640.5 426h21.5v1h-21.5zM381.5 427h28.0v1h-28.0zM605.5 429h4.0v1h-4.0zM636.5 429h4.0v1h-4.0zM605.5 430h4.0v1h-4.0zM636.5 430h4.0v1h-4.0zM404.5 431h5.0v1h-5.0zM482.5 432h4.0v1h-4.0zM605.5 432h4.0v1h-4.0zM381.5 433h23.0v1h-23.0zM609.5 433h27.0v1h-27.0zM381.5 435h28.0v1h-28.0zM404.5 437h5.0v1h-5.0zM605.5 437h4.0v1h-4.0zM381.5 438h23.0v1h-23.0zM609.5 438h27.0v1h-27.0zM640.5 438h21.5v1h-21.5zM404.5 439h5.0v1h-5.0zM605.5 439h4.0v1h-4.0zM381.5 440h28.0v1h-28.0zM381.5 441h28.0v1h-28.0zM486.5 442h119.0v1h-119.0zM404.5 446h5.0v1h-5.0zM605.5 447h4.0v1h-4.0zM636.5 447h4.0v1h-4.0zM404.5 448h5.0v1h-5.0z" fill="#3210ae"/><path d="M409.5 298h73.0v1h-73.0zM409.5 299h73.0v1h-73.0zM409.5 300h73.0v1h-73.0zM381.5 301h23.0v1h-23.0zM381.5 302h23.0v1h-23.0zM409.5 303h73.0v1h-73.0zM482.5 305h4.0v1h-4.0zM609.5 305h31.0v1h-31.0zM409.5 306h73.0v1h-73.0zM486.5 306h119.0v1h-119.0zM409.5 307h73.0v1h-73.0zM486.5 307h119.0v1h-119.0zM482.5 309h4.0v1h-4.0zM609.5 309h52.5v1h-52.5zM404.5 317h5.0v1h-5.0zM381.5 318h23.0v1h-23.0zM482.5 318h154.0v1h-154.0zM381.5 319h23.0v1h-23.0zM482.5 319h154.0v1h-154.0zM404.5 321h5.0v1h-5.0zM404.5 324h5.0v1h-5.0zM636.5 326h4.0v1h-4.0zM381.5 327h23.0v1h-23.0zM486.5 327h123.0v1h-123.0zM482.5 328h4.0v1h-4.0zM409.5 332h73.0v1h-73.0zM409.5 333h73.0v1h-73.0zM404.5 336h5.0v1h-5.0zM404.5 339h5.0v1h-5.0zM404.5 346h5.0v1h-5.0zM482.5 352h4.0v1h-4.0zM605.5 352h35.0v1h-35.0zM381.5 356h23.0v1h-23.0zM482.5 356h127.0v1h-127.0zM636.5 356h4.0v1h-4.0zM404.5 358h5.0v1h-5.0zM404.5 361h5.0v1h-5.0zM381.5 364h23.0v1h-23.0zM486.5 364h119.0v1h-119.0zM640.5 364h21.5v1h-21.5zM609.5 365h27.0v1h-27.0zM404.5 367h5.0v1h-5.0zM404.5 368h5.0v1h-5.0zM486.5 369h119.0v1h-119.0zM486.5 370h119.0v1h-119.0zM486.5 372h119.0v1h-119.0zM404.5 377h5.0v1h-5.0zM404.5 378h5.0v1h-5.0zM404.5 385h5.0v1h-5.0zM605.5 387h4.0v1h-4.0zM404.5 388h5.0v1h-5.0zM605.5 388h4.0v1h-4.0zM636.5 388h4.0v1h-4.0zM381.5 389h23.0v1h-23.0zM381.5 390h23.0v1h-23.0zM404.5 392h5.0v1h-5.0zM605.5 392h4.0v1h-4.0zM636.5 392h4.0v1h-4.0zM609.5 393h27.0v1h-27.0zM640.5 393h21.5v1h-21.5zM609.5 394h27.0v1h-27.0zM640.5 394h21.5v1h-21.5zM609.5 395h27.0v1h-27.0zM640.5 395h21.5v1h-21.5zM381.5 396h23.0v1h-23.0zM482.5 397h4.0v1h-4.0zM609.5 399h27.0v1h-27.0zM640.5 399h21.5v1h-21.5zM605.5 400h4.0v1h-4.0zM636.5 400h4.0v1h-4.0zM404.5 402h5.0v1h-5.0zM605.5 402h4.0v1h-4.0zM636.5 402h4.0v1h-4.0zM404.5 406h5.0v1h-5.0zM605.5 406h4.0v1h-4.0zM636.5 406h4.0v1h-4.0zM404.5 408h5.0v1h-5.0zM605.5 408h4.0v1h-4.0zM636.5 408h4.0v1h-4.0zM404.5 410h5.0v1h-5.0zM605.5 410h4.0v1h-4.0zM636.5 410h4.0v1h-4.0zM605.5 412h4.0v1h-4.0zM636.5 412h4.0v1h-4.0zM605.5 413h4.0v1h-4.0zM636.5 413h4.0v1h-4.0zM605.5 415h4.0v1h-4.0zM636.5 415h4.0v1h-4.0zM404.5 416h5.0v1h-5.0zM605.5 416h4.0v1h-4.0zM636.5 416h4.0v1h-4.0zM609.5 418h27.0v1h-27.0zM640.5 418h21.5v1h-21.5zM404.5 419h5.0v1h-5.0zM609.5 420h27.0v1h-27.0zM640.5 420h21.5v1h-21.5zM609.5 422h27.0v1h-27.0zM640.5 422h21.5v1h-21.5zM609.5 423h27.0v1h-27.0zM640.5 423h21.5v1h-21.5zM381.5 424h23.0v1h-23.0zM381.5 425h23.0v1h-23.0zM609.5 427h27.0v1h-27.0zM640.5 427h21.5v1h-21.5zM404.5 429h5.0v1h-5.0zM404.5 430h5.0v1h-5.0zM381.5 431h23.0v1h-23.0zM609.5 431h27.0v1h-27.0zM404.5 432h5.0v1h-5.0zM486.5 433h119.0v1h-119.0zM381.5 434h23.0v1h-23.0zM609.5 434h27.0v1h-27.0zM609.5 435h27.0v1h-27.0zM640.5 435h21.5v1h-21.5zM381.5 437h23.0v1h-23.0zM486.5 438h119.0v1h-119.0zM381.5 439h23.0v1h-23.0zM609.5 440h27.0v1h-27.0zM640.5 440h21.5v1h-21.5zM609.5 441h27.0v1h-27.0zM640.5 441h21.5v1h-21.5zM381.5 446h23.0v1h-23.0zM482.5 446h123.0v1h-123.0zM609.5 446h27.0v1h-27.0zM640.5 446h21.5v1h-21.5zM381.5 448h23.0v1h-23.0zM482.5 448h123.0v1h-123.0zM609.5 448h27.0v1h-27.0zM640.5 448h21.5v1h-21.5z" fill="#3a12b6"/><path d="M381.5 298h23.0v1h-23.0zM381.5 299h23.0v1h-23.0zM409.5 305h73.0v1h-73.0zM486.5 305h123.0v1h-123.0zM409.5 309h73.0v1h-73.0zM486.5 309h123.0v1h-123.0zM381.5 310h23.0v1h-23.0zM381.5 320h23.0v1h-23.0zM482.5 320h4.0v1h-4.0zM605.5 320h31.0v1h-31.0zM404.5 322h5.0v1h-5.0zM381.5 323h23.0v1h-23.0zM482.5 323h4.0v1h-4.0zM605.5 323h31.0v1h-31.0zM482.5 325h4.0v1h-4.0zM640.5 326h21.5v1h-21.5zM636.5 327h4.0v1h-4.0zM381.5 328h23.0v1h-23.0zM486.5 328h150.0v1h-150.0zM381.5 335h23.0v1h-23.0zM482.5 335h4.0v1h-4.0zM605.5 335h31.0v1h-31.0zM381.5 337h23.0v1h-23.0zM482.5 337h4.0v1h-4.0zM605.5 337h31.0v1h-31.0zM404.5 338h5.0v1h-5.0zM404.5 340h5.0v1h-5.0zM404.5 350h5.0v1h-5.0zM609.5 351h27.0v1h-27.0zM381.5 352h23.0v1h-23.0zM486.5 352h119.0v1h-119.0zM640.5 352h21.5v1h-21.5zM609.5 353h27.0v1h-27.0zM482.5 355h4.0v1h-4.0zM605.5 355h31.0v1h-31.0zM640.5 356h21.5v1h-21.5zM482.5 357h4.0v1h-4.0zM605.5 357h31.0v1h-31.0zM609.5 362h27.0v1h-27.0zM609.5 363h27.0v1h-27.0zM482.5 365h127.0v1h-127.0zM636.5 365h25.5v1h-25.5zM482.5 371h4.0v1h-4.0zM609.5 371h31.0v1h-31.0zM404.5 373h5.0v1h-5.0zM404.5 374h5.0v1h-5.0zM609.5 375h27.0v1h-27.0zM609.5 376h27.0v1h-27.0zM381.5 379h23.0v1h-23.0zM482.5 379h4.0v1h-4.0zM605.5 379h56.5v1h-56.5zM381.5 381h23.0v1h-23.0zM482.5 381h4.0v1h-4.0zM605.5 381h56.5v1h-56.5zM381.5 382h23.0v1h-23.0zM482.5 382h4.0v1h-4.0zM605.5 382h56.5v1h-56.5zM404.5 383h5.0v1h-5.0zM404.5 384h5.0v1h-5.0zM636.5 387h4.0v1h-4.0zM609.5 389h27.0v1h-27.0zM640.5 389h21.5v1h-21.5zM609.5 390h27.0v1h-27.0zM640.5 390h21.5v1h-21.5zM404.5 391h5.0v1h-5.0zM605.5 391h4.0v1h-4.0zM636.5 391h4.0v1h-4.0zM486.5 393h119.0v1h-119.0zM486.5 394h119.0v1h-119.0zM486.5 395h119.0v1h-119.0zM609.5 396h27.0v1h-27.0zM640.5 396h21.5v1h-21.5zM605.5 397h4.0v1h-4.0zM636.5 397h4.0v1h-4.0zM486.5 399h119.0v1h-119.0zM404.5 400h5.0v1h-5.0zM381.5 401h23.0v1h-23.0zM609.5 401h27.0v1h-27.0zM640.5 401h21.5v1h-21.5zM381.5 404h23.0v1h-23.0zM609.5 404h27.0v1h-27.0zM640.5 404h21.5v1h-21.5zM381.5 405h23.0v1h-23.0zM609.5 405h27.0v1h-27.0zM640.5 405h21.5v1h-21.5zM381.5 407h23.0v1h-23.0zM609.5 407h27.0v1h-27.0zM640.5 407h21.5v1h-21.5zM381.5 409h23.0v1h-23.0zM609.5 409h27.0v1h-27.0zM640.5 409h21.5v1h-21.5zM404.5 412h5.0v1h-5.0zM404.5 413h5.0v1h-5.0zM404.5 415h5.0v1h-5.0zM486.5 418h119.0v1h-119.0zM381.5 419h23.0v1h-23.0zM609.5 419h27.0v1h-27.0zM486.5 420h119.0v1h-119.0zM486.5 422h119.0v1h-119.0zM486.5 423h119.0v1h-119.0zM486.5 424h119.0v1h-119.0zM636.5 424h4.0v1h-4.0zM486.5 425h119.0v1h-119.0zM636.5 425h4.0v1h-4.0zM486.5 427h119.0v1h-119.0zM381.5 429h23.0v1h-23.0zM609.5 429h27.0v1h-27.0zM381.5 430h23.0v1h-23.0zM609.5 430h27.0v1h-27.0zM486.5 431h119.0v1h-119.0zM381.5 432h23.0v1h-23.0zM609.5 432h27.0v1h-27.0zM640.5 433h21.5v1h-21.5zM486.5 434h119.0v1h-119.0zM640.5 434h21.5v1h-21.5zM486.5 435h119.0v1h-119.0zM609.5 437h27.0v1h-27.0zM640.5 437h21.5v1h-21.5zM609.5 439h27.0v1h-27.0zM640.5 439h21.5v1h-21.5zM486.5 440h119.0v1h-119.0zM486.5 441h119.0v1h-119.0zM605.5 443h4.0v1h-4.0zM636.5 443h4.0v1h-4.0zM409.5 446h73.0v1h-73.0zM381.5 447h28.0v1h-28.0zM609.5 447h27.0v1h-27.0zM640.5 447h21.5v1h-21.5zM409.5 448h73.0v1h-73.0z" fill="#4114bd"/><path d="M409.5 294h73.0v1h-73.0zM409.5 295h73.0v1h-73.0zM409.5 296h73.0v1h-73.0zM409.5 297h73.0v1h-73.0zM409.5 304h73.0v1h-73.0zM381.5 308h23.0v1h-23.0zM462.0 318h20.5v1h-20.5zM636.5 318h4.0v1h-4.0zM636.5 319h4.0v1h-4.0zM486.5 320h119.0v1h-119.0zM486.5 323h119.0v1h-119.0zM381.5 325h23.0v1h-23.0zM605.5 325h31.0v1h-31.0zM640.5 327h21.5v1h-21.5zM409.5 329h73.0v1h-73.0zM409.5 330h73.0v1h-73.0zM462.0 331h20.5v1h-20.5zM462.0 334h20.5v1h-20.5zM486.5 335h119.0v1h-119.0zM486.5 337h119.0v1h-119.0zM404.5 341h5.0v1h-5.0zM482.5 344h4.0v1h-4.0zM609.5 344h27.0v1h-27.0zM482.5 345h4.0v1h-4.0zM609.5 345h27.0v1h-27.0zM462.0 348h20.5v1h-20.5zM409.5 349h73.0v1h-73.0zM482.5 351h4.0v1h-4.0zM605.5 351h4.0v1h-4.0zM636.5 351h4.0v1h-4.0zM482.5 353h4.0v1h-4.0zM605.5 353h4.0v1h-4.0zM636.5 353h4.0v1h-4.0zM381.5 355h23.0v1h-23.0zM486.5 355h119.0v1h-119.0zM636.5 355h4.0v1h-4.0zM381.5 357h23.0v1h-23.0zM486.5 357h119.0v1h-119.0zM636.5 357h4.0v1h-4.0zM409.5 359h73.0v1h-73.0zM409.5 360h73.0v1h-73.0zM482.5 361h4.0v1h-4.0zM609.5 361h27.0v1h-27.0zM482.5 362h4.0v1h-4.0zM605.5 362h4.0v1h-4.0zM636.5 362h4.0v1h-4.0zM482.5 363h4.0v1h-4.0zM605.5 363h4.0v1h-4.0zM636.5 363h4.0v1h-4.0zM381.5 365h23.0v1h-23.0zM462.0 369h20.5v1h-20.5zM381.5 371h23.0v1h-23.0zM605.5 371h4.0v1h-4.0zM640.5 371h21.5v1h-21.5zM462.0 372h20.5v1h-20.5zM482.5 375h4.0v1h-4.0zM605.5 375h4.0v1h-4.0zM636.5 375h4.0v1h-4.0zM482.5 376h4.0v1h-4.0zM605.5 376h4.0v1h-4.0zM636.5 376h4.0v1h-4.0zM486.5 379h119.0v1h-119.0zM609.5 380h27.0v1h-27.0zM486.5 381h119.0v1h-119.0zM486.5 382h119.0v1h-119.0zM381.5 388h23.0v1h-23.0zM486.5 389h119.0v1h-119.0zM486.5 390h119.0v1h-119.0zM381.5 392h23.0v1h-23.0zM486.5 396h119.0v1h-119.0zM404.5 397h5.0v1h-5.0zM381.5 400h23.0v1h-23.0zM486.5 401h119.0v1h-119.0zM381.5 402h23.0v1h-23.0zM609.5 402h27.0v1h-27.0zM486.5 404h119.0v1h-119.0zM486.5 405h119.0v1h-119.0zM381.5 406h23.0v1h-23.0zM609.5 406h27.0v1h-27.0zM486.5 407h119.0v1h-119.0zM381.5 408h23.0v1h-23.0zM609.5 408h27.0v1h-27.0zM486.5 409h119.0v1h-119.0zM381.5 410h23.0v1h-23.0zM609.5 410h27.0v1h-27.0zM381.5 412h23.0v1h-23.0zM381.5 413h23.0v1h-23.0zM381.5 415h23.0v1h-23.0zM381.5 416h23.0v1h-23.0zM609.5 416h27.0v1h-27.0zM486.5 419h119.0v1h-119.0zM640.5 419h21.5v1h-21.5zM609.5 424h27.0v1h-27.0zM609.5 425h27.0v1h-27.0zM486.5 429h119.0v1h-119.0zM640.5 429h21.5v1h-21.5zM486.5 430h119.0v1h-119.0zM640.5 430h21.5v1h-21.5zM486.5 437h119.0v1h-119.0zM486.5 439h119.0v1h-119.0zM409.5 447h196.0v1h-196.0z" fill="#4916c4"/><path d="M609.5 294h27.0v1h-27.0zM609.5 295h27.0v1h-27.0zM609.5 296h27.0v1h-27.0zM609.5 297h27.0v1h-27.0zM381.5 306h23.0v1h-23.0zM381.5 307h23.0v1h-23.0zM462.0 311h20.5v1h-20.5zM462.0 312h20.5v1h-20.5zM482.5 317h4.0v1h-4.0zM438.0 318h24.0v1h-24.0zM640.5 318h21.5v1h-21.5zM462.0 319h20.5v1h-20.5zM640.5 319h21.5v1h-21.5zM462.0 320h20.5v1h-20.5zM636.5 320h4.0v1h-4.0zM482.5 321h4.0v1h-4.0zM636.5 323h4.0v1h-4.0zM381.5 324h23.0v1h-23.0zM482.5 324h4.0v1h-4.0zM486.5 325h119.0v1h-119.0zM636.5 328h4.0v1h-4.0zM438.0 331h24.0v1h-24.0zM438.0 334h24.0v1h-24.0zM636.5 335h4.0v1h-4.0zM636.5 337h4.0v1h-4.0zM409.5 342h73.0v1h-73.0zM409.5 343h73.0v1h-73.0zM381.5 344h23.0v1h-23.0zM486.5 344h123.0v1h-123.0zM381.5 345h23.0v1h-23.0zM486.5 345h123.0v1h-123.0zM381.5 346h23.0v1h-23.0zM462.0 347h20.5v1h-20.5zM482.5 350h4.0v1h-4.0zM609.5 350h27.0v1h-27.0zM381.5 351h23.0v1h-23.0zM486.5 351h119.0v1h-119.0zM640.5 351h21.5v1h-21.5zM462.0 352h20.5v1h-20.5zM381.5 353h23.0v1h-23.0zM486.5 353h119.0v1h-119.0zM640.5 353h21.5v1h-21.5zM462.0 354h20.5v1h-20.5zM640.5 355h21.5v1h-21.5zM640.5 357h21.5v1h-21.5zM482.5 358h4.0v1h-4.0zM605.5 358h31.0v1h-31.0zM486.5 361h123.0v1h-123.0zM636.5 361h25.5v1h-25.5zM381.5 362h23.0v1h-23.0zM486.5 362h119.0v1h-119.0zM640.5 362h21.5v1h-21.5zM381.5 363h23.0v1h-23.0zM486.5 363h119.0v1h-119.0zM640.5 363h21.5v1h-21.5zM462.0 366h20.5v1h-20.5zM482.5 367h4.0v1h-4.0zM609.5 367h31.0v1h-31.0zM482.5 368h4.0v1h-4.0zM609.5 368h31.0v1h-31.0zM486.5 371h119.0v1h-119.0zM609.5 373h31.0v1h-31.0zM609.5 374h31.0v1h-31.0zM381.5 375h23.0v1h-23.0zM486.5 375h119.0v1h-119.0zM640.5 375h21.5v1h-21.5zM381.5 376h23.0v1h-23.0zM486.5 376h119.0v1h-119.0zM640.5 376h21.5v1h-21.5zM609.5 378h27.0v1h-27.0zM381.5 380h23.0v1h-23.0zM482.5 380h4.0v1h-4.0zM605.5 380h4.0v1h-4.0zM636.5 380h25.5v1h-25.5zM609.5 385h27.0v1h-27.0zM381.5 386h23.0v1h-23.0zM482.5 386h4.0v1h-4.0zM609.5 386h52.5v1h-52.5zM381.5 387h23.0v1h-23.0zM482.5 387h4.0v1h-4.0zM609.5 387h27.0v1h-27.0zM640.5 387h21.5v1h-21.5zM609.5 388h27.0v1h-27.0zM640.5 388h21.5v1h-21.5zM381.5 391h23.0v1h-23.0zM609.5 392h27.0v1h-27.0zM640.5 392h21.5v1h-21.5zM381.5 397h23.0v1h-23.0zM409.5 398h73.0v1h-73.0zM609.5 400h27.0v1h-27.0zM640.5 400h21.5v1h-21.5zM486.5 402h119.0v1h-119.0zM640.5 402h21.5v1h-21.5zM486.5 406h119.0v1h-119.0zM640.5 406h21.5v1h-21.5zM486.5 408h119.0v1h-119.0zM640.5 408h21.5v1h-21.5zM486.5 410h119.0v1h-119.0zM640.5 410h21.5v1h-21.5zM609.5 412h27.0v1h-27.0zM640.5 412h21.5v1h-21.5zM609.5 413h27.0v1h-27.0zM640.5 413h21.5v1h-21.5zM609.5 415h27.0v1h-27.0zM640.5 415h21.5v1h-21.5zM486.5 416h119.0v1h-119.0zM640.5 416h21.5v1h-21.5zM605.5 417h4.0v1h-4.0zM636.5 417h4.0v1h-4.0zM640.5 431h21.5v1h-21.5zM486.5 432h119.0v1h-119.0zM381.5 443h28.0v1h-28.0zM609.5 443h27.0v1h-27.0zM640.5 443h21.5v1h-21.5z" fill="#5118cc"/><path d="M636.5 294h4.0v1h-4.0zM636.5 295h4.0v1h-4.0zM636.5 296h4.0v1h-4.0zM636.5 297h4.0v1h-4.0zM438.0 311h24.0v1h-24.0zM640.5 311h21.5v1h-21.5zM438.0 312h24.0v1h-24.0zM640.5 312h21.5v1h-21.5zM381.5 317h23.0v1h-23.0zM605.5 317h31.0v1h-31.0zM409.5 318h28.5v1h-28.5zM438.0 320h24.0v1h-24.0zM381.5 321h23.0v1h-23.0zM605.5 321h31.0v1h-31.0zM482.5 322h4.0v1h-4.0zM486.5 324h150.0v1h-150.0zM636.5 325h4.0v1h-4.0zM462.0 326h20.5v1h-20.5zM640.5 328h21.5v1h-21.5zM409.5 331h28.5v1h-28.5zM409.5 334h28.5v1h-28.5zM640.5 335h21.5v1h-21.5zM381.5 336h23.0v1h-23.0zM482.5 336h4.0v1h-4.0zM609.5 336h27.0v1h-27.0zM640.5 337h21.5v1h-21.5zM381.5 339h23.0v1h-23.0zM482.5 339h4.0v1h-4.0zM609.5 339h27.0v1h-27.0zM636.5 344h4.0v1h-4.0zM636.5 345h4.0v1h-4.0zM482.5 346h4.0v1h-4.0zM609.5 346h27.0v1h-27.0zM438.0 348h24.0v1h-24.0zM605.5 350h4.0v1h-4.0zM636.5 350h4.0v1h-4.0zM438.0 352h24.0v1h-24.0zM438.0 354h24.0v1h-24.0zM381.5 358h23.0v1h-23.0zM486.5 358h119.0v1h-119.0zM636.5 358h4.0v1h-4.0zM381.5 361h23.0v1h-23.0zM381.5 367h23.0v1h-23.0zM605.5 367h4.0v1h-4.0zM640.5 367h21.5v1h-21.5zM381.5 368h23.0v1h-23.0zM605.5 368h4.0v1h-4.0zM640.5 368h21.5v1h-21.5zM409.5 369h52.5v1h-52.5zM462.0 370h20.5v1h-20.5zM409.5 372h52.5v1h-52.5zM381.5 373h23.0v1h-23.0zM482.5 373h4.0v1h-4.0zM605.5 373h4.0v1h-4.0zM640.5 373h21.5v1h-21.5zM381.5 374h23.0v1h-23.0zM482.5 374h4.0v1h-4.0zM605.5 374h4.0v1h-4.0zM640.5 374h21.5v1h-21.5zM381.5 377h23.0v1h-23.0zM609.5 377h52.5v1h-52.5zM381.5 378h23.0v1h-23.0zM482.5 378h4.0v1h-4.0zM605.5 378h4.0v1h-4.0zM636.5 378h25.5v1h-25.5zM486.5 380h119.0v1h-119.0zM609.5 383h27.0v1h-27.0zM609.5 384h27.0v1h-27.0zM381.5 385h23.0v1h-23.0zM482.5 385h4.0v1h-4.0zM605.5 385h4.0v1h-4.0zM636.5 385h25.5v1h-25.5zM605.5 386h4.0v1h-4.0zM486.5 388h119.0v1h-119.0zM609.5 391h27.0v1h-27.0zM640.5 391h21.5v1h-21.5zM486.5 392h119.0v1h-119.0zM486.5 400h119.0v1h-119.0zM486.5 412h119.0v1h-119.0zM486.5 413h119.0v1h-119.0zM486.5 415h119.0v1h-119.0zM404.5 417h82.0v1h-82.0zM640.5 432h21.5v1h-21.5zM482.5 434h4.0v1h-4.0zM482.5 443h123.0v1h-123.0zM605.5 449h4.0v1h-4.0zM636.5 449h4.0v1h-4.0zM605.5 450h4.0v1h-4.0zM636.5 450h4.0v1h-4.0zM605.5 451h4.0v1h-4.0zM636.5 451h4.0v1h-4.0zM605.5 452h4.0v1h-4.0zM636.5 452h4.0v1h-4.0z" fill="#581bd3"/><path d="M605.5 294h4.0v1h-4.0zM640.5 294h21.5v1h-21.5zM605.5 295h4.0v1h-4.0zM640.5 295h21.5v1h-21.5zM605.5 296h4.0v1h-4.0zM640.5 296h21.5v1h-21.5zM605.5 297h4.0v1h-4.0zM640.5 297h21.5v1h-21.5zM381.5 300h23.0v1h-23.0zM381.5 303h23.0v1h-23.0zM640.5 304h21.5v1h-21.5zM381.5 305h23.0v1h-23.0zM409.5 311h28.5v1h-28.5zM409.5 312h28.5v1h-28.5zM486.5 317h119.0v1h-119.0zM438.0 319h24.0v1h-24.0zM409.5 320h28.5v1h-28.5zM640.5 320h21.5v1h-21.5zM486.5 321h119.0v1h-119.0zM381.5 322h23.0v1h-23.0zM605.5 322h31.0v1h-31.0zM640.5 323h21.5v1h-21.5zM438.0 326h24.0v1h-24.0zM486.5 336h123.0v1h-123.0zM381.5 338h23.0v1h-23.0zM482.5 338h4.0v1h-4.0zM486.5 339h123.0v1h-123.0zM381.5 340h23.0v1h-23.0zM482.5 340h4.0v1h-4.0zM640.5 344h21.5v1h-21.5zM640.5 345h21.5v1h-21.5zM605.5 346h4.0v1h-4.0zM636.5 346h4.0v1h-4.0zM438.0 347h24.0v1h-24.0zM409.5 348h28.5v1h-28.5zM381.5 350h23.0v1h-23.0zM486.5 350h119.0v1h-119.0zM640.5 350h21.5v1h-21.5zM462.0 351h20.5v1h-20.5zM409.5 352h28.5v1h-28.5zM409.5 354h28.5v1h-28.5zM640.5 358h21.5v1h-21.5zM409.5 366h52.5v1h-52.5zM486.5 367h119.0v1h-119.0zM486.5 368h119.0v1h-119.0zM438.0 370h24.0v1h-24.0zM486.5 373h119.0v1h-119.0zM486.5 374h119.0v1h-119.0zM482.5 377h4.0v1h-4.0zM605.5 377h4.0v1h-4.0zM486.5 378h119.0v1h-119.0zM462.0 382h20.5v1h-20.5zM381.5 383h23.0v1h-23.0zM482.5 383h4.0v1h-4.0zM605.5 383h4.0v1h-4.0zM636.5 383h25.5v1h-25.5zM381.5 384h23.0v1h-23.0zM482.5 384h4.0v1h-4.0zM605.5 384h4.0v1h-4.0zM636.5 384h25.5v1h-25.5zM486.5 385h119.0v1h-119.0zM462.0 386h20.5v1h-20.5zM486.5 386h119.0v1h-119.0zM486.5 387h119.0v1h-119.0zM486.5 391h119.0v1h-119.0zM609.5 397h27.0v1h-27.0zM640.5 397h21.5v1h-21.5zM381.5 449h28.0v1h-28.0zM381.5 450h28.0v1h-28.0zM381.5 451h28.0v1h-28.0zM381.5 452h28.0v1h-28.0z" fill="#601dda"/><path d="M381.5 309h23.0v1h-23.0zM409.5 319h28.5v1h-28.5zM486.5 322h119.0v1h-119.0zM640.5 325h21.5v1h-21.5zM409.5 326h28.5v1h-28.5zM462.0 327h20.5v1h-20.5zM462.0 335h20.5v1h-20.5zM462.0 337h20.5v1h-20.5zM605.5 338h31.0v1h-31.0zM462.0 339h20.5v1h-20.5zM605.5 340h31.0v1h-31.0zM381.5 341h23.0v1h-23.0zM486.5 346h119.0v1h-119.0zM640.5 346h21.5v1h-21.5zM409.5 347h28.5v1h-28.5zM438.0 351h24.0v1h-24.0zM462.0 356h20.5v1h-20.5zM462.0 357h20.5v1h-20.5zM462.0 361h20.5v1h-20.5zM462.0 364h20.5v1h-20.5zM409.5 370h28.5v1h-28.5zM486.5 377h119.0v1h-119.0zM462.0 381h20.5v1h-20.5zM438.0 382h24.0v1h-24.0zM486.5 383h119.0v1h-119.0zM486.5 384h119.0v1h-119.0zM438.0 386h24.0v1h-24.0zM486.5 397h119.0v1h-119.0zM381.5 417h23.0v1h-23.0zM609.5 417h27.0v1h-27.0zM640.5 417h21.5v1h-21.5zM605.5 444h4.0v1h-4.0zM636.5 444h4.0v1h-4.0zM605.5 445h4.0v1h-4.0zM636.5 445h4.0v1h-4.0zM482.5 449h4.0v1h-4.0zM482.5 450h4.0v1h-4.0zM482.5 451h4.0v1h-4.0zM482.5 452h4.0v1h-4.0z" fill="#6820df"/><path d="M486.5 294h119.0v1h-119.0zM486.5 295h119.0v1h-119.0zM486.5 296h119.0v1h-119.0zM486.5 297h119.0v1h-119.0zM462.0 323h20.5v1h-20.5zM438.0 327h24.0v1h-24.0zM462.0 328h20.5v1h-20.5zM438.0 335h24.0v1h-24.0zM462.0 338h20.5v1h-20.5zM486.5 338h119.0v1h-119.0zM486.5 340h119.0v1h-119.0zM482.5 341h4.0v1h-4.0zM609.5 341h27.0v1h-27.0zM409.5 351h28.5v1h-28.5zM438.0 356h24.0v1h-24.0zM462.0 362h20.5v1h-20.5zM462.0 363h20.5v1h-20.5zM462.0 379h20.5v1h-20.5zM409.5 382h28.5v1h-28.5zM409.5 386h28.5v1h-28.5zM409.5 387h73.0v1h-73.0zM486.5 417h119.0v1h-119.0zM409.5 443h73.0v1h-73.0zM486.5 449h119.0v1h-119.0zM609.5 449h27.0v1h-27.0zM486.5 450h119.0v1h-119.0zM609.5 450h27.0v1h-27.0zM486.5 451h119.0v1h-119.0zM609.5 451h27.0v1h-27.0zM486.5 452h119.0v1h-119.0zM609.5 452h27.0v1h-27.0z" fill="#7024e2"/><path d="M636.5 304h4.0v1h-4.0zM636.5 317h4.0v1h-4.0zM462.0 321h20.5v1h-20.5zM636.5 321h4.0v1h-4.0zM409.5 327h28.5v1h-28.5zM409.5 335h28.5v1h-28.5zM636.5 336h4.0v1h-4.0zM438.0 337h24.0v1h-24.0zM438.0 339h24.0v1h-24.0zM636.5 339h4.0v1h-4.0zM462.0 344h20.5v1h-20.5zM462.0 345h20.5v1h-20.5zM462.0 353h20.5v1h-20.5zM462.0 355h20.5v1h-20.5zM438.0 357h24.0v1h-24.0zM438.0 361h24.0v1h-24.0zM438.0 364h24.0v1h-24.0zM462.0 365h20.5v1h-20.5zM462.0 367h20.5v1h-20.5zM462.0 371h20.5v1h-20.5zM438.0 381h24.0v1h-24.0zM636.5 398h4.0v1h-4.0z" fill="#7828e5"/><path d="M462.0 317h20.5v1h-20.5zM462.0 322h20.5v1h-20.5zM636.5 322h4.0v1h-4.0zM438.0 323h24.0v1h-24.0zM636.5 324h4.0v1h-4.0zM462.0 325h20.5v1h-20.5zM438.0 328h24.0v1h-24.0zM462.0 336h20.5v1h-20.5zM409.5 337h28.5v1h-28.5zM438.0 338h24.0v1h-24.0zM409.5 339h28.5v1h-28.5zM462.0 340h20.5v1h-20.5zM462.0 341h20.5v1h-20.5zM605.5 341h4.0v1h-4.0zM462.0 350h20.5v1h-20.5zM409.5 356h28.5v1h-28.5zM409.5 357h28.5v1h-28.5zM462.0 358h20.5v1h-20.5zM409.5 361h28.5v1h-28.5zM438.0 362h24.0v1h-24.0zM438.0 363h24.0v1h-24.0zM409.5 364h28.5v1h-28.5zM438.0 365h24.0v1h-24.0zM462.0 368h20.5v1h-20.5zM438.0 371h24.0v1h-24.0zM462.0 373h20.5v1h-20.5zM462.0 374h20.5v1h-20.5zM462.0 378h20.5v1h-20.5zM438.0 379h24.0v1h-24.0zM462.0 380h20.5v1h-20.5zM409.5 381h28.5v1h-28.5zM462.0 383h20.5v1h-20.5zM462.0 384h20.5v1h-20.5zM462.0 385h20.5v1h-20.5zM605.5 398h4.0v1h-4.0zM409.5 449h73.0v1h-73.0zM409.5 450h73.0v1h-73.0zM409.5 451h73.0v1h-73.0zM409.5 452h73.0v1h-73.0z" fill="#802be8"/><path d="M486.5 311h119.0v1h-119.0zM486.5 312h119.0v1h-119.0zM438.0 321h24.0v1h-24.0zM409.5 323h28.5v1h-28.5zM409.5 328h28.5v1h-28.5zM409.5 338h28.5v1h-28.5zM636.5 338h4.0v1h-4.0zM636.5 340h4.0v1h-4.0zM438.0 344h24.0v1h-24.0zM438.0 345h24.0v1h-24.0zM438.0 353h24.0v1h-24.0zM438.0 355h24.0v1h-24.0zM409.5 362h28.5v1h-28.5zM409.5 363h28.5v1h-28.5zM438.0 367h24.0v1h-24.0zM462.0 375h20.5v1h-20.5zM462.0 376h20.5v1h-20.5zM409.5 379h28.5v1h-28.5zM609.5 444h27.0v1h-27.0zM640.5 444h21.5v1h-21.5zM609.5 445h27.0v1h-27.0zM640.5 445h21.5v1h-21.5z" fill="#882feb"/><path d="M404.5 304h5.0v1h-5.0zM609.5 304h27.0v1h-27.0zM636.5 311h4.0v1h-4.0zM636.5 312h4.0v1h-4.0zM438.0 317h24.0v1h-24.0zM438.0 322h24.0v1h-24.0zM438.0 325h24.0v1h-24.0zM438.0 336h24.0v1h-24.0zM640.5 336h21.5v1h-21.5zM640.5 339h21.5v1h-21.5zM438.0 340h24.0v1h-24.0zM438.0 341h24.0v1h-24.0zM486.5 341h119.0v1h-119.0zM636.5 341h4.0v1h-4.0zM409.5 344h28.5v1h-28.5zM409.5 345h28.5v1h-28.5zM438.0 350h24.0v1h-24.0zM409.5 355h28.5v1h-28.5zM438.0 358h24.0v1h-24.0zM409.5 365h28.5v1h-28.5zM438.0 368h24.0v1h-24.0zM409.5 371h28.5v1h-28.5zM438.0 373h24.0v1h-24.0zM438.0 374h24.0v1h-24.0zM438.0 378h24.0v1h-24.0zM438.0 380h24.0v1h-24.0zM438.0 383h24.0v1h-24.0zM438.0 384h24.0v1h-24.0zM438.0 385h24.0v1h-24.0zM381.5 444h28.0v1h-28.0zM482.5 444h123.0v1h-123.0zM381.5 445h28.0v1h-28.0zM482.5 445h123.0v1h-123.0z" fill="#9033ee"/><path d="M486.5 304h123.0v1h-123.0zM640.5 317h21.5v1h-21.5zM409.5 321h28.5v1h-28.5zM640.5 321h21.5v1h-21.5zM409.5 325h28.5v1h-28.5zM409.5 353h28.5v1h-28.5zM409.5 367h28.5v1h-28.5zM438.0 375h24.0v1h-24.0zM438.0 376h24.0v1h-24.0z" fill="#9837f0"/><path d="M409.5 317h28.5v1h-28.5zM409.5 322h28.5v1h-28.5zM462.0 324h20.5v1h-20.5zM409.5 336h28.5v1h-28.5zM409.5 340h28.5v1h-28.5zM409.5 341h28.5v1h-28.5zM462.0 346h20.5v1h-20.5zM409.5 350h28.5v1h-28.5zM409.5 358h28.5v1h-28.5zM409.5 368h28.5v1h-28.5zM409.5 373h28.5v1h-28.5zM409.5 374h28.5v1h-28.5zM409.5 375h28.5v1h-28.5zM409.5 376h28.5v1h-28.5zM462.0 377h20.5v1h-20.5zM409.5 378h28.5v1h-28.5zM409.5 380h28.5v1h-28.5zM409.5 383h28.5v1h-28.5zM409.5 384h28.5v1h-28.5zM409.5 385h28.5v1h-28.5zM640.5 398h21.5v1h-21.5zM404.5 434h5.0v1h-5.0zM409.5 444h73.0v1h-73.0zM409.5 445h73.0v1h-73.0z" fill="#9f3dee"/><path d="M482.5 304h4.0v1h-4.0zM605.5 311h4.0v1h-4.0zM605.5 312h4.0v1h-4.0zM640.5 322h21.5v1h-21.5zM640.5 324h21.5v1h-21.5zM640.5 338h21.5v1h-21.5zM640.5 340h21.5v1h-21.5zM404.5 398h5.0v1h-5.0zM640.5 424h21.5v1h-21.5zM640.5 425h21.5v1h-21.5zM640.5 449h21.5v1h-21.5zM640.5 450h21.5v1h-21.5zM640.5 451h21.5v1h-21.5zM640.5 452h21.5v1h-21.5z" fill="#a743ed"/><path d="M438.0 324h24.0v1h-24.0zM640.5 341h21.5v1h-21.5zM438.0 346h24.0v1h-24.0zM438.0 377h24.0v1h-24.0zM482.5 398h123.0v1h-123.0z" fill="#ae49ec"/><path d="M609.5 311h27.0v1h-27.0zM609.5 312h27.0v1h-27.0zM409.5 324h28.5v1h-28.5zM409.5 346h28.5v1h-28.5zM409.5 377h28.5v1h-28.5z" fill="#bd54e9"/><path d="M381.5 304h23.0v1h-23.0zM609.5 398h27.0v1h-27.0z" fill="#c45ae8"/><path d="M482.5 294h4.0v1h-4.0zM482.5 295h4.0v1h-4.0zM482.5 296h4.0v1h-4.0zM482.5 297h4.0v1h-4.0zM381.5 398h23.0v1h-23.0z" fill="#c95fe2"/><path d="M404.5 294h5.0v1h-5.0zM404.5 295h5.0v1h-5.0zM404.5 296h5.0v1h-5.0zM404.5 297h5.0v1h-5.0zM404.5 311h5.0v1h-5.0zM482.5 311h4.0v1h-4.0zM404.5 312h5.0v1h-5.0zM482.5 312h4.0v1h-4.0z" fill="#da6dd0"/><path d="M381.5 294h23.0v1h-23.0zM381.5 295h23.0v1h-23.0zM381.5 296h23.0v1h-23.0zM381.5 297h23.0v1h-23.0z" fill="#e77abb"/><path d="M381.5 311h23.0v1h-23.0zM381.5 312h23.0v1h-23.0z" fill="#e97cb1"/></g></g>
<rect x="384.50" y="450.80" width="24.10" height="7.50" fill="#9b0b45" stroke="#3a3a3a" stroke-width="0.35" rx="0" />
<rect x="408.60" y="450.80" width="74.00" height="7.50" fill="#e22079" stroke="#3a3a3a" stroke-width="0.35" rx="0" />
<rect x="482.60" y="450.80" width="123.00" height="7.50" fill="#de63b1" stroke="#3a3a3a" stroke-width="0.35" rx="0" />
<rect x="605.60" y="450.80" width="30.80" height="7.50" fill="#d8b3da" stroke="#3a3a3a" stroke-width="0.35" rx="0" />
<rect x="636.40" y="450.80" width="22.40" height="7.50" fill="#fdc6bf" stroke="#3a3a3a" stroke-width="0.35" rx="0" />
<rect x="384.50" y="450.80" width="274.30" height="7.50" fill="none" stroke="#777" stroke-width="0.6" rx="0" />
<text x="383.10" y="457.00" font-size="7.0" text-anchor="end" font-weight="normal" fill="#000" font-family="Liberation Sans" font-style="normal" >Group</text>
<text x="667.30" y="300.40" font-size="3.65" text-anchor="start" font-weight="bold" fill="#ead24a" font-family="Liberation Sans" font-style="normal" >ITGB6</text>
<text x="667.30" y="304.80" font-size="3.65" text-anchor="start" font-weight="bold" fill="#e93a55" font-family="Liberation Sans" font-style="normal" >NFIA</text>
<text x="667.30" y="308.90" font-size="3.65" text-anchor="start" font-weight="bold" fill="#e93a55" font-family="Liberation Sans" font-style="normal" >ESR1</text>
<text x="667.30" y="312.90" font-size="3.65" text-anchor="start" font-weight="bold" fill="#e93a55" font-family="Liberation Sans" font-style="normal" >PGR</text>
<text x="667.30" y="317.30" font-size="3.65" text-anchor="start" font-weight="bold" fill="#e93a55" font-family="Liberation Sans" font-style="normal" >CREB3L1</text>
<text x="667.30" y="321.60" font-size="3.65" text-anchor="start" font-weight="bold" fill="#e93a55" font-family="Liberation Sans" font-style="normal" >MSX1</text>
<text x="667.30" y="331.80" font-size="3.65" text-anchor="start" font-weight="bold" fill="#e93a55" font-family="Liberation Sans" font-style="normal" >SOX17</text>
<text x="667.30" y="344.00" font-size="3.65" text-anchor="start" font-weight="bold" fill="#ead24a" font-family="Liberation Sans" font-style="normal" >KIT</text>
<text x="667.30" y="371.50" font-size="3.65" text-anchor="start" font-weight="bold" fill="#e93a55" font-family="Liberation Sans" font-style="normal" >NFIB</text>
<text x="667.30" y="375.71" font-size="3.65" text-anchor="start" font-weight="bold" fill="#ead24a" font-family="Liberation Sans" font-style="normal" >ANXA1</text>
<text x="667.30" y="379.92" font-size="3.65" text-anchor="start" font-weight="bold" fill="#ead24a" font-family="Liberation Sans" font-style="normal" >RXFP1</text>
<text x="667.30" y="384.13" font-size="3.65" text-anchor="start" font-weight="bold" fill="#e93a55" font-family="Liberation Sans" font-style="normal" >KLF6</text>
<text x="667.30" y="388.34" font-size="3.65" text-anchor="start" font-weight="bold" fill="#ead24a" font-family="Liberation Sans" font-style="normal" >CD44</text>
<text x="667.30" y="392.56" font-size="3.65" text-anchor="start" font-weight="bold" fill="#e93a55" font-family="Liberation Sans" font-style="normal" >FOXP1</text>
<text x="667.30" y="396.77" font-size="3.65" text-anchor="start" font-weight="bold" fill="#e93a55" font-family="Liberation Sans" font-style="normal" >SMAD3</text>
<text x="667.30" y="400.98" font-size="3.65" text-anchor="start" font-weight="bold" fill="#e93a55" font-family="Liberation Sans" font-style="normal" >FOSL2</text>
<text x="667.30" y="405.19" font-size="3.65" text-anchor="start" font-weight="bold" fill="#e93a55" font-family="Liberation Sans" font-style="normal" >PAX8</text>
<text x="667.30" y="409.40" font-size="3.65" text-anchor="start" font-weight="bold" fill="#ead24a" font-family="Liberation Sans" font-style="normal" >CD55</text>
<text x="667.30" y="413.61" font-size="3.65" text-anchor="start" font-weight="bold" fill="#ead24a" font-family="Liberation Sans" font-style="normal" >RET</text>
<text x="667.30" y="417.82" font-size="3.65" text-anchor="start" font-weight="bold" fill="#ead24a" font-family="Liberation Sans" font-style="normal" >LAMB3</text>
<text x="667.30" y="422.03" font-size="3.65" text-anchor="start" font-weight="bold" fill="#ead24a" font-family="Liberation Sans" font-style="normal" >LAMC1</text>
<text x="667.30" y="426.24" font-size="3.65" text-anchor="start" font-weight="bold" fill="#e93a55" font-family="Liberation Sans" font-style="normal" >MITF</text>
<text x="667.30" y="430.46" font-size="3.65" text-anchor="start" font-weight="bold" fill="#ead24a" font-family="Liberation Sans" font-style="normal" >CDH1</text>
<text x="667.30" y="434.67" font-size="3.65" text-anchor="start" font-weight="bold" fill="#ead24a" font-family="Liberation Sans" font-style="normal" >IL6ST</text>
<text x="667.30" y="438.88" font-size="3.65" text-anchor="start" font-weight="bold" fill="#ead24a" font-family="Liberation Sans" font-style="normal" >HLA-A</text>
<text x="667.30" y="443.09" font-size="3.65" text-anchor="start" font-weight="bold" fill="#ead24a" font-family="Liberation Sans" font-style="normal" >HLA-B</text>
<text x="667.30" y="447.30" font-size="3.65" text-anchor="start" font-weight="bold" fill="#ead24a" font-family="Liberation Sans" font-style="normal" >LIFR</text>
<path d="M659.7 299.60L661.7 299.60L663.6 299.10L665.9 299.10M659.7 307.30L661.7 307.30L663.6 303.50L665.9 303.50M659.7 307.70L661.7 307.70L663.6 307.60L665.9 307.60M659.7 309.40L661.7 309.40L663.6 311.60L665.9 311.60M659.7 314.40L661.7 314.40L663.6 316.00L665.9 316.00M659.7 316.80L661.7 316.80L663.6 320.30L665.9 320.30M659.7 330.50L661.7 330.50L663.6 330.50L665.9 330.50M659.7 342.70L661.7 342.70L663.6 342.70L665.9 342.70M659.7 386.00L661.9 386.00L663.5 370.20L665.9 370.20M659.7 388.33L661.9 388.33L663.5 374.41L665.9 374.41M659.7 390.67L661.9 390.67L663.5 378.62L665.9 378.62M659.7 393.00L661.9 393.00L663.5 382.83L665.9 382.83M659.7 395.33L661.9 395.33L663.5 387.04L665.9 387.04M659.7 397.67L661.9 397.67L663.5 391.26L665.9 391.26M659.7 400.00L661.9 400.00L663.5 395.47L665.9 395.47M659.7 402.33L661.9 402.33L663.5 399.68L665.9 399.68M659.7 404.67L661.9 404.67L663.5 403.89L665.9 403.89M659.7 407.00L661.9 407.00L663.5 408.10L665.9 408.10M659.7 412.31L661.9 412.31L663.5 412.31L665.9 412.31M659.7 416.52L661.9 416.52L663.5 416.52L665.9 416.52M659.7 420.00L661.9 420.00L663.5 420.73L665.9 420.73M659.7 422.00L661.9 422.00L663.5 424.94L665.9 424.94M659.7 424.00L661.9 424.00L663.5 429.16L665.9 429.16M659.7 426.00L661.9 426.00L663.5 433.37L665.9 433.37M659.7 428.00L661.9 428.00L663.5 437.58L665.9 437.58M659.7 430.00L661.9 430.00L663.5 441.79L665.9 441.79M659.7 432.00L661.9 432.00L663.5 446.00L665.9 446.00" fill="none" stroke="#0a0a0a" stroke-width="0.7" stroke-linejoin="round"/>
<g transform="translate(0.0 0)">
<text x="524.60" y="485.30" font-size="6.5" text-anchor="middle" font-weight="bold" fill="#000" font-family="Liberation Sans" font-style="normal" >Normalized Expression of Top 300 genes</text>
<rect x="422.80" y="488.50" width="203.80" height="5.80" fill="url(#hgrad)" stroke="none" stroke-width="0" rx="0" />
<line x1="424.30" y1="488.50" x2="424.30" y2="489.90" stroke="#fff" stroke-width="0.45" />
<line x1="424.30" y1="492.90" x2="424.30" y2="494.30" stroke="#fff" stroke-width="0.45" />
<text x="424.30" y="499.90" font-size="5.4" text-anchor="middle" font-weight="normal" fill="#000" font-family="Liberation Sans" font-style="normal" >0</text>
<line x1="474.45" y1="488.50" x2="474.45" y2="489.90" stroke="#fff" stroke-width="0.45" />
<line x1="474.45" y1="492.90" x2="474.45" y2="494.30" stroke="#fff" stroke-width="0.45" />
<text x="474.45" y="499.90" font-size="5.4" text-anchor="middle" font-weight="normal" fill="#000" font-family="Liberation Sans" font-style="normal" >2</text>
<line x1="524.60" y1="488.50" x2="524.60" y2="489.90" stroke="#fff" stroke-width="0.45" />
<line x1="524.60" y1="492.90" x2="524.60" y2="494.30" stroke="#fff" stroke-width="0.45" />
<text x="524.60" y="499.90" font-size="5.4" text-anchor="middle" font-weight="normal" fill="#000" font-family="Liberation Sans" font-style="normal" >4</text>
<line x1="574.75" y1="488.50" x2="574.75" y2="489.90" stroke="#fff" stroke-width="0.45" />
<line x1="574.75" y1="492.90" x2="574.75" y2="494.30" stroke="#fff" stroke-width="0.45" />
<text x="574.75" y="499.90" font-size="5.4" text-anchor="middle" font-weight="normal" fill="#000" font-family="Liberation Sans" font-style="normal" >6</text>
<line x1="624.90" y1="488.50" x2="624.90" y2="489.90" stroke="#fff" stroke-width="0.45" />
<line x1="624.90" y1="492.90" x2="624.90" y2="494.30" stroke="#fff" stroke-width="0.45" />
<text x="624.90" y="499.90" font-size="5.4" text-anchor="middle" font-weight="normal" fill="#000" font-family="Liberation Sans" font-style="normal" >8</text>
<text x="524.70" y="508.40" font-size="5.4" text-anchor="middle" font-weight="bold" fill="#000" font-family="Liberation Sans" font-style="normal" >Group based on date</text>
<rect x="473.80" y="512.40" width="5.10" height="5.10" fill="#9b0b45" stroke="none" stroke-width="0" rx="0" />
<text x="480.50" y="517.00" font-size="5.4" text-anchor="start" font-weight="normal" fill="#111" font-family="Liberation Sans" font-style="normal" >LH3</text>
<rect x="494.60" y="512.40" width="5.10" height="5.10" fill="#e22079" stroke="none" stroke-width="0" rx="0" />
<text x="501.30" y="517.00" font-size="5.4" text-anchor="start" font-weight="normal" fill="#111" font-family="Liberation Sans" font-style="normal" >LH5</text>
<rect x="515.40" y="512.40" width="5.10" height="5.10" fill="#de63b1" stroke="none" stroke-width="0" rx="0" />
<text x="522.10" y="517.00" font-size="5.4" text-anchor="start" font-weight="normal" fill="#111" font-family="Liberation Sans" font-style="normal" >LH7</text>
<rect x="536.10" y="512.40" width="5.10" height="5.10" fill="#d8b3da" stroke="none" stroke-width="0" rx="0" />
<text x="542.80" y="517.00" font-size="5.4" text-anchor="start" font-weight="normal" fill="#111" font-family="Liberation Sans" font-style="normal" >LH9</text>
<rect x="556.80" y="512.40" width="5.10" height="5.10" fill="#fdc6bf" stroke="none" stroke-width="0" rx="0" />
<text x="563.50" y="517.00" font-size="5.4" text-anchor="start" font-weight="normal" fill="#111" font-family="Liberation Sans" font-style="normal" >LH11</text>
<rect x="428.60" y="526.00" width="30.20" height="6.00" fill="#fff" stroke="#f58b8b" stroke-width="0.45" rx="0" />
<text x="443.70" y="531.40" font-size="6.6" text-anchor="middle" font-weight="normal" fill="#ee5560" font-family="Liberation Sans" font-style="normal" >Gene</text>
<text x="460.60" y="530.60" font-size="5.5" text-anchor="start" font-weight="normal" fill="#111" font-family="Liberation Sans" font-style="normal" >Transcription factor</text>
<rect x="536.40" y="526.00" width="30.20" height="6.00" fill="#fff" stroke="#f0dd7c" stroke-width="0.45" rx="0" />
<text x="551.50" y="531.40" font-size="6.6" text-anchor="middle" font-weight="normal" fill="#ecd768" font-family="Liberation Sans" font-style="normal" >Gene</text>
<text x="568.60" y="530.60" font-size="5.5" text-anchor="start" font-weight="normal" fill="#111" font-family="Liberation Sans" font-style="normal" >Ligand−receptor gene</text>
</g>
<text x="523.20" y="554.10" font-size="6.95" text-anchor="middle" font-weight="normal" fill="#000" font-family="Liberation Sans" font-style="normal" >str (36346 cells)</text>
<clipPath id="clipS"><rect x="385.5" y="558" width="274.5" height="154"/></clipPath><g clip-path="url(#clipS)"><rect x="382.5" y="555" width="280.5" height="160" fill="#3a12b0"/><g filter="url(#hblur)" shape-rendering="crispEdges"><path d="M498.0 618h131.5v1h-131.5zM632.5 618h16.0v1h-16.0zM651.0 618h12.0v1h-12.0zM382.5 619h110.5v1h-110.5zM498.0 619h165.0v1h-165.0zM382.5 643h110.5v1h-110.5zM382.5 646h110.5v1h-110.5zM382.5 648h110.5v1h-110.5z" fill="#1a0f8d"/><path d="M498.0 578h131.5v1h-131.5zM632.5 578h30.5v1h-30.5zM498.0 579h165.0v1h-165.0zM498.0 580h165.0v1h-165.0zM498.0 581h165.0v1h-165.0zM498.0 582h131.5v1h-131.5zM632.5 582h16.0v1h-16.0zM651.0 582h12.0v1h-12.0zM498.0 583h131.5v1h-131.5zM632.5 583h30.5v1h-30.5zM498.0 597h131.5v1h-131.5zM632.5 597h16.0v1h-16.0zM651.0 597h12.0v1h-12.0zM382.5 618h115.5v1h-115.5zM629.5 618h3.0v1h-3.0zM648.5 618h2.5v1h-2.5zM493.0 619h5.0v1h-5.0zM493.0 643h155.5v1h-155.5zM651.0 643h12.0v1h-12.0zM382.5 644h110.5v1h-110.5zM382.5 645h110.5v1h-110.5zM493.0 646h155.5v1h-155.5zM651.0 646h12.0v1h-12.0zM382.5 647h110.5v1h-110.5zM493.0 648h155.5v1h-155.5zM651.0 648h12.0v1h-12.0zM382.5 649h110.5v1h-110.5z" fill="#200f95"/><path d="M498.0 562h131.5v1h-131.5zM632.5 562h16.0v1h-16.0zM651.0 562h12.0v1h-12.0zM498.0 566h131.5v1h-131.5zM632.5 566h16.0v1h-16.0zM651.0 566h12.0v1h-12.0zM498.0 569h131.5v1h-131.5zM632.5 569h16.0v1h-16.0zM651.0 569h12.0v1h-12.0zM498.0 572h131.5v1h-131.5zM632.5 572h16.0v1h-16.0zM651.0 572h12.0v1h-12.0zM632.5 574h16.0v1h-16.0zM651.0 574h12.0v1h-12.0zM382.5 578h115.5v1h-115.5zM629.5 578h3.0v1h-3.0zM382.5 579h115.5v1h-115.5zM382.5 580h115.5v1h-115.5zM382.5 581h115.5v1h-115.5zM382.5 582h110.5v1h-110.5zM629.5 582h3.0v1h-3.0zM648.5 582h2.5v1h-2.5zM382.5 583h115.5v1h-115.5zM629.5 583h3.0v1h-3.0zM632.5 590h16.0v1h-16.0zM651.0 590h12.0v1h-12.0zM632.5 592h16.0v1h-16.0zM651.0 592h12.0v1h-12.0zM651.0 594h12.0v1h-12.0zM629.5 597h3.0v1h-3.0zM648.5 597h2.5v1h-2.5zM498.0 612h131.5v1h-131.5zM632.5 612h16.0v1h-16.0zM651.0 612h12.0v1h-12.0zM648.5 643h2.5v1h-2.5zM493.0 644h170.0v1h-170.0zM493.0 645h136.5v1h-136.5zM632.5 645h16.0v1h-16.0zM651.0 645h12.0v1h-12.0zM648.5 646h2.5v1h-2.5zM493.0 647h170.0v1h-170.0zM648.5 648h2.5v1h-2.5zM493.0 649h170.0v1h-170.0zM382.5 652h110.5v1h-110.5zM382.5 653h110.5v1h-110.5zM382.5 663h110.5v1h-110.5zM382.5 665h110.5v1h-110.5zM382.5 666h110.5v1h-110.5zM382.5 667h110.5v1h-110.5zM382.5 673h110.5v1h-110.5zM382.5 674h110.5v1h-110.5zM382.5 690h110.5v1h-110.5zM382.5 691h110.5v1h-110.5zM382.5 694h110.5v1h-110.5zM382.5 695h110.5v1h-110.5zM382.5 696h110.5v1h-110.5z" fill="#260f9d"/><path d="M498.0 559h131.5v1h-131.5zM632.5 559h16.0v1h-16.0zM651.0 559h12.0v1h-12.0zM629.5 562h3.0v1h-3.0zM648.5 562h2.5v1h-2.5zM498.0 563h131.5v1h-131.5zM632.5 563h16.0v1h-16.0zM651.0 563h12.0v1h-12.0zM498.0 564h131.5v1h-131.5zM632.5 564h16.0v1h-16.0zM651.0 564h12.0v1h-12.0zM382.5 566h110.5v1h-110.5zM629.5 566h3.0v1h-3.0zM648.5 566h2.5v1h-2.5zM382.5 569h110.5v1h-110.5zM629.5 569h3.0v1h-3.0zM648.5 569h2.5v1h-2.5zM498.0 570h131.5v1h-131.5zM632.5 570h16.0v1h-16.0zM651.0 570h12.0v1h-12.0zM498.0 571h131.5v1h-131.5zM632.5 571h16.0v1h-16.0zM651.0 571h12.0v1h-12.0zM382.5 572h110.5v1h-110.5zM629.5 572h3.0v1h-3.0zM648.5 572h2.5v1h-2.5zM498.0 573h131.5v1h-131.5zM632.5 573h16.0v1h-16.0zM651.0 573h12.0v1h-12.0zM498.0 574h134.5v1h-134.5zM648.5 574h2.5v1h-2.5zM498.0 575h165.0v1h-165.0zM498.0 576h165.0v1h-165.0zM493.0 582h5.0v1h-5.0zM498.0 584h165.0v1h-165.0zM498.0 585h165.0v1h-165.0zM498.0 587h131.5v1h-131.5zM632.5 587h16.0v1h-16.0zM651.0 587h12.0v1h-12.0zM498.0 590h134.5v1h-134.5zM648.5 590h2.5v1h-2.5zM498.0 592h134.5v1h-134.5zM648.5 592h2.5v1h-2.5zM498.0 594h153.0v1h-153.0zM382.5 597h115.5v1h-115.5zM382.5 604h110.5v1h-110.5zM498.0 604h165.0v1h-165.0zM382.5 612h115.5v1h-115.5zM629.5 612h3.0v1h-3.0zM648.5 612h2.5v1h-2.5zM632.5 616h16.0v1h-16.0zM651.0 616h12.0v1h-12.0zM632.5 617h16.0v1h-16.0zM651.0 617h12.0v1h-12.0zM382.5 623h110.5v1h-110.5zM382.5 629h110.5v1h-110.5zM382.5 630h110.5v1h-110.5zM382.5 641h110.5v1h-110.5zM382.5 642h110.5v1h-110.5zM629.5 645h3.0v1h-3.0zM648.5 645h2.5v1h-2.5zM382.5 650h110.5v1h-110.5zM382.5 651h110.5v1h-110.5zM493.0 652h170.0v1h-170.0zM493.0 653h170.0v1h-170.0zM382.5 658h110.5v1h-110.5zM382.5 659h110.5v1h-110.5zM382.5 661h110.5v1h-110.5zM382.5 662h110.5v1h-110.5zM493.0 665h136.5v1h-136.5zM632.5 665h16.0v1h-16.0zM651.0 665h12.0v1h-12.0zM493.0 666h136.5v1h-136.5zM632.5 666h16.0v1h-16.0zM651.0 666h12.0v1h-12.0zM493.0 667h5.0v1h-5.0zM382.5 669h110.5v1h-110.5zM382.5 670h110.5v1h-110.5zM382.5 671h110.5v1h-110.5zM382.5 675h110.5v1h-110.5zM382.5 676h110.5v1h-110.5zM498.0 676h131.5v1h-131.5zM493.0 690h155.5v1h-155.5zM651.0 690h12.0v1h-12.0zM493.0 691h155.5v1h-155.5zM651.0 691h12.0v1h-12.0zM382.5 692h110.5v1h-110.5zM493.0 694h136.5v1h-136.5zM632.5 694h16.0v1h-16.0zM493.0 695h155.5v1h-155.5zM651.0 695h12.0v1h-12.0zM493.0 696h136.5v1h-136.5zM632.5 696h16.0v1h-16.0zM382.5 698h110.5v1h-110.5zM498.0 698h131.5v1h-131.5zM382.5 699h110.5v1h-110.5zM382.5 700h110.5v1h-110.5zM382.5 707h110.5v1h-110.5zM382.5 709h110.5v1h-110.5z" fill="#2c10a6"/><path d="M498.0 555h131.5v1h-131.5zM632.5 555h16.0v1h-16.0zM651.0 555h12.0v1h-12.0zM498.0 556h131.5v1h-131.5zM632.5 556h16.0v1h-16.0zM651.0 556h12.0v1h-12.0zM498.0 557h131.5v1h-131.5zM632.5 557h16.0v1h-16.0zM651.0 557h12.0v1h-12.0zM498.0 558h131.5v1h-131.5zM632.5 558h16.0v1h-16.0zM651.0 558h12.0v1h-12.0zM629.5 559h3.0v1h-3.0zM648.5 559h2.5v1h-2.5zM498.0 560h131.5v1h-131.5zM632.5 560h16.0v1h-16.0zM651.0 560h12.0v1h-12.0zM382.5 562h115.5v1h-115.5zM629.5 563h3.0v1h-3.0zM648.5 563h2.5v1h-2.5zM629.5 564h3.0v1h-3.0zM648.5 564h2.5v1h-2.5zM651.0 565h12.0v1h-12.0zM493.0 566h5.0v1h-5.0zM498.0 567h131.5v1h-131.5zM632.5 567h16.0v1h-16.0zM651.0 567h12.0v1h-12.0zM498.0 568h131.5v1h-131.5zM632.5 568h16.0v1h-16.0zM651.0 568h12.0v1h-12.0zM493.0 569h5.0v1h-5.0zM629.5 570h3.0v1h-3.0zM648.5 570h2.5v1h-2.5zM629.5 571h3.0v1h-3.0zM648.5 571h2.5v1h-2.5zM493.0 572h5.0v1h-5.0zM629.5 573h3.0v1h-3.0zM648.5 573h2.5v1h-2.5zM382.5 574h115.5v1h-115.5zM382.5 575h115.5v1h-115.5zM382.5 576h115.5v1h-115.5zM498.0 577h131.5v1h-131.5zM632.5 577h30.5v1h-30.5zM382.5 584h115.5v1h-115.5zM382.5 585h115.5v1h-115.5zM629.5 587h3.0v1h-3.0zM648.5 587h2.5v1h-2.5zM382.5 590h115.5v1h-115.5zM498.0 591h131.5v1h-131.5zM632.5 591h16.0v1h-16.0zM651.0 591h12.0v1h-12.0zM382.5 592h115.5v1h-115.5zM382.5 594h115.5v1h-115.5zM498.0 595h131.5v1h-131.5zM632.5 595h16.0v1h-16.0zM651.0 595h12.0v1h-12.0zM498.0 596h131.5v1h-131.5zM632.5 596h16.0v1h-16.0zM651.0 596h12.0v1h-12.0zM498.0 598h131.5v1h-131.5zM632.5 598h30.5v1h-30.5zM382.5 602h110.5v1h-110.5zM498.0 602h165.0v1h-165.0zM493.0 604h5.0v1h-5.0zM498.0 607h131.5v1h-131.5zM632.5 607h16.0v1h-16.0zM651.0 607h12.0v1h-12.0zM498.0 610h131.5v1h-131.5zM632.5 610h16.0v1h-16.0zM651.0 610h12.0v1h-12.0zM382.5 611h280.5v1h-280.5zM382.5 616h250.0v1h-250.0zM648.5 616h2.5v1h-2.5zM382.5 617h250.0v1h-250.0zM648.5 617h2.5v1h-2.5zM382.5 622h110.5v1h-110.5zM493.0 623h136.5v1h-136.5zM382.5 626h110.5v1h-110.5zM382.5 633h110.5v1h-110.5zM493.0 658h136.5v1h-136.5zM632.5 658h16.0v1h-16.0zM651.0 658h12.0v1h-12.0zM493.0 659h5.0v1h-5.0zM493.0 661h5.0v1h-5.0zM493.0 662h136.5v1h-136.5zM632.5 662h16.0v1h-16.0zM651.0 662h12.0v1h-12.0zM493.0 663h170.0v1h-170.0zM629.5 665h3.0v1h-3.0zM648.5 665h2.5v1h-2.5zM629.5 666h3.0v1h-3.0zM648.5 666h2.5v1h-2.5zM498.0 667h165.0v1h-165.0zM493.0 669h136.5v1h-136.5zM632.5 669h16.0v1h-16.0zM651.0 669h12.0v1h-12.0zM493.0 670h136.5v1h-136.5zM632.5 670h16.0v1h-16.0zM651.0 670h12.0v1h-12.0zM493.0 671h136.5v1h-136.5zM632.5 671h16.0v1h-16.0zM651.0 671h12.0v1h-12.0zM493.0 673h170.0v1h-170.0zM493.0 674h170.0v1h-170.0zM493.0 676h5.0v1h-5.0zM629.5 676h19.0v1h-19.0zM651.0 676h12.0v1h-12.0zM648.5 690h2.5v1h-2.5zM648.5 691h2.5v1h-2.5zM493.0 692h136.5v1h-136.5zM632.5 692h16.0v1h-16.0zM629.5 694h3.0v1h-3.0zM648.5 694h14.5v1h-14.5zM648.5 695h2.5v1h-2.5zM629.5 696h3.0v1h-3.0zM648.5 696h14.5v1h-14.5zM493.0 698h5.0v1h-5.0zM629.5 698h19.0v1h-19.0zM651.0 698h12.0v1h-12.0zM493.0 699h136.5v1h-136.5zM632.5 699h16.0v1h-16.0zM493.0 700h136.5v1h-136.5zM632.5 700h16.0v1h-16.0zM382.5 704h110.5v1h-110.5zM382.5 705h110.5v1h-110.5zM493.0 707h136.5v1h-136.5zM493.0 709h136.5v1h-136.5z" fill="#3210ae"/><path d="M629.5 555h3.0v1h-3.0zM648.5 555h2.5v1h-2.5zM629.5 556h3.0v1h-3.0zM648.5 556h2.5v1h-2.5zM629.5 557h3.0v1h-3.0zM648.5 557h2.5v1h-2.5zM629.5 558h3.0v1h-3.0zM648.5 558h2.5v1h-2.5zM382.5 559h115.5v1h-115.5zM629.5 560h3.0v1h-3.0zM648.5 560h2.5v1h-2.5zM498.0 561h131.5v1h-131.5zM632.5 561h16.0v1h-16.0zM651.0 561h12.0v1h-12.0zM382.5 563h115.5v1h-115.5zM382.5 564h115.5v1h-115.5zM498.0 565h131.5v1h-131.5zM632.5 565h18.5v1h-18.5zM629.5 567h3.0v1h-3.0zM648.5 567h2.5v1h-2.5zM629.5 568h3.0v1h-3.0zM648.5 568h2.5v1h-2.5zM382.5 570h115.5v1h-115.5zM382.5 571h115.5v1h-115.5zM382.5 573h115.5v1h-115.5zM629.5 577h3.0v1h-3.0zM382.5 587h115.5v1h-115.5zM629.5 591h3.0v1h-3.0zM648.5 591h2.5v1h-2.5zM498.0 593h131.5v1h-131.5zM632.5 593h16.0v1h-16.0zM651.0 593h12.0v1h-12.0zM629.5 595h3.0v1h-3.0zM648.5 595h2.5v1h-2.5zM629.5 596h3.0v1h-3.0zM648.5 596h2.5v1h-2.5zM629.5 598h3.0v1h-3.0zM493.0 602h5.0v1h-5.0zM382.5 607h115.5v1h-115.5zM629.5 607h3.0v1h-3.0zM648.5 607h2.5v1h-2.5zM382.5 610h115.5v1h-115.5zM629.5 610h3.0v1h-3.0zM648.5 610h2.5v1h-2.5zM382.5 614h280.5v1h-280.5zM498.0 615h131.5v1h-131.5zM632.5 615h16.0v1h-16.0zM651.0 615h12.0v1h-12.0zM629.5 623h33.5v1h-33.5zM382.5 625h110.5v1h-110.5zM382.5 627h110.5v1h-110.5zM493.0 629h136.5v1h-136.5zM632.5 629h16.0v1h-16.0zM651.0 629h12.0v1h-12.0zM493.0 630h136.5v1h-136.5zM632.5 630h16.0v1h-16.0zM651.0 630h12.0v1h-12.0zM382.5 632h110.5v1h-110.5zM382.5 639h110.5v1h-110.5zM382.5 640h110.5v1h-110.5zM493.0 641h136.5v1h-136.5zM632.5 641h16.0v1h-16.0zM651.0 641h12.0v1h-12.0zM493.0 642h136.5v1h-136.5zM632.5 642h16.0v1h-16.0zM651.0 642h12.0v1h-12.0zM493.0 650h136.5v1h-136.5zM632.5 650h16.0v1h-16.0zM651.0 650h12.0v1h-12.0zM493.0 651h136.5v1h-136.5zM632.5 651h16.0v1h-16.0zM651.0 651h12.0v1h-12.0zM382.5 654h110.5v1h-110.5zM382.5 655h110.5v1h-110.5zM629.5 658h3.0v1h-3.0zM648.5 658h2.5v1h-2.5zM498.0 659h150.5v1h-150.5zM651.0 659h12.0v1h-12.0zM498.0 661h165.0v1h-165.0zM629.5 662h3.0v1h-3.0zM648.5 662h2.5v1h-2.5zM382.5 664h110.5v1h-110.5zM382.5 668h110.5v1h-110.5zM629.5 669h3.0v1h-3.0zM648.5 669h2.5v1h-2.5zM629.5 670h3.0v1h-3.0zM648.5 670h2.5v1h-2.5zM629.5 671h3.0v1h-3.0zM648.5 671h2.5v1h-2.5zM493.0 675h136.5v1h-136.5zM632.5 675h16.0v1h-16.0zM651.0 675h12.0v1h-12.0zM648.5 676h2.5v1h-2.5zM382.5 684h110.5v1h-110.5zM382.5 685h110.5v1h-110.5zM382.5 686h110.5v1h-110.5zM382.5 688h110.5v1h-110.5zM382.5 689h110.5v1h-110.5zM629.5 692h3.0v1h-3.0zM648.5 692h14.5v1h-14.5zM382.5 697h110.5v1h-110.5zM648.5 698h2.5v1h-2.5zM629.5 699h3.0v1h-3.0zM648.5 699h14.5v1h-14.5zM629.5 700h3.0v1h-3.0zM648.5 700h14.5v1h-14.5zM493.0 704h136.5v1h-136.5zM632.5 704h16.0v1h-16.0zM493.0 705h136.5v1h-136.5zM632.5 705h16.0v1h-16.0zM629.5 707h33.5v1h-33.5zM382.5 708h110.5v1h-110.5zM629.5 709h33.5v1h-33.5z" fill="#3a12b6"/><path d="M382.5 555h115.5v1h-115.5zM382.5 556h115.5v1h-115.5zM382.5 557h115.5v1h-115.5zM382.5 558h115.5v1h-115.5zM382.5 560h115.5v1h-115.5zM629.5 561h3.0v1h-3.0zM648.5 561h2.5v1h-2.5zM629.5 565h3.0v1h-3.0zM382.5 577h115.5v1h-115.5zM651.0 588h12.0v1h-12.0zM651.0 589h12.0v1h-12.0zM382.5 591h115.5v1h-115.5zM629.5 593h3.0v1h-3.0zM648.5 593h2.5v1h-2.5zM382.5 595h115.5v1h-115.5zM382.5 596h115.5v1h-115.5zM382.5 598h115.5v1h-115.5zM382.5 601h110.5v1h-110.5zM498.0 601h165.0v1h-165.0zM382.5 603h110.5v1h-110.5zM498.0 603h165.0v1h-165.0zM498.0 605h131.5v1h-131.5zM632.5 605h16.0v1h-16.0zM651.0 605h12.0v1h-12.0zM382.5 606h110.5v1h-110.5zM498.0 606h165.0v1h-165.0zM382.5 613h110.5v1h-110.5zM498.0 613h165.0v1h-165.0zM382.5 615h115.5v1h-115.5zM629.5 615h3.0v1h-3.0zM648.5 615h2.5v1h-2.5zM493.0 622h136.5v1h-136.5zM382.5 624h110.5v1h-110.5zM493.0 626h136.5v1h-136.5zM632.5 626h16.0v1h-16.0zM629.5 629h3.0v1h-3.0zM648.5 629h2.5v1h-2.5zM629.5 630h3.0v1h-3.0zM648.5 630h2.5v1h-2.5zM493.0 633h136.5v1h-136.5zM632.5 633h16.0v1h-16.0zM651.0 633h12.0v1h-12.0zM629.5 641h3.0v1h-3.0zM648.5 641h2.5v1h-2.5zM629.5 642h3.0v1h-3.0zM648.5 642h2.5v1h-2.5zM629.5 650h3.0v1h-3.0zM648.5 650h2.5v1h-2.5zM629.5 651h3.0v1h-3.0zM648.5 651h2.5v1h-2.5zM648.5 659h2.5v1h-2.5zM382.5 660h110.5v1h-110.5zM382.5 672h110.5v1h-110.5zM629.5 675h3.0v1h-3.0zM648.5 675h2.5v1h-2.5zM382.5 683h110.5v1h-110.5zM493.0 684h136.5v1h-136.5zM493.0 685h136.5v1h-136.5zM382.5 693h110.5v1h-110.5zM382.5 702h110.5v1h-110.5zM382.5 703h110.5v1h-110.5zM629.5 704h3.0v1h-3.0zM648.5 704h14.5v1h-14.5zM629.5 705h3.0v1h-3.0zM648.5 705h14.5v1h-14.5z" fill="#4114bd"/><path d="M382.5 561h115.5v1h-115.5zM382.5 565h115.5v1h-115.5zM382.5 567h115.5v1h-115.5zM382.5 568h115.5v1h-115.5zM498.0 586h131.5v1h-131.5zM632.5 586h16.0v1h-16.0zM651.0 586h12.0v1h-12.0zM498.0 588h131.5v1h-131.5zM632.5 588h16.0v1h-16.0zM498.0 589h131.5v1h-131.5zM632.5 589h16.0v1h-16.0zM498.0 599h131.5v1h-131.5zM632.5 599h16.0v1h-16.0zM651.0 599h12.0v1h-12.0zM493.0 601h5.0v1h-5.0zM493.0 603h5.0v1h-5.0zM382.5 605h115.5v1h-115.5zM629.5 605h3.0v1h-3.0zM648.5 605h2.5v1h-2.5zM493.0 606h5.0v1h-5.0zM493.0 613h5.0v1h-5.0zM629.5 622h33.5v1h-33.5zM493.0 625h136.5v1h-136.5zM632.5 625h16.0v1h-16.0zM651.0 625h12.0v1h-12.0zM629.5 626h3.0v1h-3.0zM648.5 626h14.5v1h-14.5zM493.0 627h136.5v1h-136.5zM632.5 627h16.0v1h-16.0zM651.0 627h12.0v1h-12.0zM382.5 628h110.5v1h-110.5zM382.5 631h110.5v1h-110.5zM493.0 632h136.5v1h-136.5zM632.5 632h16.0v1h-16.0zM651.0 632h12.0v1h-12.0zM629.5 633h3.0v1h-3.0zM648.5 633h2.5v1h-2.5zM493.0 639h136.5v1h-136.5zM632.5 639h16.0v1h-16.0zM493.0 640h136.5v1h-136.5zM632.5 640h16.0v1h-16.0zM493.0 654h136.5v1h-136.5zM632.5 654h16.0v1h-16.0zM493.0 655h136.5v1h-136.5zM632.5 655h16.0v1h-16.0zM493.0 664h5.0v1h-5.0zM493.0 668h136.5v1h-136.5zM632.5 668h16.0v1h-16.0zM629.5 684h19.0v1h-19.0zM651.0 684h12.0v1h-12.0zM629.5 685h19.0v1h-19.0zM651.0 685h12.0v1h-12.0zM493.0 686h136.5v1h-136.5zM493.0 688h136.5v1h-136.5zM632.5 688h16.0v1h-16.0zM493.0 689h136.5v1h-136.5zM632.5 689h16.0v1h-16.0zM493.0 693h136.5v1h-136.5zM493.0 697h136.5v1h-136.5zM632.5 697h16.0v1h-16.0zM382.5 706h110.5v1h-110.5zM493.0 708h136.5v1h-136.5zM632.5 708h16.0v1h-16.0z" fill="#4916c4"/><path d="M629.5 586h3.0v1h-3.0zM648.5 586h2.5v1h-2.5zM629.5 588h3.0v1h-3.0zM648.5 588h2.5v1h-2.5zM629.5 589h3.0v1h-3.0zM648.5 589h2.5v1h-2.5zM382.5 593h115.5v1h-115.5zM629.5 599h3.0v1h-3.0zM648.5 599h2.5v1h-2.5zM382.5 620h110.5v1h-110.5zM382.5 621h110.5v1h-110.5zM629.5 625h3.0v1h-3.0zM648.5 625h2.5v1h-2.5zM629.5 627h3.0v1h-3.0zM648.5 627h2.5v1h-2.5zM629.5 632h3.0v1h-3.0zM648.5 632h2.5v1h-2.5zM629.5 639h3.0v1h-3.0zM648.5 639h14.5v1h-14.5zM629.5 640h3.0v1h-3.0zM648.5 640h14.5v1h-14.5zM629.5 654h3.0v1h-3.0zM648.5 654h14.5v1h-14.5zM629.5 655h3.0v1h-3.0zM648.5 655h14.5v1h-14.5zM382.5 656h110.5v1h-110.5zM382.5 657h110.5v1h-110.5zM493.0 660h136.5v1h-136.5zM632.5 660h16.0v1h-16.0zM498.0 664h150.5v1h-150.5zM651.0 664h12.0v1h-12.0zM629.5 668h3.0v1h-3.0zM648.5 668h14.5v1h-14.5zM493.0 672h5.0v1h-5.0zM382.5 677h110.5v1h-110.5zM493.0 683h136.5v1h-136.5zM632.5 683h16.0v1h-16.0zM648.5 684h2.5v1h-2.5zM648.5 685h2.5v1h-2.5zM629.5 686h19.0v1h-19.0zM651.0 686h12.0v1h-12.0zM629.5 688h3.0v1h-3.0zM651.0 688h12.0v1h-12.0zM629.5 689h3.0v1h-3.0zM651.0 689h12.0v1h-12.0zM629.5 693h19.0v1h-19.0zM651.0 693h12.0v1h-12.0zM629.5 697h3.0v1h-3.0zM651.0 697h12.0v1h-12.0zM493.0 702h136.5v1h-136.5zM632.5 702h16.0v1h-16.0zM493.0 703h136.5v1h-136.5zM632.5 703h16.0v1h-16.0zM629.5 708h3.0v1h-3.0zM648.5 708h14.5v1h-14.5z" fill="#5118cc"/><path d="M498.0 600h131.5v1h-131.5zM632.5 600h16.0v1h-16.0zM651.0 600h12.0v1h-12.0zM498.0 608h131.5v1h-131.5zM632.5 608h16.0v1h-16.0zM651.0 608h12.0v1h-12.0zM498.0 609h131.5v1h-131.5zM632.5 609h16.0v1h-16.0zM651.0 609h12.0v1h-12.0zM493.0 624h136.5v1h-136.5zM632.5 624h16.0v1h-16.0zM493.0 628h5.0v1h-5.0zM493.0 631h136.5v1h-136.5zM382.5 637h110.5v1h-110.5zM629.5 660h3.0v1h-3.0zM648.5 660h14.5v1h-14.5zM648.5 664h2.5v1h-2.5zM498.0 672h150.5v1h-150.5zM651.0 672h12.0v1h-12.0zM498.0 677h131.5v1h-131.5zM629.5 683h3.0v1h-3.0zM651.0 683h12.0v1h-12.0zM648.5 686h2.5v1h-2.5zM382.5 687h110.5v1h-110.5zM648.5 688h2.5v1h-2.5zM648.5 689h2.5v1h-2.5zM648.5 693h2.5v1h-2.5zM648.5 697h2.5v1h-2.5zM629.5 702h3.0v1h-3.0zM651.0 702h12.0v1h-12.0zM629.5 703h3.0v1h-3.0zM651.0 703h12.0v1h-12.0zM493.0 706h136.5v1h-136.5zM632.5 706h16.0v1h-16.0z" fill="#581bd3"/><path d="M382.5 586h115.5v1h-115.5zM382.5 588h115.5v1h-115.5zM382.5 589h115.5v1h-115.5zM382.5 599h115.5v1h-115.5zM382.5 600h110.5v1h-110.5zM629.5 600h3.0v1h-3.0zM648.5 600h2.5v1h-2.5zM382.5 608h110.5v1h-110.5zM629.5 608h3.0v1h-3.0zM648.5 608h2.5v1h-2.5zM382.5 609h110.5v1h-110.5zM629.5 609h3.0v1h-3.0zM648.5 609h2.5v1h-2.5zM493.0 620h136.5v1h-136.5zM493.0 621h136.5v1h-136.5zM629.5 624h3.0v1h-3.0zM651.0 624h12.0v1h-12.0zM498.0 628h131.5v1h-131.5zM632.5 628h16.0v1h-16.0zM651.0 628h12.0v1h-12.0zM629.5 631h19.0v1h-19.0zM651.0 631h12.0v1h-12.0zM493.0 637h170.0v1h-170.0zM382.5 638h110.5v1h-110.5zM493.0 656h136.5v1h-136.5zM493.0 657h136.5v1h-136.5zM648.5 672h2.5v1h-2.5zM493.0 677h5.0v1h-5.0zM382.5 679h110.5v1h-110.5zM382.5 681h110.5v1h-110.5zM382.5 682h110.5v1h-110.5zM648.5 683h2.5v1h-2.5zM382.5 701h110.5v1h-110.5zM648.5 702h2.5v1h-2.5zM648.5 703h2.5v1h-2.5zM629.5 706h3.0v1h-3.0zM651.0 706h12.0v1h-12.0z" fill="#601dda"/><path d="M493.0 600h5.0v1h-5.0zM493.0 608h5.0v1h-5.0zM493.0 609h5.0v1h-5.0zM632.5 620h16.0v1h-16.0zM651.0 620h12.0v1h-12.0zM632.5 621h16.0v1h-16.0zM651.0 621h12.0v1h-12.0zM648.5 624h2.5v1h-2.5zM629.5 628h3.0v1h-3.0zM648.5 628h2.5v1h-2.5zM648.5 631h2.5v1h-2.5zM382.5 634h110.5v1h-110.5zM382.5 635h110.5v1h-110.5zM498.0 638h131.5v1h-131.5zM632.5 638h16.0v1h-16.0zM651.0 638h12.0v1h-12.0zM632.5 656h16.0v1h-16.0zM651.0 656h12.0v1h-12.0zM632.5 657h16.0v1h-16.0zM651.0 657h12.0v1h-12.0zM629.5 677h19.0v1h-19.0zM651.0 677h12.0v1h-12.0zM382.5 678h110.5v1h-110.5zM382.5 680h110.5v1h-110.5zM498.0 687h131.5v1h-131.5zM648.5 706h2.5v1h-2.5z" fill="#6820df"/><path d="M629.5 620h3.0v1h-3.0zM648.5 620h2.5v1h-2.5zM629.5 621h3.0v1h-3.0zM648.5 621h2.5v1h-2.5zM498.0 634h131.5v1h-131.5zM632.5 634h16.0v1h-16.0zM651.0 634h12.0v1h-12.0zM498.0 635h131.5v1h-131.5zM632.5 635h16.0v1h-16.0zM651.0 635h12.0v1h-12.0zM382.5 636h110.5v1h-110.5zM493.0 638h5.0v1h-5.0zM629.5 638h3.0v1h-3.0zM648.5 638h2.5v1h-2.5zM629.5 656h3.0v1h-3.0zM648.5 656h2.5v1h-2.5zM629.5 657h3.0v1h-3.0zM648.5 657h2.5v1h-2.5zM648.5 677h2.5v1h-2.5zM493.0 679h136.5v1h-136.5zM493.0 681h136.5v1h-136.5zM493.0 682h136.5v1h-136.5zM493.0 687h5.0v1h-5.0zM632.5 687h16.0v1h-16.0zM493.0 701h136.5v1h-136.5z" fill="#7024e2"/><path d="M493.0 634h5.0v1h-5.0zM629.5 634h3.0v1h-3.0zM648.5 634h2.5v1h-2.5zM493.0 635h5.0v1h-5.0zM629.5 635h3.0v1h-3.0zM648.5 635h2.5v1h-2.5zM498.0 636h131.5v1h-131.5zM632.5 636h16.0v1h-16.0zM651.0 636h12.0v1h-12.0zM498.0 678h131.5v1h-131.5zM629.5 679h19.0v1h-19.0zM498.0 680h131.5v1h-131.5zM629.5 681h19.0v1h-19.0zM629.5 682h19.0v1h-19.0zM629.5 687h3.0v1h-3.0zM651.0 687h12.0v1h-12.0zM629.5 701h19.0v1h-19.0zM651.0 701h12.0v1h-12.0zM382.5 710h110.5v1h-110.5zM382.5 711h110.5v1h-110.5zM382.5 712h110.5v1h-110.5zM382.5 713h110.5v1h-110.5zM382.5 714h110.5v1h-110.5z" fill="#7828e5"/><path d="M493.0 636h5.0v1h-5.0zM629.5 636h3.0v1h-3.0zM648.5 636h2.5v1h-2.5zM493.0 678h5.0v1h-5.0zM651.0 679h12.0v1h-12.0zM493.0 680h5.0v1h-5.0zM651.0 681h12.0v1h-12.0zM651.0 682h12.0v1h-12.0zM648.5 687h2.5v1h-2.5z" fill="#802be8"/><path d="M629.5 678h19.0v1h-19.0zM648.5 679h2.5v1h-2.5zM629.5 680h19.0v1h-19.0zM648.5 681h2.5v1h-2.5zM648.5 682h2.5v1h-2.5zM648.5 701h2.5v1h-2.5z" fill="#882feb"/><path d="M648.5 678h14.5v1h-14.5zM648.5 680h14.5v1h-14.5zM498.0 710h131.5v1h-131.5zM498.0 711h131.5v1h-131.5zM498.0 712h131.5v1h-131.5zM498.0 713h131.5v1h-131.5zM498.0 714h131.5v1h-131.5z" fill="#9033ee"/><path d="M493.0 710h5.0v1h-5.0zM493.0 711h5.0v1h-5.0zM493.0 712h5.0v1h-5.0zM493.0 713h5.0v1h-5.0zM493.0 714h5.0v1h-5.0z" fill="#9837f0"/><path d="M629.5 710h19.0v1h-19.0zM651.0 710h12.0v1h-12.0zM629.5 711h19.0v1h-19.0zM651.0 711h12.0v1h-12.0zM629.5 712h19.0v1h-19.0zM651.0 712h12.0v1h-12.0zM629.5 713h19.0v1h-19.0zM651.0 713h12.0v1h-12.0zM629.5 714h19.0v1h-19.0zM651.0 714h12.0v1h-12.0z" fill="#9f3dee"/><path d="M648.5 710h2.5v1h-2.5zM648.5 711h2.5v1h-2.5zM648.5 712h2.5v1h-2.5zM648.5 713h2.5v1h-2.5zM648.5 714h2.5v1h-2.5z" fill="#ae49ec"/></g></g>
<rect x="385.50" y="712.50" width="107.20" height="7.50" fill="#9b0b45" stroke="#3a3a3a" stroke-width="0.35" rx="0" />
<rect x="492.70" y="712.50" width="5.10" height="7.50" fill="#e22079" stroke="#3a3a3a" stroke-width="0.35" rx="0" />
<rect x="497.80" y="712.50" width="131.60" height="7.50" fill="#de63b1" stroke="#3a3a3a" stroke-width="0.35" rx="0" />
<rect x="629.40" y="712.50" width="19.00" height="7.50" fill="#d8b3da" stroke="#3a3a3a" stroke-width="0.35" rx="0" />
<rect x="648.40" y="712.50" width="11.50" height="7.50" fill="#fdc6bf" stroke="#3a3a3a" stroke-width="0.35" rx="0" />
<rect x="385.50" y="712.50" width="274.40" height="7.50" fill="none" stroke="#777" stroke-width="0.6" rx="0" />
<text x="384.00" y="718.30" font-size="7.0" text-anchor="end" font-weight="normal" fill="#000" font-family="Liberation Sans" font-style="normal" >Group</text>
<text x="669.40" y="543.10" font-size="3.65" text-anchor="start" font-weight="bold" fill="#ead24a" font-family="Liberation Sans" font-style="normal" >POSTN</text>
<text x="669.40" y="547.32" font-size="3.65" text-anchor="start" font-weight="bold" fill="#ead24a" font-family="Liberation Sans" font-style="normal" >PTCH2</text>
<text x="669.40" y="551.55" font-size="3.65" text-anchor="start" font-weight="bold" fill="#ead24a" font-family="Liberation Sans" font-style="normal" >EDN3</text>
<text x="669.40" y="555.77" font-size="3.65" text-anchor="start" font-weight="bold" fill="#e93a55" font-family="Liberation Sans" font-style="normal" >HOXA10</text>
<text x="669.40" y="560.00" font-size="3.65" text-anchor="start" font-weight="bold" fill="#ead24a" font-family="Liberation Sans" font-style="normal" >LRP1</text>
<text x="669.40" y="564.22" font-size="3.65" text-anchor="start" font-weight="bold" fill="#ead24a" font-family="Liberation Sans" font-style="normal" >NPR3</text>
<text x="669.40" y="568.45" font-size="3.65" text-anchor="start" font-weight="bold" fill="#ead24a" font-family="Liberation Sans" font-style="normal" >IGF1</text>
<text x="669.40" y="572.67" font-size="3.65" text-anchor="start" font-weight="bold" fill="#ead24a" font-family="Liberation Sans" font-style="normal" >COL1A1</text>
<text x="669.40" y="576.90" font-size="3.65" text-anchor="start" font-weight="bold" fill="#ead24a" font-family="Liberation Sans" font-style="normal" >ITGA8</text>
<text x="669.40" y="581.12" font-size="3.65" text-anchor="start" font-weight="bold" fill="#e93a55" font-family="Liberation Sans" font-style="normal" >SOX4</text>
<text x="669.40" y="585.35" font-size="3.65" text-anchor="start" font-weight="bold" fill="#e93a55" font-family="Liberation Sans" font-style="normal" >ESRRG</text>
<text x="669.40" y="589.57" font-size="3.65" text-anchor="start" font-weight="bold" fill="#e93a55" font-family="Liberation Sans" font-style="normal" >TCF4</text>
<text x="669.40" y="593.80" font-size="3.65" text-anchor="start" font-weight="bold" fill="#ead24a" font-family="Liberation Sans" font-style="normal" >EDNRA</text>
<text x="669.40" y="598.02" font-size="3.65" text-anchor="start" font-weight="bold" fill="#e93a55" font-family="Liberation Sans" font-style="normal" >TBX3</text>
<text x="669.40" y="602.25" font-size="3.65" text-anchor="start" font-weight="bold" fill="#ead24a" font-family="Liberation Sans" font-style="normal" >COL1A2</text>
<text x="669.40" y="606.47" font-size="3.65" text-anchor="start" font-weight="bold" fill="#ead24a" font-family="Liberation Sans" font-style="normal" >FN1</text>
<text x="669.40" y="610.70" font-size="3.65" text-anchor="start" font-weight="bold" fill="#e93a55" font-family="Liberation Sans" font-style="normal" >KLF12</text>
<text x="669.40" y="614.92" font-size="3.65" text-anchor="start" font-weight="bold" fill="#ead24a" font-family="Liberation Sans" font-style="normal" >GDF7</text>
<text x="669.40" y="619.15" font-size="3.65" text-anchor="start" font-weight="bold" fill="#e93a55" font-family="Liberation Sans" font-style="normal" >TSC22D3</text>
<text x="669.40" y="623.38" font-size="3.65" text-anchor="start" font-weight="bold" fill="#ead24a" font-family="Liberation Sans" font-style="normal" >SEMA5A</text>
<text x="669.40" y="627.60" font-size="3.65" text-anchor="start" font-weight="bold" fill="#ead24a" font-family="Liberation Sans" font-style="normal" >PTCH1</text>
<text x="669.40" y="631.82" font-size="3.65" text-anchor="start" font-weight="bold" fill="#e93a55" font-family="Liberation Sans" font-style="normal" >NR2F1</text>
<text x="669.40" y="636.05" font-size="3.65" text-anchor="start" font-weight="bold" fill="#e93a55" font-family="Liberation Sans" font-style="normal" >STAT3</text>
<text x="669.40" y="640.27" font-size="3.65" text-anchor="start" font-weight="bold" fill="#e93a55" font-family="Liberation Sans" font-style="normal" >NFIL3</text>
<text x="669.40" y="644.50" font-size="3.65" text-anchor="start" font-weight="bold" fill="#ead24a" font-family="Liberation Sans" font-style="normal" >TLR4</text>
<text x="669.40" y="648.72" font-size="3.65" text-anchor="start" font-weight="bold" fill="#e93a55" font-family="Liberation Sans" font-style="normal" >CEBPD</text>
<text x="669.40" y="652.95" font-size="3.65" text-anchor="start" font-weight="bold" fill="#ead24a" font-family="Liberation Sans" font-style="normal" >NAMPT</text>
<text x="669.40" y="657.17" font-size="3.65" text-anchor="start" font-weight="bold" fill="#e93a55" font-family="Liberation Sans" font-style="normal" >FOXO1</text>
<text x="669.40" y="661.40" font-size="3.65" text-anchor="start" font-weight="bold" fill="#ead24a" font-family="Liberation Sans" font-style="normal" >INSR</text>
<text x="669.40" y="665.62" font-size="3.65" text-anchor="start" font-weight="bold" fill="#e93a55" font-family="Liberation Sans" font-style="normal" >TWIST2</text>
<text x="669.40" y="669.85" font-size="3.65" text-anchor="start" font-weight="bold" fill="#ead24a" font-family="Liberation Sans" font-style="normal" >OSMR</text>
<text x="669.40" y="674.08" font-size="3.65" text-anchor="start" font-weight="bold" fill="#ead24a" font-family="Liberation Sans" font-style="normal" >BDKRB2</text>
<text x="669.40" y="678.30" font-size="3.65" text-anchor="start" font-weight="bold" fill="#ead24a" font-family="Liberation Sans" font-style="normal" >IL15</text>
<text x="669.40" y="682.52" font-size="3.65" text-anchor="start" font-weight="bold" fill="#e93a55" font-family="Liberation Sans" font-style="normal" >HAND2</text>
<text x="669.40" y="686.75" font-size="3.65" text-anchor="start" font-weight="bold" fill="#ead24a" font-family="Liberation Sans" font-style="normal" >NPW</text>
<text x="669.40" y="690.98" font-size="3.65" text-anchor="start" font-weight="bold" fill="#ead24a" font-family="Liberation Sans" font-style="normal" >GAL</text>
<text x="669.40" y="695.20" font-size="3.65" text-anchor="start" font-weight="bold" fill="#ead24a" font-family="Liberation Sans" font-style="normal" >HLA-C</text>
<text x="669.40" y="699.42" font-size="3.65" text-anchor="start" font-weight="bold" fill="#ead24a" font-family="Liberation Sans" font-style="normal" >PTPRM</text>
<text x="669.40" y="703.65" font-size="3.65" text-anchor="start" font-weight="bold" fill="#ead24a" font-family="Liberation Sans" font-style="normal" >C3</text>
<text x="669.40" y="707.88" font-size="3.65" text-anchor="start" font-weight="bold" fill="#ead24a" font-family="Liberation Sans" font-style="normal" >HLA-A</text>
<text x="669.40" y="712.10" font-size="3.65" text-anchor="start" font-weight="bold" fill="#ead24a" font-family="Liberation Sans" font-style="normal" >CD55</text>
<text x="669.40" y="716.33" font-size="3.65" text-anchor="start" font-weight="bold" fill="#ead24a" font-family="Liberation Sans" font-style="normal" >ANXA1</text>
<text x="669.40" y="720.55" font-size="3.65" text-anchor="start" font-weight="bold" fill="#ead24a" font-family="Liberation Sans" font-style="normal" >HLA-B</text>
<text x="669.40" y="724.77" font-size="3.65" text-anchor="start" font-weight="bold" fill="#e93a55" font-family="Liberation Sans" font-style="normal" >JUNB</text>
<text x="669.40" y="729.00" font-size="3.65" text-anchor="start" font-weight="bold" fill="#e93a55" font-family="Liberation Sans" font-style="normal" >FOS</text>
<path d="M660.6 560.20L662.4 560.20L664.8 541.80L668.0 541.80M660.6 563.73L662.4 563.73L664.8 546.02L668.0 546.02M660.6 567.27L662.4 567.27L664.8 550.25L668.0 550.25M660.6 570.80L662.4 570.80L664.8 554.47L668.0 554.47M660.6 574.33L662.4 574.33L664.8 558.70L668.0 558.70M660.6 577.87L662.4 577.87L664.8 562.92L668.0 562.92M660.6 581.40L662.4 581.40L664.8 567.15L668.0 567.15M660.6 584.93L662.4 584.93L664.8 571.38L668.0 571.38M660.6 588.47L662.4 588.47L664.8 575.60L668.0 575.60M660.6 592.00L662.4 592.00L664.8 579.82L668.0 579.82M660.6 595.53L662.4 595.53L664.8 584.05L668.0 584.05M660.6 599.07L662.4 599.07L664.8 588.27L668.0 588.27M660.6 602.60L662.4 602.60L664.8 592.50L668.0 592.50M660.6 606.13L662.4 606.13L664.8 596.73L668.0 596.73M660.6 609.67L662.4 609.67L664.8 600.95L668.0 600.95M660.6 613.20L662.4 613.20L664.8 605.17L668.0 605.17M660.6 616.73L662.4 616.73L664.8 609.40L668.0 609.40M660.6 620.27L662.4 620.27L664.8 613.62L668.0 613.62M660.6 623.80L662.4 623.80L664.8 617.85L668.0 617.85M660.6 627.33L662.4 627.33L664.8 622.08L668.0 622.08M660.6 630.87L662.4 630.87L664.8 626.30L668.0 626.30M660.6 634.40L662.4 634.40L664.8 630.52L668.0 630.52M660.6 637.93L662.4 637.93L664.8 634.75L668.0 634.75M660.6 641.47L662.4 641.47L664.8 638.98L668.0 638.98M660.6 645.00L662.4 645.00L664.8 643.20L668.0 643.20M660.6 652.00L662.4 652.00L664.8 647.42L668.0 647.42M660.6 655.00L662.4 655.00L664.8 651.65L668.0 651.65M660.6 657.00L662.4 657.00L664.8 655.88L668.0 655.88M660.6 658.50L662.4 658.50L664.8 660.10L668.0 660.10M660.6 659.60L662.4 659.60L664.8 664.33L668.0 664.33M660.6 668.55L662.4 668.55L664.8 668.55L668.0 668.55M660.6 670.40L662.4 670.40L664.8 672.78L668.0 672.78M660.6 672.60L662.4 672.60L664.8 677.00L668.0 677.00M660.6 676.00L662.4 676.00L664.8 681.23L668.0 681.23M660.6 679.50L662.4 679.50L664.8 685.45L668.0 685.45M660.6 683.00L662.4 683.00L664.8 689.68L668.0 689.68M660.6 686.20L662.4 686.20L664.8 693.90L668.0 693.90M660.6 696.40L662.4 696.40L664.8 698.12L668.0 698.12M660.6 699.60L662.4 699.60L664.8 702.35L668.0 702.35M660.6 701.35L662.4 701.35L664.8 706.58L668.0 706.58M660.6 703.10L662.4 703.10L664.8 710.80L668.0 710.80M660.6 704.85L662.4 704.85L664.8 715.03L668.0 715.03M660.6 706.60L662.4 706.60L664.8 719.25L668.0 719.25M660.6 708.35L662.4 708.35L664.8 723.48L668.0 723.48M660.6 710.10L662.4 710.10L664.8 727.70L668.0 727.70" fill="none" stroke="#0a0a0a" stroke-width="0.75" stroke-linejoin="round"/>
<g transform="translate(1.5 0)">
<text x="524.60" y="747.80" font-size="6.5" text-anchor="middle" font-weight="bold" fill="#000" font-family="Liberation Sans" font-style="normal" >Normalized Expression of Top 300 genes</text>
<rect x="422.80" y="751.00" width="203.80" height="5.80" fill="url(#hgrad)" stroke="none" stroke-width="0" rx="0" />
<line x1="424.30" y1="751.00" x2="424.30" y2="752.40" stroke="#fff" stroke-width="0.45" />
<line x1="424.30" y1="755.40" x2="424.30" y2="756.80" stroke="#fff" stroke-width="0.45" />
<text x="424.30" y="762.40" font-size="5.4" text-anchor="middle" font-weight="normal" fill="#000" font-family="Liberation Sans" font-style="normal" >0</text>
<line x1="474.45" y1="751.00" x2="474.45" y2="752.40" stroke="#fff" stroke-width="0.45" />
<line x1="474.45" y1="755.40" x2="474.45" y2="756.80" stroke="#fff" stroke-width="0.45" />
<text x="474.45" y="762.40" font-size="5.4" text-anchor="middle" font-weight="normal" fill="#000" font-family="Liberation Sans" font-style="normal" >2</text>
<line x1="524.60" y1="751.00" x2="524.60" y2="752.40" stroke="#fff" stroke-width="0.45" />
<line x1="524.60" y1="755.40" x2="524.60" y2="756.80" stroke="#fff" stroke-width="0.45" />
<text x="524.60" y="762.40" font-size="5.4" text-anchor="middle" font-weight="normal" fill="#000" font-family="Liberation Sans" font-style="normal" >4</text>
<line x1="574.75" y1="751.00" x2="574.75" y2="752.40" stroke="#fff" stroke-width="0.45" />
<line x1="574.75" y1="755.40" x2="574.75" y2="756.80" stroke="#fff" stroke-width="0.45" />
<text x="574.75" y="762.40" font-size="5.4" text-anchor="middle" font-weight="normal" fill="#000" font-family="Liberation Sans" font-style="normal" >6</text>
<line x1="624.90" y1="751.00" x2="624.90" y2="752.40" stroke="#fff" stroke-width="0.45" />
<line x1="624.90" y1="755.40" x2="624.90" y2="756.80" stroke="#fff" stroke-width="0.45" />
<text x="624.90" y="762.40" font-size="5.4" text-anchor="middle" font-weight="normal" fill="#000" font-family="Liberation Sans" font-style="normal" >8</text>
<text x="524.70" y="770.90" font-size="5.4" text-anchor="middle" font-weight="bold" fill="#000" font-family="Liberation Sans" font-style="normal" >Group based on date</text>
<rect x="473.80" y="774.90" width="5.10" height="5.10" fill="#9b0b45" stroke="none" stroke-width="0" rx="0" />
<text x="480.50" y="779.50" font-size="5.4" text-anchor="start" font-weight="normal" fill="#111" font-family="Liberation Sans" font-style="normal" >LH3</text>
<rect x="494.60" y="774.90" width="5.10" height="5.10" fill="#e22079" stroke="none" stroke-width="0" rx="0" />
<text x="501.30" y="779.50" font-size="5.4" text-anchor="start" font-weight="normal" fill="#111" font-family="Liberation Sans" font-style="normal" >LH5</text>
<rect x="515.40" y="774.90" width="5.10" height="5.10" fill="#de63b1" stroke="none" stroke-width="0" rx="0" />
<text x="522.10" y="779.50" font-size="5.4" text-anchor="start" font-weight="normal" fill="#111" font-family="Liberation Sans" font-style="normal" >LH7</text>
<rect x="536.10" y="774.90" width="5.10" height="5.10" fill="#d8b3da" stroke="none" stroke-width="0" rx="0" />
<text x="542.80" y="779.50" font-size="5.4" text-anchor="start" font-weight="normal" fill="#111" font-family="Liberation Sans" font-style="normal" >LH9</text>
<rect x="556.80" y="774.90" width="5.10" height="5.10" fill="#fdc6bf" stroke="none" stroke-width="0" rx="0" />
<text x="563.50" y="779.50" font-size="5.4" text-anchor="start" font-weight="normal" fill="#111" font-family="Liberation Sans" font-style="normal" >LH11</text>
<rect x="428.60" y="788.50" width="30.20" height="6.00" fill="#fff" stroke="#f58b8b" stroke-width="0.45" rx="0" />
<text x="443.70" y="793.90" font-size="6.6" text-anchor="middle" font-weight="normal" fill="#ee5560" font-family="Liberation Sans" font-style="normal" >Gene</text>
<text x="460.60" y="793.10" font-size="5.5" text-anchor="start" font-weight="normal" fill="#111" font-family="Liberation Sans" font-style="normal" >Transcription factor</text>
<rect x="536.40" y="788.50" width="30.20" height="6.00" fill="#fff" stroke="#f0dd7c" stroke-width="0.45" rx="0" />
<text x="551.50" y="793.90" font-size="6.6" text-anchor="middle" font-weight="normal" fill="#ecd768" font-family="Liberation Sans" font-style="normal" >Gene</text>
<text x="568.60" y="793.10" font-size="5.5" text-anchor="start" font-weight="normal" fill="#111" font-family="Liberation Sans" font-style="normal" >Ligand−receptor gene</text>
</g>
</g>
<g id="panel_e">
<text x="-0.70" y="574.40" font-size="19.3" text-anchor="start" font-weight="normal" fill="#000" font-family="Liberation Sans" font-style="normal" >e</text>
<text x="94.00" y="586.60" font-size="7.6" text-anchor="middle" font-weight="bold" fill="#000" font-family="Liberation Sans" font-style="normal" >epithelial cell (110 cells)</text>
<text x="94.00" y="598.90" font-size="5.85" text-anchor="middle" font-weight="bold" fill="#000" font-family="Liberation Sans" font-style="normal" >E34 (new sample)</text>
<path d="M70.79 661.30v-1.55h1.70v1.55zM76.38 661.30v-1.06h1.70v1.06zM78.96 661.30v-1.55h1.70v1.55zM81.11 661.30v-2.11h1.70v2.11zM84.55 661.30v-5.29h1.70v5.29zM86.27 661.30v-3.17h1.70v3.17zM88.85 661.30v-4.93h1.70v4.93zM90.57 661.30v-7.76h1.70v7.76zM92.29 661.30v-11.63h1.70v11.63zM94.01 661.30v-8.46h1.70v8.46zM95.30 661.30v-16.57h1.70v16.57zM96.59 661.30v-13.75h1.70v13.75zM97.88 661.30v-9.17h1.70v9.17zM99.17 661.30v-11.28h1.70v11.28zM100.89 661.30v-9.52h1.70v9.52zM102.61 661.30v-6.34h1.70v6.34zM104.33 661.30v-5.29h1.70v5.29zM106.05 661.30v-4.23h1.70v4.23zM107.77 661.30v-3.17h1.70v3.17zM109.49 661.30v-2.11h1.70v2.11zM111.21 661.30v-4.23h1.70v4.23zM112.93 661.30v-2.11h1.70v2.11zM115.51 661.30v-1.55h1.70v1.55zM118.09 661.30v-2.11h1.70v2.11zM119.81 661.30v-1.06h1.70v1.06zM125.83 661.30v-2.68h1.70v2.68zM89.28 661.30v-3.52h1.70v3.52zM93.15 661.30v-6.34h1.70v6.34z" fill="#5a2620" stroke="#0c0606" stroke-width="0.55"/>
<line x1="61.75" y1="602.50" x2="61.75" y2="663.90" stroke="#b5281f" stroke-width="0.75" stroke-dasharray="2.3 1.9"/>
<line x1="83.25" y1="602.50" x2="83.25" y2="663.90" stroke="#b5281f" stroke-width="0.75" stroke-dasharray="2.3 1.9"/>
<line x1="104.75" y1="602.50" x2="104.75" y2="663.90" stroke="#b5281f" stroke-width="0.75" stroke-dasharray="2.3 1.9"/>
<line x1="126.25" y1="602.50" x2="126.25" y2="663.90" stroke="#b5281f" stroke-width="0.75" stroke-dasharray="2.3 1.9"/>
<line x1="35.20" y1="602.60" x2="35.20" y2="664.20" stroke="#1a1a1a" stroke-width="0.65" />
<line x1="34.90" y1="663.90" x2="152.70" y2="663.90" stroke="#1a1a1a" stroke-width="0.65" />
<line x1="33.80" y1="661.30" x2="35.20" y2="661.30" stroke="#222" stroke-width="0.45" />
<text x="32.80" y="663.00" font-size="5.2" text-anchor="end" font-weight="normal" fill="#222" font-family="Liberation Sans" font-style="normal" >0</text>
<line x1="33.80" y1="647.20" x2="35.20" y2="647.20" stroke="#222" stroke-width="0.45" />
<text x="32.80" y="648.90" font-size="5.2" text-anchor="end" font-weight="normal" fill="#222" font-family="Liberation Sans" font-style="normal" >2</text>
<line x1="33.80" y1="633.10" x2="35.20" y2="633.10" stroke="#222" stroke-width="0.45" />
<text x="32.80" y="634.80" font-size="5.2" text-anchor="end" font-weight="normal" fill="#222" font-family="Liberation Sans" font-style="normal" >4</text>
<line x1="33.80" y1="619.00" x2="35.20" y2="619.00" stroke="#222" stroke-width="0.45" />
<text x="32.80" y="620.70" font-size="5.2" text-anchor="end" font-weight="normal" fill="#222" font-family="Liberation Sans" font-style="normal" >6</text>
<line x1="33.80" y1="604.90" x2="35.20" y2="604.90" stroke="#222" stroke-width="0.45" />
<text x="32.80" y="606.60" font-size="5.2" text-anchor="end" font-weight="normal" fill="#222" font-family="Liberation Sans" font-style="normal" >8</text>
<line x1="51.00" y1="663.90" x2="51.00" y2="665.30" stroke="#222" stroke-width="0.45" />
<text x="51.00" y="670.30" font-size="5.2" text-anchor="middle" font-weight="normal" fill="#222" font-family="Liberation Sans" font-style="normal" >−1.0</text>
<line x1="72.50" y1="663.90" x2="72.50" y2="665.30" stroke="#222" stroke-width="0.45" />
<text x="72.50" y="670.30" font-size="5.2" text-anchor="middle" font-weight="normal" fill="#222" font-family="Liberation Sans" font-style="normal" >−0.5</text>
<line x1="94.00" y1="663.90" x2="94.00" y2="665.30" stroke="#222" stroke-width="0.45" />
<text x="94.00" y="670.30" font-size="5.2" text-anchor="middle" font-weight="normal" fill="#222" font-family="Liberation Sans" font-style="normal" >0.0</text>
<line x1="115.50" y1="663.90" x2="115.50" y2="665.30" stroke="#222" stroke-width="0.45" />
<text x="115.50" y="670.30" font-size="5.2" text-anchor="middle" font-weight="normal" fill="#222" font-family="Liberation Sans" font-style="normal" >0.5</text>
<line x1="137.00" y1="663.90" x2="137.00" y2="665.30" stroke="#222" stroke-width="0.45" />
<text x="137.00" y="670.30" font-size="5.2" text-anchor="middle" font-weight="normal" fill="#222" font-family="Liberation Sans" font-style="normal" >1.0</text>
<text x="51.00" y="612.40" font-size="5.1" text-anchor="middle" font-weight="normal" fill="#000" font-family="Liberation Sans" font-style="normal" >0.00%</text>
<text x="72.50" y="612.40" font-size="5.1" text-anchor="middle" font-weight="normal" fill="#000" font-family="Liberation Sans" font-style="normal" >4.55%</text>
<text x="94.00" y="612.40" font-size="5.1" text-anchor="middle" font-weight="normal" fill="#000" font-family="Liberation Sans" font-style="normal" >75.45%</text>
<text x="115.50" y="612.40" font-size="5.1" text-anchor="middle" font-weight="normal" fill="#000" font-family="Liberation Sans" font-style="normal" >18.18%</text>
<text x="137.00" y="612.40" font-size="5.1" text-anchor="middle" font-weight="normal" fill="#000" font-family="Liberation Sans" font-style="normal" >1.82%</text>
<text x="94.00" y="677.80" font-size="6.2" text-anchor="middle" font-weight="normal" fill="#000" font-family="Liberation Sans" font-style="normal" >predicted time</text>
<text x="26.00" y="633.30" font-size="6.2" text-anchor="middle" font-weight="normal" fill="#000" font-family="Liberation Sans" font-style="normal" transform="rotate(-90 26.0 633.3)">density</text>
<text x="227.50" y="586.60" font-size="7.6" text-anchor="middle" font-weight="bold" fill="#000" font-family="Liberation Sans" font-style="normal" >stromal cell (246 cells)</text>
<text x="227.50" y="598.90" font-size="5.85" text-anchor="middle" font-weight="bold" fill="#000" font-family="Liberation Sans" font-style="normal" >E34 (new sample)</text>
<path d="M188.05 661.30v-0.85h1.50v0.85zM190.63 661.30v-0.85h1.50v0.85zM193.21 661.30v-2.47h1.50v2.47zM194.07 661.30v-3.52h1.50v3.52zM200.95 661.30v-0.85h1.50v0.85zM203.10 661.30v-0.85h1.50v0.85zM206.11 661.30v-0.85h1.50v0.85zM212.56 661.30v-1.76h1.50v1.76zM214.28 661.30v-4.58h1.50v4.58zM216.00 661.30v-2.82h1.50v2.82zM217.72 661.30v-1.76h1.50v1.76zM222.45 661.30v-3.52h1.50v3.52zM223.74 661.30v-7.05h1.50v7.05zM225.03 661.30v-16.92h1.50v16.92zM226.10 661.30v-30.31h1.50v30.31zM226.75 661.30v-45.82h1.50v45.82zM227.82 661.30v-43.71h1.50v43.71zM228.90 661.30v-35.25h1.50v35.25zM229.97 661.30v-37.36h1.50v37.36zM231.05 661.30v-25.38h1.50v25.38zM232.12 661.30v-18.33h1.50v18.33zM233.20 661.30v-20.45h1.50v20.45zM234.28 661.30v-11.28h1.50v11.28zM235.35 661.30v-9.17h1.50v9.17zM236.43 661.30v-7.05h1.50v7.05zM237.50 661.30v-11.28h1.50v11.28zM238.57 661.30v-4.93h1.50v4.93zM239.65 661.30v-3.52h1.50v3.52zM240.94 661.30v-8.81h1.50v8.81zM242.23 661.30v-4.23h1.50v4.23zM243.95 661.30v-3.52h1.50v3.52zM245.67 661.30v-5.29h1.50v5.29zM247.39 661.30v-2.82h1.50v2.82zM249.11 661.30v-5.29h1.50v5.29zM250.83 661.30v-4.23h1.50v4.23zM252.55 661.30v-3.52h1.50v3.52zM254.27 661.30v-2.47h1.50v2.47zM255.99 661.30v-1.76h1.50v1.76zM258.57 661.30v-0.85h1.50v0.85zM262.01 661.30v-0.85h1.50v0.85zM265.02 661.30v-0.85h1.50v0.85z" fill="#5a2620" stroke="#0c0606" stroke-width="0.55"/>
<line x1="195.25" y1="602.50" x2="195.25" y2="663.90" stroke="#b5281f" stroke-width="0.75" stroke-dasharray="2.3 1.9"/>
<line x1="216.75" y1="602.50" x2="216.75" y2="663.90" stroke="#b5281f" stroke-width="0.75" stroke-dasharray="2.3 1.9"/>
<line x1="238.25" y1="602.50" x2="238.25" y2="663.90" stroke="#b5281f" stroke-width="0.75" stroke-dasharray="2.3 1.9"/>
<line x1="259.75" y1="602.50" x2="259.75" y2="663.90" stroke="#b5281f" stroke-width="0.75" stroke-dasharray="2.3 1.9"/>
<line x1="168.80" y1="602.60" x2="168.80" y2="664.20" stroke="#1a1a1a" stroke-width="0.65" />
<line x1="168.50" y1="663.90" x2="286.30" y2="663.90" stroke="#1a1a1a" stroke-width="0.65" />
<line x1="167.40" y1="661.30" x2="168.80" y2="661.30" stroke="#222" stroke-width="0.45" />
<text x="166.40" y="663.00" font-size="5.2" text-anchor="end" font-weight="normal" fill="#222" font-family="Liberation Sans" font-style="normal" >0</text>
<line x1="167.40" y1="647.20" x2="168.80" y2="647.20" stroke="#222" stroke-width="0.45" />
<text x="166.40" y="648.90" font-size="5.2" text-anchor="end" font-weight="normal" fill="#222" font-family="Liberation Sans" font-style="normal" >2</text>
<line x1="167.40" y1="633.10" x2="168.80" y2="633.10" stroke="#222" stroke-width="0.45" />
<text x="166.40" y="634.80" font-size="5.2" text-anchor="end" font-weight="normal" fill="#222" font-family="Liberation Sans" font-style="normal" >4</text>
<line x1="167.40" y1="619.00" x2="168.80" y2="619.00" stroke="#222" stroke-width="0.45" />
<text x="166.40" y="620.70" font-size="5.2" text-anchor="end" font-weight="normal" fill="#222" font-family="Liberation Sans" font-style="normal" >6</text>
<line x1="167.40" y1="604.90" x2="168.80" y2="604.90" stroke="#222" stroke-width="0.45" />
<text x="166.40" y="606.60" font-size="5.2" text-anchor="end" font-weight="normal" fill="#222" font-family="Liberation Sans" font-style="normal" >8</text>
<line x1="184.50" y1="663.90" x2="184.50" y2="665.30" stroke="#222" stroke-width="0.45" />
<text x="184.50" y="670.30" font-size="5.2" text-anchor="middle" font-weight="normal" fill="#222" font-family="Liberation Sans" font-style="normal" >−1.0</text>
<line x1="206.00" y1="663.90" x2="206.00" y2="665.30" stroke="#222" stroke-width="0.45" />
<text x="206.00" y="670.30" font-size="5.2" text-anchor="middle" font-weight="normal" fill="#222" font-family="Liberation Sans" font-style="normal" >−0.5</text>
<line x1="227.50" y1="663.90" x2="227.50" y2="665.30" stroke="#222" stroke-width="0.45" />
<text x="227.50" y="670.30" font-size="5.2" text-anchor="middle" font-weight="normal" fill="#222" font-family="Liberation Sans" font-style="normal" >0.0</text>
<line x1="249.00" y1="663.90" x2="249.00" y2="665.30" stroke="#222" stroke-width="0.45" />
<text x="249.00" y="670.30" font-size="5.2" text-anchor="middle" font-weight="normal" fill="#222" font-family="Liberation Sans" font-style="normal" >0.5</text>
<line x1="270.50" y1="663.90" x2="270.50" y2="665.30" stroke="#222" stroke-width="0.45" />
<text x="270.50" y="670.30" font-size="5.2" text-anchor="middle" font-weight="normal" fill="#222" font-family="Liberation Sans" font-style="normal" >1.0</text>
<text x="184.50" y="612.40" font-size="5.1" text-anchor="middle" font-weight="normal" fill="#000" font-family="Liberation Sans" font-style="normal" >2.44%</text>
<text x="206.00" y="612.40" font-size="5.1" text-anchor="middle" font-weight="normal" fill="#000" font-family="Liberation Sans" font-style="normal" >4.07%</text>
<text x="227.50" y="612.40" font-size="5.1" text-anchor="middle" font-weight="normal" fill="#000" font-family="Liberation Sans" font-style="normal" >78.46%</text>
<text x="249.00" y="612.40" font-size="5.1" text-anchor="middle" font-weight="normal" fill="#000" font-family="Liberation Sans" font-style="normal" >14.23%</text>
<text x="270.50" y="612.40" font-size="5.1" text-anchor="middle" font-weight="normal" fill="#000" font-family="Liberation Sans" font-style="normal" >0.81%</text>
<text x="227.50" y="677.80" font-size="6.2" text-anchor="middle" font-weight="normal" fill="#000" font-family="Liberation Sans" font-style="normal" >predicted time</text>
<text x="159.60" y="633.30" font-size="6.2" text-anchor="middle" font-weight="normal" fill="#000" font-family="Liberation Sans" font-style="normal" transform="rotate(-90 159.6 633.3)">density</text>
<text x="95.20" y="695.40" font-size="7.6" text-anchor="middle" font-weight="bold" fill="#000" font-family="Liberation Sans" font-style="normal" >epithelial cell (481 cells)</text>
<text x="95.20" y="707.70" font-size="5.85" text-anchor="middle" font-weight="bold" fill="#000" font-family="Liberation Sans" font-style="normal" >E35 (LH7_1 1yr later)</text>
<path d="M68.70 770.10v-0.48h0.75v0.48zM69.24 770.10v-0.52h0.75v0.52zM72.46 770.10v-0.76h0.75v0.76zM73.54 770.10v-0.82h0.75v0.82zM75.15 770.10v-0.72h0.75v0.72zM75.69 770.10v-0.88h0.75v0.88zM76.23 770.10v-0.94h0.75v0.94zM77.30 770.10v-0.86h0.75v0.86zM79.99 770.10v-1.44h0.75v1.44zM81.60 770.10v-1.38h0.75v1.38zM82.14 770.10v-1.39h0.75v1.39zM82.68 770.10v-2.33h0.75v2.33zM83.21 770.10v-1.82h0.75v1.82zM83.75 770.10v-1.95h0.75v1.95zM84.29 770.10v-2.95h0.75v2.95zM84.83 770.10v-2.97h0.75v2.97zM85.36 770.10v-2.38h0.75v2.38zM85.90 770.10v-3.39h0.75v3.39zM86.44 770.10v-2.95h0.75v2.95zM86.98 770.10v-3.28h0.75v3.28zM87.52 770.10v-2.70h0.75v2.70zM88.05 770.10v-3.97h0.75v3.97zM88.59 770.10v-3.95h0.75v3.95zM89.13 770.10v-5.25h0.75v5.25zM89.67 770.10v-5.90h0.75v5.90zM90.20 770.10v-5.08h0.75v5.08zM90.74 770.10v-5.87h0.75v5.87zM91.28 770.10v-5.84h0.75v5.84zM91.81 770.10v-6.33h0.75v6.33zM92.35 770.10v-6.56h0.75v6.56zM92.89 770.10v-8.66h0.75v8.66zM93.43 770.10v-12.34h0.75v12.34zM93.97 770.10v-10.58h0.75v10.58zM94.50 770.10v-17.50h0.75v17.50zM95.04 770.10v-16.97h0.75v16.97zM95.58 770.10v-19.00h0.75v19.00zM96.11 770.10v-27.06h0.75v27.06zM96.65 770.10v-26.54h0.75v26.54zM97.19 770.10v-27.45h0.75v27.45zM97.73 770.10v-33.98h0.75v33.98zM98.27 770.10v-42.84h0.75v42.84zM98.80 770.10v-33.01h0.75v33.01zM99.34 770.10v-45.82h0.75v45.82zM99.88 770.10v-26.21h0.75v26.21zM100.41 770.10v-34.08h0.75v34.08zM100.95 770.10v-31.26h0.75v31.26zM101.49 770.10v-17.97h0.75v17.97zM102.03 770.10v-22.89h0.75v22.89zM102.56 770.10v-15.45h0.75v15.45zM103.10 770.10v-13.38h0.75v13.38zM103.64 770.10v-7.76h0.75v7.76zM104.18 770.10v-6.90h0.75v6.90zM104.72 770.10v-6.34h0.75v6.34zM105.25 770.10v-7.52h0.75v7.52zM105.79 770.10v-4.60h0.75v4.60zM106.33 770.10v-6.15h0.75v6.15zM107.40 770.10v-3.45h0.75v3.45zM107.94 770.10v-5.12h0.75v5.12zM108.48 770.10v-4.16h0.75v4.16zM109.02 770.10v-7.36h0.75v7.36zM109.55 770.10v-4.78h0.75v4.78zM110.09 770.10v-5.02h0.75v5.02zM111.17 770.10v-5.24h0.75v5.24zM111.70 770.10v-4.03h0.75v4.03zM112.24 770.10v-2.54h0.75v2.54zM112.78 770.10v-3.74h0.75v3.74zM113.85 770.10v-1.98h0.75v1.98zM114.39 770.10v-3.19h0.75v3.19zM114.93 770.10v-2.30h0.75v2.30zM115.47 770.10v-3.17h0.75v3.17zM116.00 770.10v-2.38h0.75v2.38zM116.54 770.10v-3.02h0.75v3.02zM117.62 770.10v-1.28h0.75v1.28zM118.15 770.10v-1.52h0.75v1.52zM118.69 770.10v-1.47h0.75v1.47zM119.23 770.10v-2.39h0.75v2.39zM119.77 770.10v-2.30h0.75v2.30zM120.30 770.10v-3.11h0.75v3.11zM120.84 770.10v-1.49h0.75v1.49zM122.45 770.10v-1.10h0.75v1.10zM122.99 770.10v-1.51h0.75v1.51zM124.06 770.10v-1.54h0.75v1.54zM125.14 770.10v-1.81h0.75v1.81zM126.21 770.10v-1.49h0.75v1.49zM127.83 770.10v-1.57h0.75v1.57zM128.36 770.10v-1.83h0.75v1.83zM128.90 770.10v-1.13h0.75v1.13zM129.44 770.10v-1.08h0.75v1.08zM129.98 770.10v-0.75h0.75v0.75zM130.51 770.10v-0.61h0.75v0.61zM131.05 770.10v-1.22h0.75v1.22zM131.59 770.10v-0.51h0.75v0.51zM132.13 770.10v-0.77h0.75v0.77zM132.66 770.10v-0.77h0.75v0.77zM133.20 770.10v-0.77h0.75v0.77zM133.74 770.10v-0.72h0.75v0.72zM134.81 770.10v-0.83h0.75v0.83zM135.35 770.10v-0.83h0.75v0.83z" fill="#1c0c0a" stroke="#0c0606" stroke-width="0.55"/>
<line x1="62.95" y1="711.30" x2="62.95" y2="772.70" stroke="#b5281f" stroke-width="0.75" stroke-dasharray="2.3 1.9"/>
<line x1="84.45" y1="711.30" x2="84.45" y2="772.70" stroke="#b5281f" stroke-width="0.75" stroke-dasharray="2.3 1.9"/>
<line x1="105.95" y1="711.30" x2="105.95" y2="772.70" stroke="#b5281f" stroke-width="0.75" stroke-dasharray="2.3 1.9"/>
<line x1="127.45" y1="711.30" x2="127.45" y2="772.70" stroke="#b5281f" stroke-width="0.75" stroke-dasharray="2.3 1.9"/>
<line x1="36.70" y1="711.40" x2="36.70" y2="773.00" stroke="#1a1a1a" stroke-width="0.65" />
<line x1="36.40" y1="772.70" x2="154.20" y2="772.70" stroke="#1a1a1a" stroke-width="0.65" />
<line x1="35.30" y1="770.10" x2="36.70" y2="770.10" stroke="#222" stroke-width="0.45" />
<text x="34.30" y="771.80" font-size="5.2" text-anchor="end" font-weight="normal" fill="#222" font-family="Liberation Sans" font-style="normal" >0</text>
<line x1="35.30" y1="756.00" x2="36.70" y2="756.00" stroke="#222" stroke-width="0.45" />
<text x="34.30" y="757.70" font-size="5.2" text-anchor="end" font-weight="normal" fill="#222" font-family="Liberation Sans" font-style="normal" >2</text>
<line x1="35.30" y1="741.90" x2="36.70" y2="741.90" stroke="#222" stroke-width="0.45" />
<text x="34.30" y="743.60" font-size="5.2" text-anchor="end" font-weight="normal" fill="#222" font-family="Liberation Sans" font-style="normal" >4</text>
<line x1="35.30" y1="727.80" x2="36.70" y2="727.80" stroke="#222" stroke-width="0.45" />
<text x="34.30" y="729.50" font-size="5.2" text-anchor="end" font-weight="normal" fill="#222" font-family="Liberation Sans" font-style="normal" >6</text>
<line x1="35.30" y1="713.70" x2="36.70" y2="713.70" stroke="#222" stroke-width="0.45" />
<text x="34.30" y="715.40" font-size="5.2" text-anchor="end" font-weight="normal" fill="#222" font-family="Liberation Sans" font-style="normal" >8</text>
<line x1="52.20" y1="772.70" x2="52.20" y2="774.10" stroke="#222" stroke-width="0.45" />
<text x="52.20" y="779.10" font-size="5.2" text-anchor="middle" font-weight="normal" fill="#222" font-family="Liberation Sans" font-style="normal" >−1.0</text>
<line x1="73.70" y1="772.70" x2="73.70" y2="774.10" stroke="#222" stroke-width="0.45" />
<text x="73.70" y="779.10" font-size="5.2" text-anchor="middle" font-weight="normal" fill="#222" font-family="Liberation Sans" font-style="normal" >−0.5</text>
<line x1="95.20" y1="772.70" x2="95.20" y2="774.10" stroke="#222" stroke-width="0.45" />
<text x="95.20" y="779.10" font-size="5.2" text-anchor="middle" font-weight="normal" fill="#222" font-family="Liberation Sans" font-style="normal" >0.0</text>
<line x1="116.70" y1="772.70" x2="116.70" y2="774.10" stroke="#222" stroke-width="0.45" />
<text x="116.70" y="779.10" font-size="5.2" text-anchor="middle" font-weight="normal" fill="#222" font-family="Liberation Sans" font-style="normal" >0.5</text>
<line x1="138.20" y1="772.70" x2="138.20" y2="774.10" stroke="#222" stroke-width="0.45" />
<text x="138.20" y="779.10" font-size="5.2" text-anchor="middle" font-weight="normal" fill="#222" font-family="Liberation Sans" font-style="normal" >1.0</text>
<text x="52.20" y="721.20" font-size="5.1" text-anchor="middle" font-weight="normal" fill="#000" font-family="Liberation Sans" font-style="normal" >0.00%</text>
<text x="73.70" y="721.20" font-size="5.1" text-anchor="middle" font-weight="normal" fill="#000" font-family="Liberation Sans" font-style="normal" >1.87%</text>
<text x="95.20" y="721.20" font-size="5.1" text-anchor="middle" font-weight="normal" fill="#000" font-family="Liberation Sans" font-style="normal" >81.29%</text>
<text x="116.70" y="721.20" font-size="5.1" text-anchor="middle" font-weight="normal" fill="#000" font-family="Liberation Sans" font-style="normal" >15.18%</text>
<text x="138.20" y="721.20" font-size="5.1" text-anchor="middle" font-weight="normal" fill="#000" font-family="Liberation Sans" font-style="normal" >1.66%</text>
<text x="95.20" y="786.60" font-size="6.2" text-anchor="middle" font-weight="normal" fill="#000" font-family="Liberation Sans" font-style="normal" >predicted time</text>
<text x="27.50" y="742.10" font-size="6.2" text-anchor="middle" font-weight="normal" fill="#000" font-family="Liberation Sans" font-style="normal" transform="rotate(-90 27.5 742.1)">density</text>
<text x="227.40" y="695.40" font-size="7.6" text-anchor="middle" font-weight="bold" fill="#000" font-family="Liberation Sans" font-style="normal" >stromal cell (239 cells)</text>
<text x="227.40" y="707.70" font-size="5.85" text-anchor="middle" font-weight="bold" fill="#000" font-family="Liberation Sans" font-style="normal" >E35 (LH7_1 1yr later)</text>
<path d="M204.29 770.10v-0.99h1.50v0.99zM222.35 770.10v-3.52h1.50v3.52zM223.43 770.10v-7.05h1.50v7.05zM224.50 770.10v-11.98h1.50v11.98zM225.58 770.10v-21.15h1.50v21.15zM226.65 770.10v-28.90h1.50v28.90zM227.72 770.10v-39.48h1.50v39.48zM228.80 770.10v-47.23h1.50v47.23zM229.88 770.10v-35.25h1.50v35.25zM230.95 770.10v-30.31h1.50v30.31zM232.03 770.10v-23.26h1.50v23.26zM233.10 770.10v-18.33h1.50v18.33zM234.18 770.10v-11.98h1.50v11.98zM235.25 770.10v-14.80h1.50v14.80zM236.33 770.10v-10.57h1.50v10.57zM237.40 770.10v-6.34h1.50v6.34zM238.69 770.10v-4.93h1.50v4.93zM239.98 770.10v-5.99h1.50v5.99zM241.27 770.10v-4.23h1.50v4.23zM242.56 770.10v-5.99h1.50v5.99zM243.85 770.10v-4.93h1.50v4.93zM245.14 770.10v-3.52h1.50v3.52zM246.43 770.10v-4.93h1.50v4.93zM248.15 770.10v-3.52h1.50v3.52zM249.87 770.10v-2.47h1.50v2.47zM251.16 770.10v-4.23h1.50v4.23zM253.31 770.10v-2.47h1.50v2.47zM255.03 770.10v-2.47h1.50v2.47zM256.75 770.10v-2.47h1.50v2.47z" fill="#5a2620" stroke="#0c0606" stroke-width="0.55"/>
<line x1="195.15" y1="711.30" x2="195.15" y2="772.70" stroke="#b5281f" stroke-width="0.75" stroke-dasharray="2.3 1.9"/>
<line x1="216.65" y1="711.30" x2="216.65" y2="772.70" stroke="#b5281f" stroke-width="0.75" stroke-dasharray="2.3 1.9"/>
<line x1="238.15" y1="711.30" x2="238.15" y2="772.70" stroke="#b5281f" stroke-width="0.75" stroke-dasharray="2.3 1.9"/>
<line x1="259.65" y1="711.30" x2="259.65" y2="772.70" stroke="#b5281f" stroke-width="0.75" stroke-dasharray="2.3 1.9"/>
<line x1="168.80" y1="711.40" x2="168.80" y2="773.00" stroke="#1a1a1a" stroke-width="0.65" />
<line x1="168.50" y1="772.70" x2="286.30" y2="772.70" stroke="#1a1a1a" stroke-width="0.65" />
<line x1="167.40" y1="770.10" x2="168.80" y2="770.10" stroke="#222" stroke-width="0.45" />
<text x="166.40" y="771.80" font-size="5.2" text-anchor="end" font-weight="normal" fill="#222" font-family="Liberation Sans" font-style="normal" >0</text>
<line x1="167.40" y1="756.00" x2="168.80" y2="756.00" stroke="#222" stroke-width="0.45" />
<text x="166.40" y="757.70" font-size="5.2" text-anchor="end" font-weight="normal" fill="#222" font-family="Liberation Sans" font-style="normal" >2</text>
<line x1="167.40" y1="741.90" x2="168.80" y2="741.90" stroke="#222" stroke-width="0.45" />
<text x="166.40" y="743.60" font-size="5.2" text-anchor="end" font-weight="normal" fill="#222" font-family="Liberation Sans" font-style="normal" >4</text>
<line x1="167.40" y1="727.80" x2="168.80" y2="727.80" stroke="#222" stroke-width="0.45" />
<text x="166.40" y="729.50" font-size="5.2" text-anchor="end" font-weight="normal" fill="#222" font-family="Liberation Sans" font-style="normal" >6</text>
<line x1="167.40" y1="713.70" x2="168.80" y2="713.70" stroke="#222" stroke-width="0.45" />
<text x="166.40" y="715.40" font-size="5.2" text-anchor="end" font-weight="normal" fill="#222" font-family="Liberation Sans" font-style="normal" >8</text>
<line x1="184.40" y1="772.70" x2="184.40" y2="774.10" stroke="#222" stroke-width="0.45" />
<text x="184.40" y="779.10" font-size="5.2" text-anchor="middle" font-weight="normal" fill="#222" font-family="Liberation Sans" font-style="normal" >−1.0</text>
<line x1="205.90" y1="772.70" x2="205.90" y2="774.10" stroke="#222" stroke-width="0.45" />
<text x="205.90" y="779.10" font-size="5.2" text-anchor="middle" font-weight="normal" fill="#222" font-family="Liberation Sans" font-style="normal" >−0.5</text>
<line x1="227.40" y1="772.70" x2="227.40" y2="774.10" stroke="#222" stroke-width="0.45" />
<text x="227.40" y="779.10" font-size="5.2" text-anchor="middle" font-weight="normal" fill="#222" font-family="Liberation Sans" font-style="normal" >0.0</text>
<line x1="248.90" y1="772.70" x2="248.90" y2="774.10" stroke="#222" stroke-width="0.45" />
<text x="248.90" y="779.10" font-size="5.2" text-anchor="middle" font-weight="normal" fill="#222" font-family="Liberation Sans" font-style="normal" >0.5</text>
<line x1="270.40" y1="772.70" x2="270.40" y2="774.10" stroke="#222" stroke-width="0.45" />
<text x="270.40" y="779.10" font-size="5.2" text-anchor="middle" font-weight="normal" fill="#222" font-family="Liberation Sans" font-style="normal" >1.0</text>
<text x="184.40" y="721.20" font-size="5.1" text-anchor="middle" font-weight="normal" fill="#000" font-family="Liberation Sans" font-style="normal" >0.00%</text>
<text x="205.90" y="721.20" font-size="5.1" text-anchor="middle" font-weight="normal" fill="#000" font-family="Liberation Sans" font-style="normal" >0.42%</text>
<text x="227.40" y="721.20" font-size="5.1" text-anchor="middle" font-weight="normal" fill="#000" font-family="Liberation Sans" font-style="normal" >82.43%</text>
<text x="248.90" y="721.20" font-size="5.1" text-anchor="middle" font-weight="normal" fill="#000" font-family="Liberation Sans" font-style="normal" >17.15%</text>
<text x="270.40" y="721.20" font-size="5.1" text-anchor="middle" font-weight="normal" fill="#000" font-family="Liberation Sans" font-style="normal" >0.00%</text>
<text x="227.40" y="786.60" font-size="6.2" text-anchor="middle" font-weight="normal" fill="#000" font-family="Liberation Sans" font-style="normal" >predicted time</text>
<text x="159.60" y="742.10" font-size="6.2" text-anchor="middle" font-weight="normal" fill="#000" font-family="Liberation Sans" font-style="normal" transform="rotate(-90 159.6 742.1)">density</text>
</g>
</svg>
</body></html>
